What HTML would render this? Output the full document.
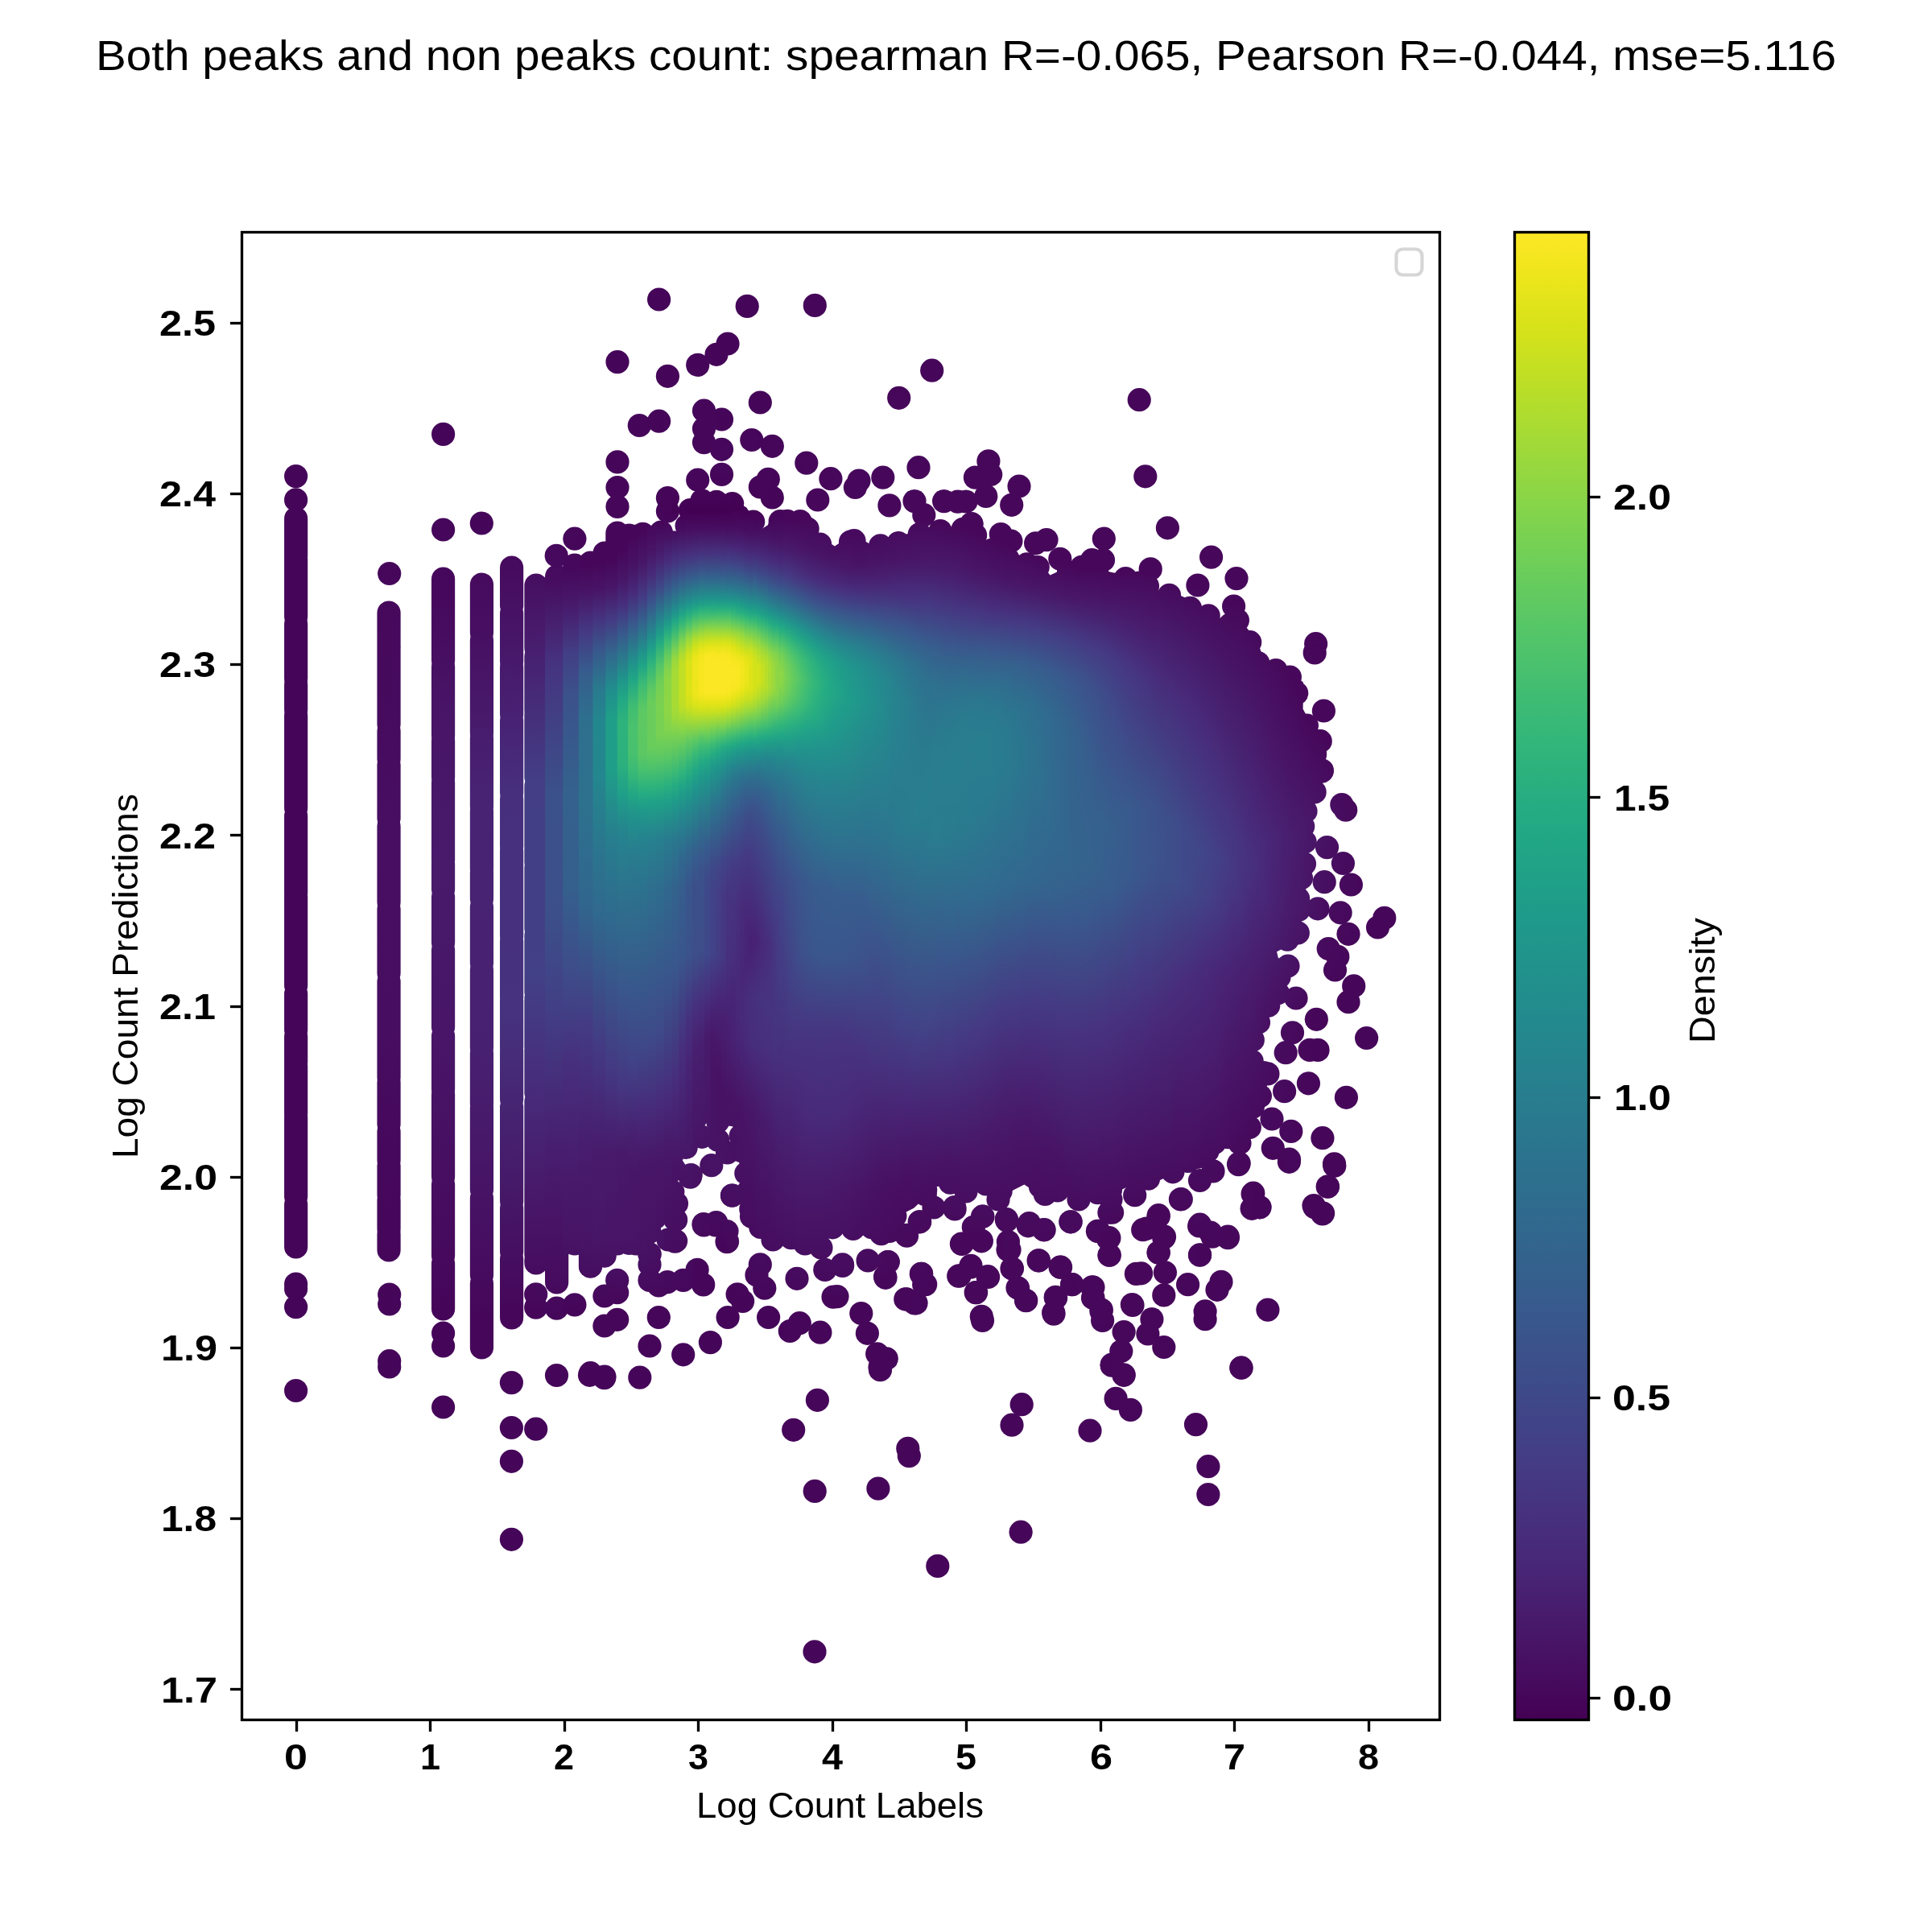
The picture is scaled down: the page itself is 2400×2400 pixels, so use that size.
<!DOCTYPE html>
<html><head><meta charset="utf-8"><title>density scatter</title><style>html,body{margin:0;padding:0;background:#fff;}</style></head><body>
<svg width="2400" height="2400" viewBox="0 0 2400 2400" style="display:block;font-family:'Liberation Sans',sans-serif">
<defs><linearGradient id="g0" gradientUnits="userSpaceOnUse" x1="0" y1="568" x2="0" y2="1752"><stop offset="0.000" stop-color="#450559"/><stop offset="1.000" stop-color="#450559"/></linearGradient>
<linearGradient id="g1" gradientUnits="userSpaceOnUse" x1="0" y1="688" x2="0" y2="1720"><stop offset="0.000" stop-color="#46075a"/><stop offset="0.333" stop-color="#470e61"/><stop offset="0.581" stop-color="#470d60"/><stop offset="0.709" stop-color="#46085c"/><stop offset="1.000" stop-color="#450559"/></linearGradient>
<linearGradient id="g2" gradientUnits="userSpaceOnUse" x1="0" y1="516" x2="0" y2="1772"><stop offset="0.000" stop-color="#450559"/><stop offset="0.178" stop-color="#46085c"/><stop offset="0.290" stop-color="#481467"/><stop offset="0.443" stop-color="#481a6c"/><stop offset="0.640" stop-color="#481467"/><stop offset="0.898" stop-color="#450559"/><stop offset="1.000" stop-color="#450559"/></linearGradient>
<linearGradient id="g3" gradientUnits="userSpaceOnUse" x1="0" y1="628" x2="0" y2="1928"><stop offset="0.000" stop-color="#450559"/><stop offset="0.114" stop-color="#470e61"/><stop offset="0.274" stop-color="#482374"/><stop offset="0.526" stop-color="#482071"/><stop offset="0.775" stop-color="#46075a"/><stop offset="1.000" stop-color="#450559"/></linearGradient>
<linearGradient id="g4" gradientUnits="userSpaceOnUse" x1="0" y1="680" x2="0" y2="1936"><stop offset="0.000" stop-color="#46085c"/><stop offset="0.166" stop-color="#482173"/><stop offset="0.242" stop-color="#472f7d"/><stop offset="0.462" stop-color="#46327e"/><stop offset="0.752" stop-color="#46075a"/><stop offset="1.000" stop-color="#450559"/></linearGradient>
<linearGradient id="g5" gradientUnits="userSpaceOnUse" x1="0" y1="676" x2="0" y2="1800"><stop offset="0.000" stop-color="#46075a"/><stop offset="0.100" stop-color="#481b6d"/><stop offset="0.260" stop-color="#433e85"/><stop offset="0.477" stop-color="#424086"/><stop offset="0.580" stop-color="#472f7d"/><stop offset="0.726" stop-color="#481769"/><stop offset="0.847" stop-color="#46075a"/><stop offset="1.000" stop-color="#450559"/></linearGradient>
<linearGradient id="g6" gradientUnits="userSpaceOnUse" x1="0" y1="656" x2="0" y2="1792"><stop offset="0.000" stop-color="#450559"/><stop offset="0.060" stop-color="#470d60"/><stop offset="0.148" stop-color="#46337f"/><stop offset="0.292" stop-color="#3b518b"/><stop offset="0.426" stop-color="#3c4f8a"/><stop offset="0.525" stop-color="#423f85"/><stop offset="0.683" stop-color="#481d6f"/><stop offset="0.806" stop-color="#470d60"/><stop offset="0.877" stop-color="#450559"/><stop offset="1.000" stop-color="#450559"/></linearGradient>
<linearGradient id="g7" gradientUnits="userSpaceOnUse" x1="0" y1="644" x2="0" y2="1732"><stop offset="0.000" stop-color="#46075a"/><stop offset="0.059" stop-color="#46085c"/><stop offset="0.103" stop-color="#481c6e"/><stop offset="0.154" stop-color="#423f85"/><stop offset="0.202" stop-color="#3b528b"/><stop offset="0.309" stop-color="#34618d"/><stop offset="0.423" stop-color="#355f8d"/><stop offset="0.518" stop-color="#3e4c8a"/><stop offset="0.621" stop-color="#472f7d"/><stop offset="0.743" stop-color="#481b6d"/><stop offset="0.827" stop-color="#471365"/><stop offset="0.908" stop-color="#450559"/><stop offset="1.000" stop-color="#450559"/></linearGradient>
<linearGradient id="g8" gradientUnits="userSpaceOnUse" x1="0" y1="648" x2="0" y2="1732"><stop offset="0.000" stop-color="#46075a"/><stop offset="0.052" stop-color="#46075a"/><stop offset="0.081" stop-color="#481467"/><stop offset="0.129" stop-color="#443b84"/><stop offset="0.173" stop-color="#365d8d"/><stop offset="0.225" stop-color="#2e6f8e"/><stop offset="0.321" stop-color="#2d718e"/><stop offset="0.439" stop-color="#31668e"/><stop offset="0.576" stop-color="#443b84"/><stop offset="0.720" stop-color="#481c6e"/><stop offset="0.834" stop-color="#471365"/><stop offset="0.897" stop-color="#46075a"/><stop offset="1.000" stop-color="#450559"/></linearGradient>
<linearGradient id="g9" gradientUnits="userSpaceOnUse" x1="0" y1="436" x2="0" y2="1736"><stop offset="0.000" stop-color="#450559"/><stop offset="0.203" stop-color="#46075a"/><stop offset="0.228" stop-color="#481467"/><stop offset="0.255" stop-color="#46327e"/><stop offset="0.286" stop-color="#38588c"/><stop offset="0.323" stop-color="#297a8e"/><stop offset="0.357" stop-color="#23888e"/><stop offset="0.409" stop-color="#24868e"/><stop offset="0.477" stop-color="#2b758e"/><stop offset="0.538" stop-color="#30698e"/><stop offset="0.668" stop-color="#443983"/><stop offset="0.769" stop-color="#481a6c"/><stop offset="0.846" stop-color="#481668"/><stop offset="0.911" stop-color="#46075a"/><stop offset="1.000" stop-color="#450559"/></linearGradient>
<linearGradient id="g10" gradientUnits="userSpaceOnUse" x1="0" y1="428" x2="0" y2="1736"><stop offset="0.000" stop-color="#450559"/><stop offset="0.205" stop-color="#46075a"/><stop offset="0.232" stop-color="#481769"/><stop offset="0.263" stop-color="#433d84"/><stop offset="0.294" stop-color="#31688e"/><stop offset="0.327" stop-color="#218e8d"/><stop offset="0.355" stop-color="#1f9f88"/><stop offset="0.404" stop-color="#1f9e89"/><stop offset="0.468" stop-color="#277e8e"/><stop offset="0.557" stop-color="#31668e"/><stop offset="0.685" stop-color="#443a83"/><stop offset="0.768" stop-color="#481a6c"/><stop offset="0.853" stop-color="#481467"/><stop offset="0.911" stop-color="#46075a"/><stop offset="1.000" stop-color="#450559"/></linearGradient>
<linearGradient id="g11" gradientUnits="userSpaceOnUse" x1="0" y1="428" x2="0" y2="1724"><stop offset="0.000" stop-color="#450559"/><stop offset="0.198" stop-color="#46075a"/><stop offset="0.225" stop-color="#481668"/><stop offset="0.250" stop-color="#46307e"/><stop offset="0.278" stop-color="#375b8d"/><stop offset="0.321" stop-color="#1f958b"/><stop offset="0.340" stop-color="#22a884"/><stop offset="0.361" stop-color="#2eb37c"/><stop offset="0.401" stop-color="#2cb17e"/><stop offset="0.432" stop-color="#1f9e89"/><stop offset="0.466" stop-color="#25848e"/><stop offset="0.633" stop-color="#3b528b"/><stop offset="0.710" stop-color="#453781"/><stop offset="0.778" stop-color="#48186a"/><stop offset="0.861" stop-color="#481467"/><stop offset="0.920" stop-color="#46075a"/><stop offset="1.000" stop-color="#450559"/></linearGradient>
<linearGradient id="g12" gradientUnits="userSpaceOnUse" x1="0" y1="436" x2="0" y2="1736"><stop offset="0.000" stop-color="#450559"/><stop offset="0.178" stop-color="#46075a"/><stop offset="0.206" stop-color="#471365"/><stop offset="0.231" stop-color="#472a7a"/><stop offset="0.258" stop-color="#3a548c"/><stop offset="0.298" stop-color="#20928c"/><stop offset="0.314" stop-color="#21a685"/><stop offset="0.342" stop-color="#42be71"/><stop offset="0.360" stop-color="#4ac16d"/><stop offset="0.385" stop-color="#48c16e"/><stop offset="0.403" stop-color="#38b977"/><stop offset="0.425" stop-color="#21a585"/><stop offset="0.446" stop-color="#21918c"/><stop offset="0.483" stop-color="#297b8e"/><stop offset="0.615" stop-color="#39568c"/><stop offset="0.680" stop-color="#414287"/><stop offset="0.751" stop-color="#481f70"/><stop offset="0.785" stop-color="#481668"/><stop offset="0.849" stop-color="#481467"/><stop offset="0.914" stop-color="#46075a"/><stop offset="1.000" stop-color="#450559"/></linearGradient>
<linearGradient id="g13" gradientUnits="userSpaceOnUse" x1="0" y1="504" x2="0" y2="1736"><stop offset="0.000" stop-color="#46075a"/><stop offset="0.127" stop-color="#46075a"/><stop offset="0.159" stop-color="#481769"/><stop offset="0.192" stop-color="#443a83"/><stop offset="0.218" stop-color="#33638d"/><stop offset="0.250" stop-color="#1f958b"/><stop offset="0.263" stop-color="#21a685"/><stop offset="0.282" stop-color="#3dbc74"/><stop offset="0.305" stop-color="#5ac864"/><stop offset="0.318" stop-color="#5ec962"/><stop offset="0.351" stop-color="#5cc863"/><stop offset="0.367" stop-color="#48c16e"/><stop offset="0.390" stop-color="#26ad81"/><stop offset="0.406" stop-color="#1e9b8a"/><stop offset="0.435" stop-color="#25838e"/><stop offset="0.494" stop-color="#2d708e"/><stop offset="0.649" stop-color="#3f4788"/><stop offset="0.714" stop-color="#482979"/><stop offset="0.766" stop-color="#481668"/><stop offset="0.847" stop-color="#471365"/><stop offset="0.909" stop-color="#46075a"/><stop offset="1.000" stop-color="#450559"/></linearGradient>
<linearGradient id="g14" gradientUnits="userSpaceOnUse" x1="0" y1="348" x2="0" y2="1732"><stop offset="0.000" stop-color="#450559"/><stop offset="0.220" stop-color="#46075a"/><stop offset="0.243" stop-color="#481467"/><stop offset="0.266" stop-color="#472d7b"/><stop offset="0.289" stop-color="#3a548c"/><stop offset="0.321" stop-color="#218f8d"/><stop offset="0.332" stop-color="#1fa287"/><stop offset="0.344" stop-color="#2fb47c"/><stop offset="0.367" stop-color="#5cc863"/><stop offset="0.379" stop-color="#69cd5b"/><stop offset="0.419" stop-color="#69cd5b"/><stop offset="0.436" stop-color="#50c46a"/><stop offset="0.457" stop-color="#2ab07f"/><stop offset="0.468" stop-color="#1fa287"/><stop offset="0.500" stop-color="#26828e"/><stop offset="0.543" stop-color="#2e6f8e"/><stop offset="0.679" stop-color="#3e4a89"/><stop offset="0.740" stop-color="#472d7b"/><stop offset="0.792" stop-color="#481668"/><stop offset="0.858" stop-color="#471365"/><stop offset="0.925" stop-color="#46075a"/><stop offset="1.000" stop-color="#450559"/></linearGradient>
<linearGradient id="g15" gradientUnits="userSpaceOnUse" x1="0" y1="348" x2="0" y2="1692"><stop offset="0.000" stop-color="#450559"/><stop offset="0.199" stop-color="#450559"/><stop offset="0.226" stop-color="#46075a"/><stop offset="0.256" stop-color="#482071"/><stop offset="0.283" stop-color="#3f4788"/><stop offset="0.312" stop-color="#26818e"/><stop offset="0.327" stop-color="#1e9d89"/><stop offset="0.336" stop-color="#26ad81"/><stop offset="0.357" stop-color="#56c667"/><stop offset="0.372" stop-color="#70cf57"/><stop offset="0.387" stop-color="#7ad151"/><stop offset="0.420" stop-color="#77d153"/><stop offset="0.440" stop-color="#5ec962"/><stop offset="0.467" stop-color="#2eb37c"/><stop offset="0.482" stop-color="#1fa187"/><stop offset="0.515" stop-color="#27808e"/><stop offset="0.560" stop-color="#2e6d8e"/><stop offset="0.693" stop-color="#3e4a89"/><stop offset="0.756" stop-color="#472d7b"/><stop offset="0.812" stop-color="#481668"/><stop offset="0.887" stop-color="#471164"/><stop offset="0.952" stop-color="#46075a"/><stop offset="1.000" stop-color="#450559"/></linearGradient>
<linearGradient id="g16" gradientUnits="userSpaceOnUse" x1="0" y1="348" x2="0" y2="1696"><stop offset="0.000" stop-color="#450559"/><stop offset="0.181" stop-color="#46075a"/><stop offset="0.217" stop-color="#450457"/><stop offset="0.234" stop-color="#470e61"/><stop offset="0.261" stop-color="#472f7d"/><stop offset="0.285" stop-color="#375a8c"/><stop offset="0.312" stop-color="#21918c"/><stop offset="0.320" stop-color="#20a386"/><stop offset="0.329" stop-color="#31b57b"/><stop offset="0.347" stop-color="#67cc5c"/><stop offset="0.359" stop-color="#81d34d"/><stop offset="0.368" stop-color="#8bd646"/><stop offset="0.398" stop-color="#8ed645"/><stop offset="0.415" stop-color="#7fd34e"/><stop offset="0.442" stop-color="#56c667"/><stop offset="0.466" stop-color="#29af7f"/><stop offset="0.481" stop-color="#1f9e89"/><stop offset="0.513" stop-color="#287c8e"/><stop offset="0.555" stop-color="#30698e"/><stop offset="0.653" stop-color="#3a538b"/><stop offset="0.745" stop-color="#472f7d"/><stop offset="0.798" stop-color="#48186a"/><stop offset="0.840" stop-color="#471365"/><stop offset="0.908" stop-color="#460b5e"/><stop offset="0.973" stop-color="#450559"/><stop offset="1.000" stop-color="#450559"/></linearGradient>
<linearGradient id="g17" gradientUnits="userSpaceOnUse" x1="0" y1="444" x2="0" y2="1704"><stop offset="0.000" stop-color="#450559"/><stop offset="0.121" stop-color="#46075a"/><stop offset="0.152" stop-color="#440256"/><stop offset="0.171" stop-color="#470d60"/><stop offset="0.203" stop-color="#453581"/><stop offset="0.225" stop-color="#355e8d"/><stop offset="0.251" stop-color="#20928c"/><stop offset="0.260" stop-color="#22a785"/><stop offset="0.270" stop-color="#38b977"/><stop offset="0.289" stop-color="#7cd250"/><stop offset="0.298" stop-color="#98d83e"/><stop offset="0.308" stop-color="#a5db36"/><stop offset="0.343" stop-color="#a8db34"/><stop offset="0.356" stop-color="#9bd93c"/><stop offset="0.368" stop-color="#81d34d"/><stop offset="0.406" stop-color="#3fbc73"/><stop offset="0.422" stop-color="#25ac82"/><stop offset="0.438" stop-color="#1f9a8a"/><stop offset="0.476" stop-color="#2a778e"/><stop offset="0.521" stop-color="#33638d"/><stop offset="0.603" stop-color="#39568c"/><stop offset="0.714" stop-color="#472d7b"/><stop offset="0.794" stop-color="#481467"/><stop offset="0.959" stop-color="#450559"/><stop offset="1.000" stop-color="#450559"/></linearGradient>
<linearGradient id="g18" gradientUnits="userSpaceOnUse" x1="0" y1="452" x2="0" y2="1708"><stop offset="0.000" stop-color="#450457"/><stop offset="0.099" stop-color="#46085c"/><stop offset="0.146" stop-color="#440256"/><stop offset="0.162" stop-color="#460b5e"/><stop offset="0.188" stop-color="#472c7a"/><stop offset="0.210" stop-color="#3a538b"/><stop offset="0.239" stop-color="#21918c"/><stop offset="0.248" stop-color="#21a685"/><stop offset="0.258" stop-color="#3aba76"/><stop offset="0.274" stop-color="#7fd34e"/><stop offset="0.287" stop-color="#addc30"/><stop offset="0.296" stop-color="#c0df25"/><stop offset="0.331" stop-color="#c2df23"/><stop offset="0.341" stop-color="#bade28"/><stop offset="0.360" stop-color="#8bd646"/><stop offset="0.376" stop-color="#65cb5e"/><stop offset="0.404" stop-color="#2fb47c"/><stop offset="0.420" stop-color="#1fa287"/><stop offset="0.449" stop-color="#25858e"/><stop offset="0.490" stop-color="#31668e"/><stop offset="0.529" stop-color="#375b8d"/><stop offset="0.586" stop-color="#39568c"/><stop offset="0.675" stop-color="#472f7d"/><stop offset="0.809" stop-color="#471164"/><stop offset="0.952" stop-color="#450559"/><stop offset="1.000" stop-color="#450559"/></linearGradient>
<linearGradient id="g19" gradientUnits="userSpaceOnUse" x1="0" y1="432" x2="0" y2="1708"><stop offset="0.000" stop-color="#450559"/><stop offset="0.056" stop-color="#46075a"/><stop offset="0.129" stop-color="#46075a"/><stop offset="0.160" stop-color="#440154"/><stop offset="0.179" stop-color="#471063"/><stop offset="0.201" stop-color="#472f7d"/><stop offset="0.223" stop-color="#375a8c"/><stop offset="0.248" stop-color="#20928c"/><stop offset="0.254" stop-color="#1fa188"/><stop offset="0.260" stop-color="#2ab07f"/><stop offset="0.270" stop-color="#50c46a"/><stop offset="0.282" stop-color="#90d743"/><stop offset="0.292" stop-color="#b8de29"/><stop offset="0.298" stop-color="#cde11d"/><stop offset="0.307" stop-color="#dae319"/><stop offset="0.335" stop-color="#dde318"/><stop offset="0.348" stop-color="#d0e11c"/><stop offset="0.357" stop-color="#b5de2b"/><stop offset="0.382" stop-color="#63cb5f"/><stop offset="0.404" stop-color="#34b679"/><stop offset="0.420" stop-color="#21a685"/><stop offset="0.439" stop-color="#20928c"/><stop offset="0.489" stop-color="#31668e"/><stop offset="0.524" stop-color="#39558c"/><stop offset="0.592" stop-color="#3b528b"/><stop offset="0.655" stop-color="#46307e"/><stop offset="0.696" stop-color="#482475"/><stop offset="0.856" stop-color="#460b5e"/><stop offset="0.975" stop-color="#450559"/><stop offset="1.000" stop-color="#450559"/></linearGradient>
<linearGradient id="g20" gradientUnits="userSpaceOnUse" x1="0" y1="428" x2="0" y2="1700"><stop offset="0.000" stop-color="#450559"/><stop offset="0.057" stop-color="#46075a"/><stop offset="0.132" stop-color="#46075a"/><stop offset="0.164" stop-color="#440154"/><stop offset="0.182" stop-color="#471063"/><stop offset="0.208" stop-color="#453781"/><stop offset="0.230" stop-color="#32648e"/><stop offset="0.252" stop-color="#1f988b"/><stop offset="0.258" stop-color="#22a884"/><stop offset="0.264" stop-color="#35b779"/><stop offset="0.277" stop-color="#73d056"/><stop offset="0.286" stop-color="#a8db34"/><stop offset="0.292" stop-color="#c5e021"/><stop offset="0.299" stop-color="#dae319"/><stop offset="0.305" stop-color="#eae51a"/><stop offset="0.314" stop-color="#efe51c"/><stop offset="0.343" stop-color="#ece51b"/><stop offset="0.352" stop-color="#dae319"/><stop offset="0.362" stop-color="#bade28"/><stop offset="0.387" stop-color="#5ac864"/><stop offset="0.399" stop-color="#3aba76"/><stop offset="0.415" stop-color="#22a884"/><stop offset="0.434" stop-color="#1f948c"/><stop offset="0.497" stop-color="#355e8d"/><stop offset="0.528" stop-color="#3c4f8a"/><stop offset="0.597" stop-color="#3d4e8a"/><stop offset="0.648" stop-color="#472f7d"/><stop offset="0.689" stop-color="#481f70"/><stop offset="0.821" stop-color="#471063"/><stop offset="0.903" stop-color="#46075a"/><stop offset="1.000" stop-color="#450559"/></linearGradient>
<linearGradient id="g21" gradientUnits="userSpaceOnUse" x1="0" y1="428" x2="0" y2="1688"><stop offset="0.000" stop-color="#450559"/><stop offset="0.057" stop-color="#46075a"/><stop offset="0.133" stop-color="#46075a"/><stop offset="0.165" stop-color="#440154"/><stop offset="0.181" stop-color="#470d60"/><stop offset="0.206" stop-color="#46327e"/><stop offset="0.225" stop-color="#38598c"/><stop offset="0.251" stop-color="#20938c"/><stop offset="0.257" stop-color="#20a386"/><stop offset="0.263" stop-color="#2fb47c"/><stop offset="0.270" stop-color="#4cc26c"/><stop offset="0.286" stop-color="#a5db36"/><stop offset="0.295" stop-color="#d2e21b"/><stop offset="0.302" stop-color="#eae51a"/><stop offset="0.308" stop-color="#f6e620"/><stop offset="0.343" stop-color="#f8e621"/><stop offset="0.352" stop-color="#e7e419"/><stop offset="0.359" stop-color="#d5e21a"/><stop offset="0.378" stop-color="#86d549"/><stop offset="0.387" stop-color="#5cc863"/><stop offset="0.397" stop-color="#3dbc74"/><stop offset="0.410" stop-color="#25ac82"/><stop offset="0.425" stop-color="#1e9b8a"/><stop offset="0.479" stop-color="#306a8e"/><stop offset="0.517" stop-color="#3b528b"/><stop offset="0.549" stop-color="#3c4f8a"/><stop offset="0.597" stop-color="#3d4e8a"/><stop offset="0.648" stop-color="#472f7d"/><stop offset="0.689" stop-color="#481f70"/><stop offset="0.835" stop-color="#470e61"/><stop offset="0.905" stop-color="#46075a"/><stop offset="1.000" stop-color="#450559"/></linearGradient>
<linearGradient id="g22" gradientUnits="userSpaceOnUse" x1="0" y1="420" x2="0" y2="1692"><stop offset="0.000" stop-color="#450559"/><stop offset="0.063" stop-color="#46075a"/><stop offset="0.138" stop-color="#46075a"/><stop offset="0.170" stop-color="#440154"/><stop offset="0.186" stop-color="#470d60"/><stop offset="0.211" stop-color="#46337f"/><stop offset="0.233" stop-color="#34608d"/><stop offset="0.255" stop-color="#1f958b"/><stop offset="0.261" stop-color="#21a585"/><stop offset="0.267" stop-color="#32b67a"/><stop offset="0.274" stop-color="#50c46a"/><stop offset="0.286" stop-color="#9bd93c"/><stop offset="0.296" stop-color="#cde11d"/><stop offset="0.302" stop-color="#e7e419"/><stop offset="0.311" stop-color="#fbe723"/><stop offset="0.346" stop-color="#fbe723"/><stop offset="0.352" stop-color="#f1e51d"/><stop offset="0.358" stop-color="#dfe318"/><stop offset="0.365" stop-color="#c8e020"/><stop offset="0.387" stop-color="#69cd5b"/><stop offset="0.399" stop-color="#3bbb75"/><stop offset="0.412" stop-color="#23a983"/><stop offset="0.428" stop-color="#1f968b"/><stop offset="0.494" stop-color="#365d8d"/><stop offset="0.528" stop-color="#3e4989"/><stop offset="0.601" stop-color="#3f4889"/><stop offset="0.642" stop-color="#472f7d"/><stop offset="0.679" stop-color="#481b6d"/><stop offset="0.736" stop-color="#481769"/><stop offset="0.818" stop-color="#471164"/><stop offset="0.887" stop-color="#46075a"/><stop offset="1.000" stop-color="#450559"/></linearGradient>
<linearGradient id="g23" gradientUnits="userSpaceOnUse" x1="0" y1="416" x2="0" y2="1692"><stop offset="0.000" stop-color="#450559"/><stop offset="0.066" stop-color="#46075a"/><stop offset="0.141" stop-color="#46075a"/><stop offset="0.172" stop-color="#440154"/><stop offset="0.188" stop-color="#470d60"/><stop offset="0.213" stop-color="#46337f"/><stop offset="0.235" stop-color="#34608d"/><stop offset="0.257" stop-color="#1f958b"/><stop offset="0.263" stop-color="#21a585"/><stop offset="0.270" stop-color="#32b67a"/><stop offset="0.282" stop-color="#75d054"/><stop offset="0.292" stop-color="#b0dd2f"/><stop offset="0.298" stop-color="#d0e11c"/><stop offset="0.304" stop-color="#e7e419"/><stop offset="0.310" stop-color="#f8e621"/><stop offset="0.323" stop-color="#fde725"/><stop offset="0.348" stop-color="#fbe723"/><stop offset="0.354" stop-color="#f1e51d"/><stop offset="0.361" stop-color="#dfe318"/><stop offset="0.367" stop-color="#c8e020"/><stop offset="0.382" stop-color="#81d34d"/><stop offset="0.392" stop-color="#56c667"/><stop offset="0.398" stop-color="#3dbc74"/><stop offset="0.408" stop-color="#25ac82"/><stop offset="0.420" stop-color="#1f9a8a"/><stop offset="0.455" stop-color="#2a778e"/><stop offset="0.514" stop-color="#3e4a89"/><stop offset="0.542" stop-color="#414287"/><stop offset="0.602" stop-color="#414287"/><stop offset="0.646" stop-color="#482979"/><stop offset="0.683" stop-color="#481769"/><stop offset="0.715" stop-color="#471365"/><stop offset="0.809" stop-color="#471365"/><stop offset="0.890" stop-color="#450559"/><stop offset="1.000" stop-color="#450559"/></linearGradient>
<linearGradient id="g24" gradientUnits="userSpaceOnUse" x1="0" y1="408" x2="0" y2="1692"><stop offset="0.000" stop-color="#450559"/><stop offset="0.059" stop-color="#450559"/><stop offset="0.137" stop-color="#46085c"/><stop offset="0.178" stop-color="#440154"/><stop offset="0.193" stop-color="#470d60"/><stop offset="0.218" stop-color="#46337f"/><stop offset="0.240" stop-color="#34608d"/><stop offset="0.262" stop-color="#1f958b"/><stop offset="0.268" stop-color="#21a585"/><stop offset="0.274" stop-color="#32b67a"/><stop offset="0.280" stop-color="#50c46a"/><stop offset="0.293" stop-color="#9bd93c"/><stop offset="0.302" stop-color="#cde11d"/><stop offset="0.308" stop-color="#e7e419"/><stop offset="0.318" stop-color="#fbe723"/><stop offset="0.352" stop-color="#fbe723"/><stop offset="0.358" stop-color="#f1e51d"/><stop offset="0.364" stop-color="#dfe318"/><stop offset="0.371" stop-color="#c8e020"/><stop offset="0.389" stop-color="#69cd5b"/><stop offset="0.402" stop-color="#35b779"/><stop offset="0.411" stop-color="#22a785"/><stop offset="0.424" stop-color="#1f958b"/><stop offset="0.461" stop-color="#2d718e"/><stop offset="0.523" stop-color="#414487"/><stop offset="0.548" stop-color="#433e85"/><stop offset="0.607" stop-color="#433d84"/><stop offset="0.651" stop-color="#482576"/><stop offset="0.695" stop-color="#481769"/><stop offset="0.729" stop-color="#471164"/><stop offset="0.807" stop-color="#471365"/><stop offset="0.894" stop-color="#450559"/><stop offset="1.000" stop-color="#450559"/></linearGradient>
<linearGradient id="g25" gradientUnits="userSpaceOnUse" x1="0" y1="404" x2="0" y2="1684"><stop offset="0.000" stop-color="#450559"/><stop offset="0.062" stop-color="#450559"/><stop offset="0.141" stop-color="#46085c"/><stop offset="0.181" stop-color="#440154"/><stop offset="0.197" stop-color="#470d60"/><stop offset="0.222" stop-color="#46327e"/><stop offset="0.241" stop-color="#38598c"/><stop offset="0.263" stop-color="#228d8d"/><stop offset="0.269" stop-color="#1e9d89"/><stop offset="0.275" stop-color="#27ad81"/><stop offset="0.281" stop-color="#40bd72"/><stop offset="0.294" stop-color="#89d548"/><stop offset="0.303" stop-color="#c0df25"/><stop offset="0.309" stop-color="#dde318"/><stop offset="0.319" stop-color="#f8e621"/><stop offset="0.331" stop-color="#fde725"/><stop offset="0.356" stop-color="#fbe723"/><stop offset="0.362" stop-color="#f1e51d"/><stop offset="0.369" stop-color="#dde318"/><stop offset="0.375" stop-color="#c2df23"/><stop offset="0.388" stop-color="#84d44b"/><stop offset="0.400" stop-color="#46c06f"/><stop offset="0.409" stop-color="#27ad81"/><stop offset="0.419" stop-color="#1e9d89"/><stop offset="0.447" stop-color="#297a8e"/><stop offset="0.522" stop-color="#414287"/><stop offset="0.556" stop-color="#453882"/><stop offset="0.613" stop-color="#453781"/><stop offset="0.672" stop-color="#482071"/><stop offset="0.747" stop-color="#471164"/><stop offset="0.822" stop-color="#471164"/><stop offset="0.903" stop-color="#450559"/><stop offset="1.000" stop-color="#450559"/></linearGradient>
<linearGradient id="g26" gradientUnits="userSpaceOnUse" x1="0" y1="404" x2="0" y2="1660"><stop offset="0.000" stop-color="#450559"/><stop offset="0.064" stop-color="#450559"/><stop offset="0.143" stop-color="#46085c"/><stop offset="0.185" stop-color="#440154"/><stop offset="0.204" stop-color="#471063"/><stop offset="0.229" stop-color="#453882"/><stop offset="0.252" stop-color="#31668e"/><stop offset="0.271" stop-color="#20938c"/><stop offset="0.277" stop-color="#20a486"/><stop offset="0.283" stop-color="#31b57b"/><stop offset="0.296" stop-color="#73d056"/><stop offset="0.306" stop-color="#addc30"/><stop offset="0.312" stop-color="#cde11d"/><stop offset="0.318" stop-color="#e5e419"/><stop offset="0.322" stop-color="#efe51c"/><stop offset="0.331" stop-color="#fbe723"/><stop offset="0.360" stop-color="#fbe723"/><stop offset="0.366" stop-color="#f4e61e"/><stop offset="0.373" stop-color="#e2e418"/><stop offset="0.379" stop-color="#cae11f"/><stop offset="0.392" stop-color="#8bd646"/><stop offset="0.404" stop-color="#4cc26c"/><stop offset="0.414" stop-color="#2ab07f"/><stop offset="0.420" stop-color="#20a386"/><stop offset="0.436" stop-color="#238a8d"/><stop offset="0.462" stop-color="#2e6f8e"/><stop offset="0.529" stop-color="#424086"/><stop offset="0.564" stop-color="#463480"/><stop offset="0.631" stop-color="#472f7d"/><stop offset="0.672" stop-color="#482475"/><stop offset="0.726" stop-color="#481a6c"/><stop offset="0.771" stop-color="#471164"/><stop offset="0.847" stop-color="#471063"/><stop offset="0.917" stop-color="#46075a"/><stop offset="1.000" stop-color="#450559"/></linearGradient>
<linearGradient id="g27" gradientUnits="userSpaceOnUse" x1="0" y1="368" x2="0" y2="1660"><stop offset="0.000" stop-color="#450559"/><stop offset="0.090" stop-color="#450559"/><stop offset="0.167" stop-color="#46085c"/><stop offset="0.204" stop-color="#440154"/><stop offset="0.220" stop-color="#460a5d"/><stop offset="0.241" stop-color="#482576"/><stop offset="0.260" stop-color="#3e4989"/><stop offset="0.285" stop-color="#26828e"/><stop offset="0.294" stop-color="#1f9a8a"/><stop offset="0.300" stop-color="#25ab82"/><stop offset="0.307" stop-color="#3bbb75"/><stop offset="0.313" stop-color="#5cc863"/><stop offset="0.328" stop-color="#b5de2b"/><stop offset="0.334" stop-color="#d2e21b"/><stop offset="0.337" stop-color="#dfe318"/><stop offset="0.347" stop-color="#f4e61e"/><stop offset="0.359" stop-color="#fde725"/><stop offset="0.378" stop-color="#f8e621"/><stop offset="0.387" stop-color="#e5e419"/><stop offset="0.393" stop-color="#d0e11c"/><stop offset="0.402" stop-color="#a5db36"/><stop offset="0.418" stop-color="#54c568"/><stop offset="0.427" stop-color="#2eb37c"/><stop offset="0.433" stop-color="#21a685"/><stop offset="0.443" stop-color="#1f948c"/><stop offset="0.461" stop-color="#29798e"/><stop offset="0.495" stop-color="#365c8d"/><stop offset="0.548" stop-color="#443a83"/><stop offset="0.585" stop-color="#46337f"/><stop offset="0.635" stop-color="#472f7d"/><stop offset="0.672" stop-color="#482576"/><stop offset="0.718" stop-color="#482173"/><stop offset="0.771" stop-color="#471365"/><stop offset="0.864" stop-color="#470e61"/><stop offset="0.926" stop-color="#46075a"/><stop offset="1.000" stop-color="#450559"/></linearGradient>
<linearGradient id="g28" gradientUnits="userSpaceOnUse" x1="0" y1="360" x2="0" y2="1656"><stop offset="0.000" stop-color="#450559"/><stop offset="0.096" stop-color="#450559"/><stop offset="0.170" stop-color="#46085c"/><stop offset="0.210" stop-color="#440154"/><stop offset="0.228" stop-color="#470d60"/><stop offset="0.247" stop-color="#482576"/><stop offset="0.265" stop-color="#3f4788"/><stop offset="0.290" stop-color="#277f8e"/><stop offset="0.302" stop-color="#1fa088"/><stop offset="0.309" stop-color="#29af7f"/><stop offset="0.318" stop-color="#54c568"/><stop offset="0.330" stop-color="#9dd93b"/><stop offset="0.340" stop-color="#cae11f"/><stop offset="0.346" stop-color="#dfe318"/><stop offset="0.355" stop-color="#f4e61e"/><stop offset="0.364" stop-color="#fbe723"/><stop offset="0.380" stop-color="#f8e621"/><stop offset="0.389" stop-color="#e5e419"/><stop offset="0.398" stop-color="#c8e020"/><stop offset="0.417" stop-color="#6ccd5a"/><stop offset="0.426" stop-color="#3fbc73"/><stop offset="0.435" stop-color="#23a983"/><stop offset="0.444" stop-color="#1f968b"/><stop offset="0.466" stop-color="#2a768e"/><stop offset="0.506" stop-color="#3a548c"/><stop offset="0.556" stop-color="#453882"/><stop offset="0.590" stop-color="#472f7d"/><stop offset="0.673" stop-color="#482878"/><stop offset="0.719" stop-color="#482576"/><stop offset="0.781" stop-color="#471365"/><stop offset="0.861" stop-color="#471063"/><stop offset="0.935" stop-color="#46075a"/><stop offset="1.000" stop-color="#450559"/></linearGradient>
<linearGradient id="g29" gradientUnits="userSpaceOnUse" x1="0" y1="356" x2="0" y2="1640"><stop offset="0.000" stop-color="#450559"/><stop offset="0.100" stop-color="#450559"/><stop offset="0.174" stop-color="#46085c"/><stop offset="0.218" stop-color="#440256"/><stop offset="0.234" stop-color="#470d60"/><stop offset="0.255" stop-color="#482878"/><stop offset="0.274" stop-color="#3e4c8a"/><stop offset="0.299" stop-color="#25838e"/><stop offset="0.308" stop-color="#1e9c89"/><stop offset="0.315" stop-color="#26ad81"/><stop offset="0.321" stop-color="#3dbc74"/><stop offset="0.336" stop-color="#90d743"/><stop offset="0.343" stop-color="#b0dd2f"/><stop offset="0.352" stop-color="#d5e21a"/><stop offset="0.361" stop-color="#efe51c"/><stop offset="0.368" stop-color="#f4e61e"/><stop offset="0.386" stop-color="#f1e51d"/><stop offset="0.393" stop-color="#e5e419"/><stop offset="0.402" stop-color="#c8e020"/><stop offset="0.411" stop-color="#a2da37"/><stop offset="0.430" stop-color="#46c06f"/><stop offset="0.439" stop-color="#26ad81"/><stop offset="0.445" stop-color="#1fa088"/><stop offset="0.470" stop-color="#2a768e"/><stop offset="0.498" stop-color="#375b8d"/><stop offset="0.555" stop-color="#443983"/><stop offset="0.598" stop-color="#472c7a"/><stop offset="0.664" stop-color="#482677"/><stop offset="0.707" stop-color="#472a7a"/><stop offset="0.741" stop-color="#482475"/><stop offset="0.794" stop-color="#481467"/><stop offset="0.885" stop-color="#470e61"/><stop offset="0.960" stop-color="#46075a"/><stop offset="1.000" stop-color="#450559"/></linearGradient>
<linearGradient id="g30" gradientUnits="userSpaceOnUse" x1="0" y1="356" x2="0" y2="1640"><stop offset="0.000" stop-color="#450559"/><stop offset="0.100" stop-color="#450559"/><stop offset="0.174" stop-color="#46085c"/><stop offset="0.218" stop-color="#440256"/><stop offset="0.237" stop-color="#470e61"/><stop offset="0.262" stop-color="#46307e"/><stop offset="0.280" stop-color="#39558c"/><stop offset="0.305" stop-color="#21908d"/><stop offset="0.312" stop-color="#1fa188"/><stop offset="0.318" stop-color="#2ab07f"/><stop offset="0.324" stop-color="#44bf70"/><stop offset="0.340" stop-color="#95d840"/><stop offset="0.352" stop-color="#cae11f"/><stop offset="0.358" stop-color="#dfe318"/><stop offset="0.368" stop-color="#ece51b"/><stop offset="0.383" stop-color="#eae51a"/><stop offset="0.389" stop-color="#e2e418"/><stop offset="0.399" stop-color="#c8e020"/><stop offset="0.411" stop-color="#98d83e"/><stop offset="0.427" stop-color="#4ec36b"/><stop offset="0.436" stop-color="#2cb17e"/><stop offset="0.442" stop-color="#20a486"/><stop offset="0.455" stop-color="#228c8d"/><stop offset="0.480" stop-color="#30698e"/><stop offset="0.511" stop-color="#3d4e8a"/><stop offset="0.551" stop-color="#443983"/><stop offset="0.617" stop-color="#482576"/><stop offset="0.651" stop-color="#482475"/><stop offset="0.692" stop-color="#472d7b"/><stop offset="0.729" stop-color="#472a7a"/><stop offset="0.794" stop-color="#481668"/><stop offset="0.900" stop-color="#470d60"/><stop offset="0.988" stop-color="#450559"/><stop offset="1.000" stop-color="#450559"/></linearGradient>
<linearGradient id="g31" gradientUnits="userSpaceOnUse" x1="0" y1="356" x2="0" y2="1640"><stop offset="0.000" stop-color="#450559"/><stop offset="0.100" stop-color="#450559"/><stop offset="0.171" stop-color="#46085c"/><stop offset="0.218" stop-color="#440256"/><stop offset="0.240" stop-color="#471164"/><stop offset="0.265" stop-color="#463480"/><stop offset="0.287" stop-color="#34608d"/><stop offset="0.308" stop-color="#1f948c"/><stop offset="0.315" stop-color="#20a486"/><stop offset="0.321" stop-color="#2fb47c"/><stop offset="0.330" stop-color="#5cc863"/><stop offset="0.343" stop-color="#a2da37"/><stop offset="0.352" stop-color="#cae11f"/><stop offset="0.361" stop-color="#dfe318"/><stop offset="0.389" stop-color="#dde318"/><stop offset="0.399" stop-color="#c8e020"/><stop offset="0.408" stop-color="#a2da37"/><stop offset="0.424" stop-color="#54c568"/><stop offset="0.433" stop-color="#31b57b"/><stop offset="0.439" stop-color="#22a884"/><stop offset="0.449" stop-color="#1f958b"/><stop offset="0.474" stop-color="#2e6f8e"/><stop offset="0.508" stop-color="#3c4f8a"/><stop offset="0.548" stop-color="#443b84"/><stop offset="0.636" stop-color="#482071"/><stop offset="0.682" stop-color="#472e7c"/><stop offset="0.729" stop-color="#472d7b"/><stop offset="0.794" stop-color="#481769"/><stop offset="0.919" stop-color="#460b5e"/><stop offset="1.000" stop-color="#450559"/></linearGradient>
<linearGradient id="g32" gradientUnits="userSpaceOnUse" x1="0" y1="360" x2="0" y2="1648"><stop offset="0.000" stop-color="#450559"/><stop offset="0.096" stop-color="#450559"/><stop offset="0.168" stop-color="#46085c"/><stop offset="0.211" stop-color="#440256"/><stop offset="0.230" stop-color="#460b5e"/><stop offset="0.252" stop-color="#482576"/><stop offset="0.273" stop-color="#3d4d8a"/><stop offset="0.301" stop-color="#228c8d"/><stop offset="0.311" stop-color="#20a486"/><stop offset="0.317" stop-color="#2fb47c"/><stop offset="0.329" stop-color="#67cc5c"/><stop offset="0.342" stop-color="#a2da37"/><stop offset="0.348" stop-color="#bddf26"/><stop offset="0.357" stop-color="#d2e21b"/><stop offset="0.382" stop-color="#d5e21a"/><stop offset="0.388" stop-color="#cde11d"/><stop offset="0.401" stop-color="#a5db36"/><stop offset="0.416" stop-color="#63cb5f"/><stop offset="0.429" stop-color="#31b57b"/><stop offset="0.435" stop-color="#22a884"/><stop offset="0.444" stop-color="#1f958b"/><stop offset="0.469" stop-color="#2e6f8e"/><stop offset="0.497" stop-color="#3a548c"/><stop offset="0.534" stop-color="#424186"/><stop offset="0.627" stop-color="#482173"/><stop offset="0.680" stop-color="#46307e"/><stop offset="0.727" stop-color="#472e7c"/><stop offset="0.789" stop-color="#48186a"/><stop offset="0.929" stop-color="#460a5d"/><stop offset="1.000" stop-color="#450559"/></linearGradient>
<linearGradient id="g33" gradientUnits="userSpaceOnUse" x1="0" y1="364" x2="0" y2="1656"><stop offset="0.000" stop-color="#450559"/><stop offset="0.093" stop-color="#450559"/><stop offset="0.170" stop-color="#46075a"/><stop offset="0.214" stop-color="#450457"/><stop offset="0.232" stop-color="#471164"/><stop offset="0.257" stop-color="#46327e"/><stop offset="0.276" stop-color="#39568c"/><stop offset="0.300" stop-color="#21908d"/><stop offset="0.307" stop-color="#1fa088"/><stop offset="0.313" stop-color="#29af7f"/><stop offset="0.319" stop-color="#3fbc73"/><stop offset="0.334" stop-color="#89d548"/><stop offset="0.344" stop-color="#b0dd2f"/><stop offset="0.359" stop-color="#d2e21b"/><stop offset="0.372" stop-color="#d5e21a"/><stop offset="0.378" stop-color="#cde11d"/><stop offset="0.390" stop-color="#b0dd2f"/><stop offset="0.406" stop-color="#75d054"/><stop offset="0.421" stop-color="#37b878"/><stop offset="0.427" stop-color="#25ac82"/><stop offset="0.437" stop-color="#1f9a8a"/><stop offset="0.458" stop-color="#2a768e"/><stop offset="0.492" stop-color="#39568c"/><stop offset="0.529" stop-color="#414487"/><stop offset="0.622" stop-color="#482576"/><stop offset="0.678" stop-color="#46327e"/><stop offset="0.724" stop-color="#472e7c"/><stop offset="0.786" stop-color="#481a6c"/><stop offset="0.981" stop-color="#450559"/><stop offset="1.000" stop-color="#450559"/></linearGradient>
<linearGradient id="g34" gradientUnits="userSpaceOnUse" x1="0" y1="476" x2="0" y2="1660"><stop offset="0.000" stop-color="#450559"/><stop offset="0.098" stop-color="#46075a"/><stop offset="0.135" stop-color="#450457"/><stop offset="0.152" stop-color="#460b5e"/><stop offset="0.179" stop-color="#482677"/><stop offset="0.203" stop-color="#3d4d8a"/><stop offset="0.233" stop-color="#228c8d"/><stop offset="0.243" stop-color="#1fa287"/><stop offset="0.250" stop-color="#2cb17e"/><stop offset="0.264" stop-color="#5ec962"/><stop offset="0.277" stop-color="#95d840"/><stop offset="0.284" stop-color="#aadc32"/><stop offset="0.297" stop-color="#c5e021"/><stop offset="0.311" stop-color="#c8e020"/><stop offset="0.318" stop-color="#c0df25"/><stop offset="0.334" stop-color="#9bd93c"/><stop offset="0.358" stop-color="#48c16e"/><stop offset="0.368" stop-color="#2ab07f"/><stop offset="0.375" stop-color="#20a486"/><stop offset="0.389" stop-color="#228d8d"/><stop offset="0.416" stop-color="#2e6d8e"/><stop offset="0.459" stop-color="#3c4f8a"/><stop offset="0.564" stop-color="#472d7b"/><stop offset="0.591" stop-color="#482979"/><stop offset="0.649" stop-color="#46337f"/><stop offset="0.696" stop-color="#472f7d"/><stop offset="0.767" stop-color="#481b6d"/><stop offset="0.973" stop-color="#450559"/><stop offset="1.000" stop-color="#450559"/></linearGradient>
<linearGradient id="g35" gradientUnits="userSpaceOnUse" x1="0" y1="476" x2="0" y2="1660"><stop offset="0.000" stop-color="#450559"/><stop offset="0.098" stop-color="#46075a"/><stop offset="0.135" stop-color="#450457"/><stop offset="0.155" stop-color="#470d60"/><stop offset="0.186" stop-color="#472e7c"/><stop offset="0.209" stop-color="#39568c"/><stop offset="0.236" stop-color="#218f8d"/><stop offset="0.247" stop-color="#21a585"/><stop offset="0.253" stop-color="#2fb47c"/><stop offset="0.270" stop-color="#6ccd5a"/><stop offset="0.280" stop-color="#95d840"/><stop offset="0.287" stop-color="#aadc32"/><stop offset="0.297" stop-color="#b8de29"/><stop offset="0.318" stop-color="#b5de2b"/><stop offset="0.321" stop-color="#b2dd2d"/><stop offset="0.331" stop-color="#9bd93c"/><stop offset="0.355" stop-color="#4ec36b"/><stop offset="0.365" stop-color="#2fb47c"/><stop offset="0.375" stop-color="#1fa287"/><stop offset="0.392" stop-color="#24878e"/><stop offset="0.429" stop-color="#32648e"/><stop offset="0.476" stop-color="#3e4c8a"/><stop offset="0.588" stop-color="#472c7a"/><stop offset="0.652" stop-color="#463480"/><stop offset="0.699" stop-color="#472f7d"/><stop offset="0.774" stop-color="#481b6d"/><stop offset="0.922" stop-color="#460a5d"/><stop offset="0.990" stop-color="#450559"/><stop offset="1.000" stop-color="#450559"/></linearGradient>
<linearGradient id="g36" gradientUnits="userSpaceOnUse" x1="0" y1="480" x2="0" y2="1660"><stop offset="0.000" stop-color="#450559"/><stop offset="0.095" stop-color="#46075a"/><stop offset="0.139" stop-color="#450559"/><stop offset="0.166" stop-color="#48186a"/><stop offset="0.190" stop-color="#453581"/><stop offset="0.214" stop-color="#34608d"/><stop offset="0.237" stop-color="#20928c"/><stop offset="0.244" stop-color="#1fa188"/><stop offset="0.251" stop-color="#29af7f"/><stop offset="0.264" stop-color="#54c568"/><stop offset="0.281" stop-color="#90d743"/><stop offset="0.288" stop-color="#a2da37"/><stop offset="0.295" stop-color="#aadc32"/><stop offset="0.315" stop-color="#a8db34"/><stop offset="0.322" stop-color="#a0da39"/><stop offset="0.349" stop-color="#52c569"/><stop offset="0.363" stop-color="#2db27d"/><stop offset="0.373" stop-color="#1fa187"/><stop offset="0.393" stop-color="#25848e"/><stop offset="0.431" stop-color="#32648e"/><stop offset="0.488" stop-color="#3e4a89"/><stop offset="0.586" stop-color="#472f7d"/><stop offset="0.654" stop-color="#463480"/><stop offset="0.702" stop-color="#472f7d"/><stop offset="0.776" stop-color="#481c6e"/><stop offset="0.925" stop-color="#460a5d"/><stop offset="0.983" stop-color="#450559"/><stop offset="1.000" stop-color="#450559"/></linearGradient>
<linearGradient id="g37" gradientUnits="userSpaceOnUse" x1="0" y1="488" x2="0" y2="1660"><stop offset="0.000" stop-color="#46075a"/><stop offset="0.106" stop-color="#450559"/><stop offset="0.130" stop-color="#450559"/><stop offset="0.154" stop-color="#471164"/><stop offset="0.181" stop-color="#472e7c"/><stop offset="0.205" stop-color="#39568c"/><stop offset="0.232" stop-color="#218e8d"/><stop offset="0.242" stop-color="#20a386"/><stop offset="0.249" stop-color="#2ab07f"/><stop offset="0.266" stop-color="#60ca60"/><stop offset="0.276" stop-color="#84d44b"/><stop offset="0.287" stop-color="#98d83e"/><stop offset="0.297" stop-color="#9dd93b"/><stop offset="0.311" stop-color="#9bd93c"/><stop offset="0.317" stop-color="#93d741"/><stop offset="0.338" stop-color="#5ec962"/><stop offset="0.358" stop-color="#2ab07f"/><stop offset="0.369" stop-color="#1fa088"/><stop offset="0.389" stop-color="#25848e"/><stop offset="0.430" stop-color="#32658e"/><stop offset="0.498" stop-color="#3e4989"/><stop offset="0.584" stop-color="#463480"/><stop offset="0.686" stop-color="#46337f"/><stop offset="0.792" stop-color="#481b6d"/><stop offset="0.915" stop-color="#460b5e"/><stop offset="0.976" stop-color="#450559"/><stop offset="1.000" stop-color="#450559"/></linearGradient>
<linearGradient id="g38" gradientUnits="userSpaceOnUse" x1="0" y1="532" x2="0" y2="1668"><stop offset="0.000" stop-color="#46075a"/><stop offset="0.095" stop-color="#450559"/><stop offset="0.120" stop-color="#471164"/><stop offset="0.144" stop-color="#482878"/><stop offset="0.169" stop-color="#3d4d8a"/><stop offset="0.201" stop-color="#228b8d"/><stop offset="0.211" stop-color="#1fa188"/><stop offset="0.218" stop-color="#29af7f"/><stop offset="0.232" stop-color="#54c568"/><stop offset="0.246" stop-color="#7fd34e"/><stop offset="0.257" stop-color="#8ed645"/><stop offset="0.289" stop-color="#8bd646"/><stop offset="0.303" stop-color="#70cf57"/><stop offset="0.324" stop-color="#35b779"/><stop offset="0.338" stop-color="#20a486"/><stop offset="0.356" stop-color="#228d8d"/><stop offset="0.391" stop-color="#2d708e"/><stop offset="0.458" stop-color="#3b528b"/><stop offset="0.542" stop-color="#443b84"/><stop offset="0.620" stop-color="#453781"/><stop offset="0.676" stop-color="#46327e"/><stop offset="0.796" stop-color="#481a6c"/><stop offset="0.961" stop-color="#450559"/><stop offset="1.000" stop-color="#450559"/></linearGradient>
<linearGradient id="g39" gradientUnits="userSpaceOnUse" x1="0" y1="532" x2="0" y2="1788"><stop offset="0.000" stop-color="#46075a"/><stop offset="0.086" stop-color="#450559"/><stop offset="0.111" stop-color="#471365"/><stop offset="0.134" stop-color="#472a7a"/><stop offset="0.156" stop-color="#3c508b"/><stop offset="0.185" stop-color="#218e8d"/><stop offset="0.194" stop-color="#20a386"/><stop offset="0.201" stop-color="#2ab07f"/><stop offset="0.217" stop-color="#5ec962"/><stop offset="0.226" stop-color="#77d153"/><stop offset="0.242" stop-color="#8ed645"/><stop offset="0.252" stop-color="#8bd646"/><stop offset="0.271" stop-color="#6ece58"/><stop offset="0.293" stop-color="#32b67a"/><stop offset="0.303" stop-color="#22a884"/><stop offset="0.315" stop-color="#1f958b"/><stop offset="0.344" stop-color="#29798e"/><stop offset="0.395" stop-color="#365d8d"/><stop offset="0.471" stop-color="#414287"/><stop offset="0.561" stop-color="#443983"/><stop offset="0.634" stop-color="#472d7b"/><stop offset="0.745" stop-color="#481769"/><stop offset="0.869" stop-color="#450559"/><stop offset="1.000" stop-color="#450559"/></linearGradient>
<linearGradient id="g40" gradientUnits="userSpaceOnUse" x1="0" y1="288" x2="0" y2="2136"><stop offset="0.000" stop-color="#450559"/><stop offset="0.165" stop-color="#46075a"/><stop offset="0.193" stop-color="#450559"/><stop offset="0.210" stop-color="#481769"/><stop offset="0.225" stop-color="#46337f"/><stop offset="0.240" stop-color="#365d8d"/><stop offset="0.258" stop-color="#1f958b"/><stop offset="0.262" stop-color="#20a386"/><stop offset="0.266" stop-color="#2db27d"/><stop offset="0.277" stop-color="#67cc5c"/><stop offset="0.281" stop-color="#7fd34e"/><stop offset="0.290" stop-color="#98d83e"/><stop offset="0.297" stop-color="#a2da37"/><stop offset="0.307" stop-color="#98d83e"/><stop offset="0.316" stop-color="#7fd34e"/><stop offset="0.333" stop-color="#31b57b"/><stop offset="0.340" stop-color="#21a585"/><stop offset="0.348" stop-color="#21918c"/><stop offset="0.368" stop-color="#2d708e"/><stop offset="0.396" stop-color="#39568c"/><stop offset="0.457" stop-color="#443a83"/><stop offset="0.496" stop-color="#453581"/><stop offset="0.537" stop-color="#463480"/><stop offset="0.602" stop-color="#481c6e"/><stop offset="0.723" stop-color="#450559"/><stop offset="1.000" stop-color="#450559"/></linearGradient>
<linearGradient id="g41" gradientUnits="userSpaceOnUse" x1="0" y1="288" x2="0" y2="2136"><stop offset="0.000" stop-color="#450559"/><stop offset="0.175" stop-color="#450559"/><stop offset="0.190" stop-color="#450559"/><stop offset="0.208" stop-color="#471365"/><stop offset="0.227" stop-color="#453581"/><stop offset="0.245" stop-color="#31668e"/><stop offset="0.260" stop-color="#1f978b"/><stop offset="0.264" stop-color="#21a585"/><stop offset="0.268" stop-color="#2db27d"/><stop offset="0.279" stop-color="#63cb5f"/><stop offset="0.284" stop-color="#75d054"/><stop offset="0.290" stop-color="#89d548"/><stop offset="0.299" stop-color="#93d741"/><stop offset="0.310" stop-color="#84d44b"/><stop offset="0.316" stop-color="#73d056"/><stop offset="0.331" stop-color="#34b679"/><stop offset="0.340" stop-color="#20a386"/><stop offset="0.351" stop-color="#228c8d"/><stop offset="0.370" stop-color="#2d708e"/><stop offset="0.411" stop-color="#3b528b"/><stop offset="0.459" stop-color="#423f85"/><stop offset="0.550" stop-color="#46307e"/><stop offset="0.619" stop-color="#481a6c"/><stop offset="0.723" stop-color="#450559"/><stop offset="1.000" stop-color="#450559"/></linearGradient>
<linearGradient id="g42" gradientUnits="userSpaceOnUse" x1="0" y1="288" x2="0" y2="2136"><stop offset="0.000" stop-color="#450559"/><stop offset="0.175" stop-color="#450559"/><stop offset="0.195" stop-color="#46075a"/><stop offset="0.216" stop-color="#481d6f"/><stop offset="0.232" stop-color="#433d84"/><stop offset="0.249" stop-color="#2e6f8e"/><stop offset="0.262" stop-color="#1f988b"/><stop offset="0.266" stop-color="#21a685"/><stop offset="0.273" stop-color="#37b878"/><stop offset="0.281" stop-color="#5ec962"/><stop offset="0.290" stop-color="#77d153"/><stop offset="0.299" stop-color="#81d34d"/><stop offset="0.310" stop-color="#75d054"/><stop offset="0.318" stop-color="#5ec962"/><stop offset="0.331" stop-color="#2fb47c"/><stop offset="0.340" stop-color="#1fa287"/><stop offset="0.359" stop-color="#27808e"/><stop offset="0.385" stop-color="#31678e"/><stop offset="0.442" stop-color="#3f4889"/><stop offset="0.558" stop-color="#472e7c"/><stop offset="0.639" stop-color="#481769"/><stop offset="0.723" stop-color="#450559"/><stop offset="1.000" stop-color="#450559"/></linearGradient>
<linearGradient id="g43" gradientUnits="userSpaceOnUse" x1="0" y1="288" x2="0" y2="2136"><stop offset="0.000" stop-color="#450559"/><stop offset="0.177" stop-color="#450559"/><stop offset="0.197" stop-color="#46085c"/><stop offset="0.214" stop-color="#481a6c"/><stop offset="0.229" stop-color="#463480"/><stop offset="0.247" stop-color="#33638d"/><stop offset="0.264" stop-color="#1f998a"/><stop offset="0.268" stop-color="#21a685"/><stop offset="0.277" stop-color="#3dbc74"/><stop offset="0.284" stop-color="#56c667"/><stop offset="0.292" stop-color="#6ccd5a"/><stop offset="0.301" stop-color="#70cf57"/><stop offset="0.310" stop-color="#67cc5c"/><stop offset="0.320" stop-color="#4ec36b"/><stop offset="0.331" stop-color="#2cb17e"/><stop offset="0.340" stop-color="#1fa188"/><stop offset="0.357" stop-color="#25848e"/><stop offset="0.379" stop-color="#2d708e"/><stop offset="0.435" stop-color="#3c4f8a"/><stop offset="0.504" stop-color="#423f85"/><stop offset="0.606" stop-color="#482071"/><stop offset="0.721" stop-color="#450559"/><stop offset="1.000" stop-color="#450559"/></linearGradient>
<linearGradient id="g44" gradientUnits="userSpaceOnUse" x1="0" y1="288" x2="0" y2="2136"><stop offset="0.000" stop-color="#450559"/><stop offset="0.195" stop-color="#46075a"/><stop offset="0.216" stop-color="#481a6c"/><stop offset="0.234" stop-color="#443a83"/><stop offset="0.251" stop-color="#2f6c8e"/><stop offset="0.266" stop-color="#1f9a8a"/><stop offset="0.273" stop-color="#25ac82"/><stop offset="0.284" stop-color="#48c16e"/><stop offset="0.292" stop-color="#5cc863"/><stop offset="0.301" stop-color="#63cb5f"/><stop offset="0.314" stop-color="#54c568"/><stop offset="0.329" stop-color="#2db27d"/><stop offset="0.338" stop-color="#20a386"/><stop offset="0.355" stop-color="#23888e"/><stop offset="0.383" stop-color="#2d718e"/><stop offset="0.437" stop-color="#3b518b"/><stop offset="0.491" stop-color="#3f4788"/><stop offset="0.548" stop-color="#46327e"/><stop offset="0.617" stop-color="#481d6f"/><stop offset="0.697" stop-color="#460a5d"/><stop offset="0.729" stop-color="#450559"/><stop offset="1.000" stop-color="#450559"/></linearGradient>
<linearGradient id="g45" gradientUnits="userSpaceOnUse" x1="0" y1="288" x2="0" y2="2136"><stop offset="0.000" stop-color="#450559"/><stop offset="0.195" stop-color="#46075a"/><stop offset="0.216" stop-color="#48186a"/><stop offset="0.234" stop-color="#453781"/><stop offset="0.249" stop-color="#34608d"/><stop offset="0.266" stop-color="#1f948c"/><stop offset="0.273" stop-color="#21a685"/><stop offset="0.286" stop-color="#42be71"/><stop offset="0.297" stop-color="#52c569"/><stop offset="0.301" stop-color="#56c667"/><stop offset="0.312" stop-color="#4cc26c"/><stop offset="0.323" stop-color="#38b977"/><stop offset="0.333" stop-color="#23a983"/><stop offset="0.344" stop-color="#1f978b"/><stop offset="0.366" stop-color="#27808e"/><stop offset="0.437" stop-color="#3a548c"/><stop offset="0.487" stop-color="#3d4d8a"/><stop offset="0.539" stop-color="#463480"/><stop offset="0.597" stop-color="#482576"/><stop offset="0.649" stop-color="#481769"/><stop offset="0.721" stop-color="#450559"/><stop offset="1.000" stop-color="#450559"/></linearGradient>
<linearGradient id="g46" gradientUnits="userSpaceOnUse" x1="0" y1="288" x2="0" y2="2136"><stop offset="0.000" stop-color="#450559"/><stop offset="0.193" stop-color="#46075a"/><stop offset="0.214" stop-color="#481467"/><stop offset="0.232" stop-color="#472f7d"/><stop offset="0.249" stop-color="#365c8d"/><stop offset="0.268" stop-color="#1f948c"/><stop offset="0.275" stop-color="#21a585"/><stop offset="0.288" stop-color="#3bbb75"/><stop offset="0.301" stop-color="#4ac16d"/><stop offset="0.316" stop-color="#3dbc74"/><stop offset="0.333" stop-color="#21a685"/><stop offset="0.348" stop-color="#20928c"/><stop offset="0.374" stop-color="#287c8e"/><stop offset="0.439" stop-color="#39568c"/><stop offset="0.485" stop-color="#3c508b"/><stop offset="0.539" stop-color="#463480"/><stop offset="0.593" stop-color="#482878"/><stop offset="0.649" stop-color="#481769"/><stop offset="0.721" stop-color="#450559"/><stop offset="1.000" stop-color="#450559"/></linearGradient>
<linearGradient id="g47" gradientUnits="userSpaceOnUse" x1="0" y1="288" x2="0" y2="2136"><stop offset="0.000" stop-color="#450559"/><stop offset="0.193" stop-color="#46075a"/><stop offset="0.214" stop-color="#471365"/><stop offset="0.232" stop-color="#472c7a"/><stop offset="0.247" stop-color="#3b518b"/><stop offset="0.268" stop-color="#218f8d"/><stop offset="0.277" stop-color="#20a386"/><stop offset="0.288" stop-color="#31b57b"/><stop offset="0.301" stop-color="#3fbc73"/><stop offset="0.316" stop-color="#35b779"/><stop offset="0.333" stop-color="#20a486"/><stop offset="0.355" stop-color="#228b8d"/><stop offset="0.437" stop-color="#38598c"/><stop offset="0.485" stop-color="#3a538b"/><stop offset="0.543" stop-color="#46337f"/><stop offset="0.593" stop-color="#482979"/><stop offset="0.643" stop-color="#48186a"/><stop offset="0.693" stop-color="#460b5e"/><stop offset="0.725" stop-color="#450559"/><stop offset="1.000" stop-color="#450559"/></linearGradient>
<linearGradient id="g48" gradientUnits="userSpaceOnUse" x1="0" y1="288" x2="0" y2="2136"><stop offset="0.000" stop-color="#450559"/><stop offset="0.193" stop-color="#46075a"/><stop offset="0.214" stop-color="#471164"/><stop offset="0.232" stop-color="#482979"/><stop offset="0.249" stop-color="#3a538b"/><stop offset="0.271" stop-color="#218f8d"/><stop offset="0.279" stop-color="#1fa287"/><stop offset="0.290" stop-color="#2db27d"/><stop offset="0.305" stop-color="#35b779"/><stop offset="0.325" stop-color="#26ad81"/><stop offset="0.340" stop-color="#1e9b8a"/><stop offset="0.364" stop-color="#25858e"/><stop offset="0.413" stop-color="#30698e"/><stop offset="0.444" stop-color="#38598c"/><stop offset="0.483" stop-color="#39558c"/><stop offset="0.519" stop-color="#423f85"/><stop offset="0.543" stop-color="#46337f"/><stop offset="0.593" stop-color="#482979"/><stop offset="0.645" stop-color="#48186a"/><stop offset="0.721" stop-color="#450559"/><stop offset="1.000" stop-color="#450559"/></linearGradient>
<linearGradient id="g49" gradientUnits="userSpaceOnUse" x1="0" y1="288" x2="0" y2="2136"><stop offset="0.000" stop-color="#450559"/><stop offset="0.193" stop-color="#46075a"/><stop offset="0.214" stop-color="#471164"/><stop offset="0.232" stop-color="#482677"/><stop offset="0.247" stop-color="#3e4989"/><stop offset="0.268" stop-color="#25848e"/><stop offset="0.279" stop-color="#1e9d89"/><stop offset="0.292" stop-color="#28ae80"/><stop offset="0.305" stop-color="#2eb37c"/><stop offset="0.325" stop-color="#24aa83"/><stop offset="0.342" stop-color="#1f978b"/><stop offset="0.366" stop-color="#25858e"/><stop offset="0.413" stop-color="#2f6b8e"/><stop offset="0.442" stop-color="#375b8d"/><stop offset="0.487" stop-color="#39558c"/><stop offset="0.539" stop-color="#463480"/><stop offset="0.591" stop-color="#472a7a"/><stop offset="0.639" stop-color="#481a6c"/><stop offset="0.693" stop-color="#460b5e"/><stop offset="0.725" stop-color="#450559"/><stop offset="1.000" stop-color="#450559"/></linearGradient>
<linearGradient id="g50" gradientUnits="userSpaceOnUse" x1="0" y1="288" x2="0" y2="2136"><stop offset="0.000" stop-color="#450559"/><stop offset="0.193" stop-color="#46075a"/><stop offset="0.219" stop-color="#471365"/><stop offset="0.236" stop-color="#472d7b"/><stop offset="0.251" stop-color="#3b528b"/><stop offset="0.275" stop-color="#218f8d"/><stop offset="0.286" stop-color="#20a386"/><stop offset="0.303" stop-color="#28ae80"/><stop offset="0.327" stop-color="#21a585"/><stop offset="0.351" stop-color="#218f8d"/><stop offset="0.411" stop-color="#2e6e8e"/><stop offset="0.439" stop-color="#365c8d"/><stop offset="0.489" stop-color="#39558c"/><stop offset="0.537" stop-color="#453581"/><stop offset="0.595" stop-color="#482979"/><stop offset="0.643" stop-color="#48186a"/><stop offset="0.721" stop-color="#450559"/><stop offset="1.000" stop-color="#450559"/></linearGradient>
<linearGradient id="g51" gradientUnits="userSpaceOnUse" x1="0" y1="288" x2="0" y2="2136"><stop offset="0.000" stop-color="#450559"/><stop offset="0.193" stop-color="#46075a"/><stop offset="0.216" stop-color="#471063"/><stop offset="0.234" stop-color="#482677"/><stop offset="0.249" stop-color="#3e4989"/><stop offset="0.271" stop-color="#26818e"/><stop offset="0.286" stop-color="#1f9f88"/><stop offset="0.299" stop-color="#23a983"/><stop offset="0.316" stop-color="#22a884"/><stop offset="0.340" stop-color="#1f978b"/><stop offset="0.370" stop-color="#25838e"/><stop offset="0.407" stop-color="#2c718e"/><stop offset="0.442" stop-color="#365c8d"/><stop offset="0.487" stop-color="#39568c"/><stop offset="0.541" stop-color="#46337f"/><stop offset="0.591" stop-color="#472a7a"/><stop offset="0.645" stop-color="#481769"/><stop offset="0.721" stop-color="#450559"/><stop offset="1.000" stop-color="#450559"/></linearGradient>
<linearGradient id="g52" gradientUnits="userSpaceOnUse" x1="0" y1="288" x2="0" y2="2136"><stop offset="0.000" stop-color="#450559"/><stop offset="0.193" stop-color="#46075a"/><stop offset="0.219" stop-color="#471164"/><stop offset="0.236" stop-color="#482878"/><stop offset="0.253" stop-color="#3b528b"/><stop offset="0.277" stop-color="#228c8d"/><stop offset="0.290" stop-color="#1fa088"/><stop offset="0.310" stop-color="#22a785"/><stop offset="0.333" stop-color="#1e9b8a"/><stop offset="0.368" stop-color="#25848e"/><stop offset="0.409" stop-color="#2d718e"/><stop offset="0.444" stop-color="#365c8d"/><stop offset="0.489" stop-color="#39558c"/><stop offset="0.539" stop-color="#463480"/><stop offset="0.591" stop-color="#472a7a"/><stop offset="0.641" stop-color="#48186a"/><stop offset="0.721" stop-color="#450559"/><stop offset="1.000" stop-color="#450559"/></linearGradient>
<linearGradient id="g53" gradientUnits="userSpaceOnUse" x1="0" y1="288" x2="0" y2="2136"><stop offset="0.000" stop-color="#450559"/><stop offset="0.190" stop-color="#46075a"/><stop offset="0.216" stop-color="#470e61"/><stop offset="0.236" stop-color="#482677"/><stop offset="0.251" stop-color="#3e4a89"/><stop offset="0.275" stop-color="#25838e"/><stop offset="0.290" stop-color="#1e9c89"/><stop offset="0.310" stop-color="#20a386"/><stop offset="0.335" stop-color="#1f988b"/><stop offset="0.368" stop-color="#25848e"/><stop offset="0.411" stop-color="#2d708e"/><stop offset="0.444" stop-color="#365d8d"/><stop offset="0.489" stop-color="#39558c"/><stop offset="0.539" stop-color="#463480"/><stop offset="0.593" stop-color="#482979"/><stop offset="0.641" stop-color="#481769"/><stop offset="0.723" stop-color="#450559"/><stop offset="1.000" stop-color="#450559"/></linearGradient>
<linearGradient id="g54" gradientUnits="userSpaceOnUse" x1="0" y1="288" x2="0" y2="2136"><stop offset="0.000" stop-color="#450559"/><stop offset="0.203" stop-color="#46085c"/><stop offset="0.225" stop-color="#481668"/><stop offset="0.240" stop-color="#472e7c"/><stop offset="0.255" stop-color="#3a538b"/><stop offset="0.275" stop-color="#26818e"/><stop offset="0.290" stop-color="#1f998a"/><stop offset="0.310" stop-color="#1fa188"/><stop offset="0.335" stop-color="#1f968b"/><stop offset="0.368" stop-color="#25848e"/><stop offset="0.411" stop-color="#2d708e"/><stop offset="0.446" stop-color="#365c8d"/><stop offset="0.491" stop-color="#3a548c"/><stop offset="0.539" stop-color="#463480"/><stop offset="0.591" stop-color="#482979"/><stop offset="0.641" stop-color="#481769"/><stop offset="0.721" stop-color="#450559"/><stop offset="1.000" stop-color="#450559"/></linearGradient>
<linearGradient id="g55" gradientUnits="userSpaceOnUse" x1="0" y1="288" x2="0" y2="2136"><stop offset="0.000" stop-color="#450559"/><stop offset="0.203" stop-color="#46085c"/><stop offset="0.227" stop-color="#481769"/><stop offset="0.245" stop-color="#453581"/><stop offset="0.260" stop-color="#365c8d"/><stop offset="0.279" stop-color="#24868e"/><stop offset="0.294" stop-color="#1f998a"/><stop offset="0.316" stop-color="#1e9d89"/><stop offset="0.411" stop-color="#2d708e"/><stop offset="0.450" stop-color="#375b8d"/><stop offset="0.489" stop-color="#3a548c"/><stop offset="0.541" stop-color="#463480"/><stop offset="0.593" stop-color="#482878"/><stop offset="0.641" stop-color="#481668"/><stop offset="0.723" stop-color="#450559"/><stop offset="1.000" stop-color="#450559"/></linearGradient>
<linearGradient id="g56" gradientUnits="userSpaceOnUse" x1="0" y1="288" x2="0" y2="2136"><stop offset="0.000" stop-color="#450559"/><stop offset="0.203" stop-color="#46085c"/><stop offset="0.225" stop-color="#481467"/><stop offset="0.238" stop-color="#482677"/><stop offset="0.255" stop-color="#3c4f8a"/><stop offset="0.277" stop-color="#27808e"/><stop offset="0.292" stop-color="#1f948c"/><stop offset="0.314" stop-color="#1e9b8a"/><stop offset="0.407" stop-color="#2c728e"/><stop offset="0.444" stop-color="#365d8d"/><stop offset="0.487" stop-color="#3a548c"/><stop offset="0.541" stop-color="#463480"/><stop offset="0.597" stop-color="#482576"/><stop offset="0.643" stop-color="#481467"/><stop offset="0.721" stop-color="#450559"/><stop offset="1.000" stop-color="#450559"/></linearGradient>
<linearGradient id="g57" gradientUnits="userSpaceOnUse" x1="0" y1="288" x2="0" y2="2136"><stop offset="0.000" stop-color="#450559"/><stop offset="0.203" stop-color="#46085c"/><stop offset="0.223" stop-color="#471164"/><stop offset="0.240" stop-color="#472a7a"/><stop offset="0.258" stop-color="#3a538b"/><stop offset="0.279" stop-color="#26818e"/><stop offset="0.294" stop-color="#20938c"/><stop offset="0.316" stop-color="#1f988b"/><stop offset="0.413" stop-color="#2e6f8e"/><stop offset="0.450" stop-color="#375b8d"/><stop offset="0.489" stop-color="#3a538b"/><stop offset="0.548" stop-color="#46337f"/><stop offset="0.597" stop-color="#482475"/><stop offset="0.647" stop-color="#471365"/><stop offset="0.721" stop-color="#450559"/><stop offset="1.000" stop-color="#450559"/></linearGradient>
<linearGradient id="g58" gradientUnits="userSpaceOnUse" x1="0" y1="288" x2="0" y2="2136"><stop offset="0.000" stop-color="#450559"/><stop offset="0.203" stop-color="#46085c"/><stop offset="0.223" stop-color="#471164"/><stop offset="0.240" stop-color="#482979"/><stop offset="0.255" stop-color="#3e4c8a"/><stop offset="0.275" stop-color="#2a778e"/><stop offset="0.292" stop-color="#218f8d"/><stop offset="0.312" stop-color="#1f968b"/><stop offset="0.407" stop-color="#2c728e"/><stop offset="0.448" stop-color="#365c8d"/><stop offset="0.496" stop-color="#3c4f8a"/><stop offset="0.545" stop-color="#463480"/><stop offset="0.602" stop-color="#482173"/><stop offset="0.649" stop-color="#471164"/><stop offset="0.721" stop-color="#450559"/><stop offset="1.000" stop-color="#450559"/></linearGradient>
<linearGradient id="g59" gradientUnits="userSpaceOnUse" x1="0" y1="288" x2="0" y2="2136"><stop offset="0.000" stop-color="#450559"/><stop offset="0.203" stop-color="#46085c"/><stop offset="0.225" stop-color="#481467"/><stop offset="0.242" stop-color="#472d7b"/><stop offset="0.260" stop-color="#39558c"/><stop offset="0.279" stop-color="#287c8e"/><stop offset="0.294" stop-color="#218e8d"/><stop offset="0.316" stop-color="#20928c"/><stop offset="0.409" stop-color="#2c718e"/><stop offset="0.452" stop-color="#375b8d"/><stop offset="0.496" stop-color="#3d4e8a"/><stop offset="0.550" stop-color="#46337f"/><stop offset="0.602" stop-color="#482071"/><stop offset="0.654" stop-color="#471063"/><stop offset="0.721" stop-color="#450559"/><stop offset="1.000" stop-color="#450559"/></linearGradient>
<linearGradient id="g60" gradientUnits="userSpaceOnUse" x1="0" y1="288" x2="0" y2="2136"><stop offset="0.000" stop-color="#450559"/><stop offset="0.203" stop-color="#46085c"/><stop offset="0.229" stop-color="#48186a"/><stop offset="0.249" stop-color="#443a83"/><stop offset="0.266" stop-color="#33628d"/><stop offset="0.286" stop-color="#26828e"/><stop offset="0.301" stop-color="#218f8d"/><stop offset="0.325" stop-color="#218f8d"/><stop offset="0.413" stop-color="#2d708e"/><stop offset="0.461" stop-color="#38598c"/><stop offset="0.506" stop-color="#3f4889"/><stop offset="0.563" stop-color="#472f7d"/><stop offset="0.641" stop-color="#471164"/><stop offset="0.721" stop-color="#450559"/><stop offset="1.000" stop-color="#450559"/></linearGradient>
<linearGradient id="g61" gradientUnits="userSpaceOnUse" x1="0" y1="288" x2="0" y2="2136"><stop offset="0.000" stop-color="#450559"/><stop offset="0.190" stop-color="#46075a"/><stop offset="0.216" stop-color="#470e61"/><stop offset="0.234" stop-color="#481f70"/><stop offset="0.251" stop-color="#423f85"/><stop offset="0.273" stop-color="#2e6d8e"/><stop offset="0.292" stop-color="#24878e"/><stop offset="0.314" stop-color="#218e8d"/><stop offset="0.409" stop-color="#2c728e"/><stop offset="0.463" stop-color="#38598c"/><stop offset="0.522" stop-color="#424186"/><stop offset="0.600" stop-color="#482071"/><stop offset="0.645" stop-color="#471063"/><stop offset="0.723" stop-color="#450559"/><stop offset="1.000" stop-color="#450559"/></linearGradient>
<linearGradient id="g62" gradientUnits="userSpaceOnUse" x1="0" y1="288" x2="0" y2="2136"><stop offset="0.000" stop-color="#450559"/><stop offset="0.190" stop-color="#46075a"/><stop offset="0.221" stop-color="#471164"/><stop offset="0.240" stop-color="#482979"/><stop offset="0.260" stop-color="#3b518b"/><stop offset="0.284" stop-color="#297b8e"/><stop offset="0.301" stop-color="#23898e"/><stop offset="0.325" stop-color="#238a8d"/><stop offset="0.385" stop-color="#297b8e"/><stop offset="0.420" stop-color="#2e6e8e"/><stop offset="0.472" stop-color="#39568c"/><stop offset="0.556" stop-color="#46337f"/><stop offset="0.634" stop-color="#471164"/><stop offset="0.706" stop-color="#46075a"/><stop offset="1.000" stop-color="#450559"/></linearGradient>
<linearGradient id="g63" gradientUnits="userSpaceOnUse" x1="0" y1="288" x2="0" y2="2136"><stop offset="0.000" stop-color="#450559"/><stop offset="0.190" stop-color="#46075a"/><stop offset="0.216" stop-color="#471063"/><stop offset="0.234" stop-color="#481f70"/><stop offset="0.255" stop-color="#404688"/><stop offset="0.281" stop-color="#2b758e"/><stop offset="0.299" stop-color="#25858e"/><stop offset="0.323" stop-color="#23888e"/><stop offset="0.387" stop-color="#297b8e"/><stop offset="0.426" stop-color="#2f6b8e"/><stop offset="0.530" stop-color="#423f85"/><stop offset="0.597" stop-color="#482071"/><stop offset="0.643" stop-color="#470e61"/><stop offset="0.721" stop-color="#450559"/><stop offset="1.000" stop-color="#450559"/></linearGradient>
<linearGradient id="g64" gradientUnits="userSpaceOnUse" x1="0" y1="288" x2="0" y2="2136"><stop offset="0.000" stop-color="#450559"/><stop offset="0.190" stop-color="#46075a"/><stop offset="0.221" stop-color="#471365"/><stop offset="0.242" stop-color="#472d7b"/><stop offset="0.262" stop-color="#3b528b"/><stop offset="0.286" stop-color="#2a788e"/><stop offset="0.303" stop-color="#25848e"/><stop offset="0.333" stop-color="#25838e"/><stop offset="0.409" stop-color="#2b758e"/><stop offset="0.487" stop-color="#3b528b"/><stop offset="0.567" stop-color="#472f7d"/><stop offset="0.636" stop-color="#471063"/><stop offset="0.699" stop-color="#46075a"/><stop offset="1.000" stop-color="#450559"/></linearGradient>
<linearGradient id="g65" gradientUnits="userSpaceOnUse" x1="0" y1="288" x2="0" y2="2136"><stop offset="0.000" stop-color="#450559"/><stop offset="0.193" stop-color="#46075a"/><stop offset="0.219" stop-color="#471164"/><stop offset="0.240" stop-color="#482979"/><stop offset="0.262" stop-color="#3b518b"/><stop offset="0.288" stop-color="#2a788e"/><stop offset="0.312" stop-color="#25838e"/><stop offset="0.403" stop-color="#2a788e"/><stop offset="0.530" stop-color="#424186"/><stop offset="0.591" stop-color="#482374"/><stop offset="0.645" stop-color="#470d60"/><stop offset="0.723" stop-color="#450559"/><stop offset="1.000" stop-color="#450559"/></linearGradient>
<linearGradient id="g66" gradientUnits="userSpaceOnUse" x1="0" y1="288" x2="0" y2="2136"><stop offset="0.000" stop-color="#450559"/><stop offset="0.193" stop-color="#46075a"/><stop offset="0.223" stop-color="#481668"/><stop offset="0.245" stop-color="#46307e"/><stop offset="0.266" stop-color="#39568c"/><stop offset="0.290" stop-color="#2a778e"/><stop offset="0.314" stop-color="#26818e"/><stop offset="0.403" stop-color="#29798e"/><stop offset="0.530" stop-color="#414287"/><stop offset="0.591" stop-color="#482374"/><stop offset="0.639" stop-color="#470e61"/><stop offset="0.695" stop-color="#46075a"/><stop offset="1.000" stop-color="#450559"/></linearGradient>
<linearGradient id="g67" gradientUnits="userSpaceOnUse" x1="0" y1="288" x2="0" y2="2136"><stop offset="0.000" stop-color="#450559"/><stop offset="0.193" stop-color="#46075a"/><stop offset="0.221" stop-color="#481467"/><stop offset="0.247" stop-color="#46337f"/><stop offset="0.268" stop-color="#38598c"/><stop offset="0.292" stop-color="#2a768e"/><stop offset="0.323" stop-color="#277f8e"/><stop offset="0.403" stop-color="#297a8e"/><stop offset="0.530" stop-color="#414287"/><stop offset="0.587" stop-color="#482576"/><stop offset="0.636" stop-color="#470e61"/><stop offset="0.693" stop-color="#46075a"/><stop offset="1.000" stop-color="#450559"/></linearGradient>
<linearGradient id="g68" gradientUnits="userSpaceOnUse" x1="0" y1="288" x2="0" y2="2136"><stop offset="0.000" stop-color="#450559"/><stop offset="0.193" stop-color="#46075a"/><stop offset="0.219" stop-color="#471365"/><stop offset="0.245" stop-color="#472f7d"/><stop offset="0.266" stop-color="#3a538b"/><stop offset="0.290" stop-color="#2c718e"/><stop offset="0.316" stop-color="#287c8e"/><stop offset="0.398" stop-color="#287c8e"/><stop offset="0.530" stop-color="#414487"/><stop offset="0.589" stop-color="#482475"/><stop offset="0.636" stop-color="#470e61"/><stop offset="0.688" stop-color="#46075a"/><stop offset="1.000" stop-color="#450559"/></linearGradient>
<linearGradient id="g69" gradientUnits="userSpaceOnUse" x1="0" y1="288" x2="0" y2="2136"><stop offset="0.000" stop-color="#450559"/><stop offset="0.193" stop-color="#46075a"/><stop offset="0.223" stop-color="#481769"/><stop offset="0.247" stop-color="#46337f"/><stop offset="0.271" stop-color="#38588c"/><stop offset="0.292" stop-color="#2d718e"/><stop offset="0.320" stop-color="#297a8e"/><stop offset="0.396" stop-color="#287d8e"/><stop offset="0.468" stop-color="#355f8d"/><stop offset="0.552" stop-color="#443983"/><stop offset="0.623" stop-color="#471365"/><stop offset="0.669" stop-color="#46085c"/><stop offset="0.879" stop-color="#450559"/><stop offset="1.000" stop-color="#450559"/></linearGradient>
<linearGradient id="g70" gradientUnits="userSpaceOnUse" x1="0" y1="288" x2="0" y2="2136"><stop offset="0.000" stop-color="#450559"/><stop offset="0.193" stop-color="#46075a"/><stop offset="0.223" stop-color="#481769"/><stop offset="0.249" stop-color="#453581"/><stop offset="0.275" stop-color="#365c8d"/><stop offset="0.294" stop-color="#2d708e"/><stop offset="0.325" stop-color="#2a788e"/><stop offset="0.390" stop-color="#277e8e"/><stop offset="0.429" stop-color="#2c718e"/><stop offset="0.541" stop-color="#423f85"/><stop offset="0.608" stop-color="#481a6c"/><stop offset="0.654" stop-color="#460a5d"/><stop offset="0.753" stop-color="#450559"/><stop offset="1.000" stop-color="#450559"/></linearGradient>
<linearGradient id="g71" gradientUnits="userSpaceOnUse" x1="0" y1="288" x2="0" y2="2136"><stop offset="0.000" stop-color="#450559"/><stop offset="0.193" stop-color="#46075a"/><stop offset="0.223" stop-color="#481769"/><stop offset="0.251" stop-color="#453882"/><stop offset="0.277" stop-color="#365d8d"/><stop offset="0.297" stop-color="#2e6f8e"/><stop offset="0.331" stop-color="#2a788e"/><stop offset="0.387" stop-color="#277e8e"/><stop offset="0.426" stop-color="#2c738e"/><stop offset="0.539" stop-color="#424086"/><stop offset="0.606" stop-color="#481b6d"/><stop offset="0.654" stop-color="#460a5d"/><stop offset="0.749" stop-color="#450559"/><stop offset="1.000" stop-color="#450559"/></linearGradient>
<linearGradient id="g72" gradientUnits="userSpaceOnUse" x1="0" y1="288" x2="0" y2="2136"><stop offset="0.000" stop-color="#450559"/><stop offset="0.195" stop-color="#46075a"/><stop offset="0.227" stop-color="#481b6d"/><stop offset="0.255" stop-color="#433e85"/><stop offset="0.281" stop-color="#34608d"/><stop offset="0.305" stop-color="#2c718e"/><stop offset="0.368" stop-color="#277e8e"/><stop offset="0.409" stop-color="#297a8e"/><stop offset="0.530" stop-color="#414487"/><stop offset="0.589" stop-color="#482475"/><stop offset="0.636" stop-color="#470e61"/><stop offset="0.684" stop-color="#46075a"/><stop offset="1.000" stop-color="#450559"/></linearGradient>
<linearGradient id="g73" gradientUnits="userSpaceOnUse" x1="0" y1="288" x2="0" y2="2136"><stop offset="0.000" stop-color="#450559"/><stop offset="0.195" stop-color="#46075a"/><stop offset="0.225" stop-color="#48186a"/><stop offset="0.251" stop-color="#453781"/><stop offset="0.279" stop-color="#365d8d"/><stop offset="0.303" stop-color="#2e6f8e"/><stop offset="0.353" stop-color="#287d8e"/><stop offset="0.407" stop-color="#297b8e"/><stop offset="0.530" stop-color="#414487"/><stop offset="0.597" stop-color="#481f70"/><stop offset="0.647" stop-color="#460b5e"/><stop offset="0.712" stop-color="#450559"/><stop offset="1.000" stop-color="#450559"/></linearGradient>
<linearGradient id="g74" gradientUnits="userSpaceOnUse" x1="0" y1="288" x2="0" y2="2136"><stop offset="0.000" stop-color="#450559"/><stop offset="0.195" stop-color="#46075a"/><stop offset="0.223" stop-color="#481769"/><stop offset="0.249" stop-color="#46337f"/><stop offset="0.277" stop-color="#38598c"/><stop offset="0.303" stop-color="#2e6f8e"/><stop offset="0.348" stop-color="#287d8e"/><stop offset="0.407" stop-color="#297b8e"/><stop offset="0.487" stop-color="#39568c"/><stop offset="0.558" stop-color="#463480"/><stop offset="0.628" stop-color="#471164"/><stop offset="0.675" stop-color="#46075a"/><stop offset="1.000" stop-color="#450559"/></linearGradient>
<linearGradient id="g75" gradientUnits="userSpaceOnUse" x1="0" y1="288" x2="0" y2="2136"><stop offset="0.000" stop-color="#450559"/><stop offset="0.197" stop-color="#46075a"/><stop offset="0.232" stop-color="#481d6f"/><stop offset="0.262" stop-color="#414487"/><stop offset="0.290" stop-color="#32658e"/><stop offset="0.323" stop-color="#2a778e"/><stop offset="0.361" stop-color="#277e8e"/><stop offset="0.409" stop-color="#297a8e"/><stop offset="0.489" stop-color="#39558c"/><stop offset="0.558" stop-color="#46337f"/><stop offset="0.628" stop-color="#471164"/><stop offset="0.677" stop-color="#46075a"/><stop offset="1.000" stop-color="#450559"/></linearGradient>
<linearGradient id="g76" gradientUnits="userSpaceOnUse" x1="0" y1="288" x2="0" y2="2136"><stop offset="0.000" stop-color="#450559"/><stop offset="0.197" stop-color="#46075a"/><stop offset="0.229" stop-color="#481b6d"/><stop offset="0.262" stop-color="#414287"/><stop offset="0.288" stop-color="#33628d"/><stop offset="0.320" stop-color="#2a778e"/><stop offset="0.359" stop-color="#277e8e"/><stop offset="0.407" stop-color="#297a8e"/><stop offset="0.465" stop-color="#33628d"/><stop offset="0.550" stop-color="#453882"/><stop offset="0.623" stop-color="#471365"/><stop offset="0.677" stop-color="#46075a"/><stop offset="1.000" stop-color="#450559"/></linearGradient>
<linearGradient id="g77" gradientUnits="userSpaceOnUse" x1="0" y1="288" x2="0" y2="2136"><stop offset="0.000" stop-color="#450559"/><stop offset="0.197" stop-color="#46075a"/><stop offset="0.225" stop-color="#481769"/><stop offset="0.251" stop-color="#46337f"/><stop offset="0.279" stop-color="#38598c"/><stop offset="0.310" stop-color="#2c728e"/><stop offset="0.344" stop-color="#277e8e"/><stop offset="0.403" stop-color="#297b8e"/><stop offset="0.459" stop-color="#32658e"/><stop offset="0.545" stop-color="#443983"/><stop offset="0.628" stop-color="#471164"/><stop offset="0.677" stop-color="#46075a"/><stop offset="1.000" stop-color="#450559"/></linearGradient>
<linearGradient id="g78" gradientUnits="userSpaceOnUse" x1="0" y1="288" x2="0" y2="2136"><stop offset="0.000" stop-color="#450559"/><stop offset="0.199" stop-color="#46075a"/><stop offset="0.234" stop-color="#481d6f"/><stop offset="0.260" stop-color="#433e85"/><stop offset="0.292" stop-color="#31668e"/><stop offset="0.325" stop-color="#297a8e"/><stop offset="0.368" stop-color="#277e8e"/><stop offset="0.413" stop-color="#2a778e"/><stop offset="0.485" stop-color="#39568c"/><stop offset="0.554" stop-color="#46337f"/><stop offset="0.632" stop-color="#471063"/><stop offset="0.684" stop-color="#46075a"/><stop offset="1.000" stop-color="#450559"/></linearGradient>
<linearGradient id="g79" gradientUnits="userSpaceOnUse" x1="0" y1="288" x2="0" y2="2136"><stop offset="0.000" stop-color="#450559"/><stop offset="0.199" stop-color="#46075a"/><stop offset="0.227" stop-color="#481769"/><stop offset="0.251" stop-color="#46307e"/><stop offset="0.275" stop-color="#3b528b"/><stop offset="0.305" stop-color="#2d718e"/><stop offset="0.338" stop-color="#277e8e"/><stop offset="0.403" stop-color="#297a8e"/><stop offset="0.455" stop-color="#31678e"/><stop offset="0.541" stop-color="#443983"/><stop offset="0.617" stop-color="#481668"/><stop offset="0.675" stop-color="#46075a"/><stop offset="1.000" stop-color="#450559"/></linearGradient>
<linearGradient id="g80" gradientUnits="userSpaceOnUse" x1="0" y1="288" x2="0" y2="2136"><stop offset="0.000" stop-color="#450559"/><stop offset="0.201" stop-color="#46075a"/><stop offset="0.234" stop-color="#481b6d"/><stop offset="0.262" stop-color="#423f85"/><stop offset="0.294" stop-color="#31688e"/><stop offset="0.327" stop-color="#287c8e"/><stop offset="0.390" stop-color="#287c8e"/><stop offset="0.450" stop-color="#30698e"/><stop offset="0.539" stop-color="#443983"/><stop offset="0.613" stop-color="#481769"/><stop offset="0.673" stop-color="#46075a"/><stop offset="1.000" stop-color="#450559"/></linearGradient>
<linearGradient id="g81" gradientUnits="userSpaceOnUse" x1="0" y1="288" x2="0" y2="2136"><stop offset="0.000" stop-color="#450559"/><stop offset="0.201" stop-color="#46075a"/><stop offset="0.227" stop-color="#481467"/><stop offset="0.258" stop-color="#453882"/><stop offset="0.286" stop-color="#355e8d"/><stop offset="0.316" stop-color="#2a778e"/><stop offset="0.346" stop-color="#277e8e"/><stop offset="0.400" stop-color="#29798e"/><stop offset="0.457" stop-color="#32658e"/><stop offset="0.541" stop-color="#453781"/><stop offset="0.619" stop-color="#481467"/><stop offset="0.677" stop-color="#46075a"/><stop offset="1.000" stop-color="#450559"/></linearGradient>
<linearGradient id="g82" gradientUnits="userSpaceOnUse" x1="0" y1="288" x2="0" y2="2136"><stop offset="0.000" stop-color="#450559"/><stop offset="0.203" stop-color="#46075a"/><stop offset="0.232" stop-color="#481769"/><stop offset="0.260" stop-color="#443a83"/><stop offset="0.290" stop-color="#33638d"/><stop offset="0.318" stop-color="#2a788e"/><stop offset="0.348" stop-color="#277e8e"/><stop offset="0.400" stop-color="#2a788e"/><stop offset="0.450" stop-color="#31688e"/><stop offset="0.537" stop-color="#453882"/><stop offset="0.615" stop-color="#481668"/><stop offset="0.675" stop-color="#46075a"/><stop offset="1.000" stop-color="#450559"/></linearGradient>
<linearGradient id="g83" gradientUnits="userSpaceOnUse" x1="0" y1="288" x2="0" y2="2136"><stop offset="0.000" stop-color="#450559"/><stop offset="0.203" stop-color="#46075a"/><stop offset="0.229" stop-color="#481467"/><stop offset="0.255" stop-color="#46337f"/><stop offset="0.281" stop-color="#38598c"/><stop offset="0.314" stop-color="#2a768e"/><stop offset="0.344" stop-color="#277e8e"/><stop offset="0.392" stop-color="#29798e"/><stop offset="0.448" stop-color="#31688e"/><stop offset="0.535" stop-color="#453882"/><stop offset="0.606" stop-color="#48186a"/><stop offset="0.675" stop-color="#46075a"/><stop offset="1.000" stop-color="#450559"/></linearGradient>
<linearGradient id="g84" gradientUnits="userSpaceOnUse" x1="0" y1="288" x2="0" y2="2136"><stop offset="0.000" stop-color="#450559"/><stop offset="0.206" stop-color="#46075a"/><stop offset="0.234" stop-color="#481769"/><stop offset="0.258" stop-color="#453581"/><stop offset="0.284" stop-color="#375b8d"/><stop offset="0.312" stop-color="#2b748e"/><stop offset="0.342" stop-color="#277e8e"/><stop offset="0.387" stop-color="#29798e"/><stop offset="0.444" stop-color="#306a8e"/><stop offset="0.530" stop-color="#443983"/><stop offset="0.608" stop-color="#481769"/><stop offset="0.675" stop-color="#46075a"/><stop offset="1.000" stop-color="#450559"/></linearGradient>
<linearGradient id="g85" gradientUnits="userSpaceOnUse" x1="0" y1="288" x2="0" y2="2136"><stop offset="0.000" stop-color="#450559"/><stop offset="0.206" stop-color="#46075a"/><stop offset="0.229" stop-color="#471365"/><stop offset="0.251" stop-color="#472a7a"/><stop offset="0.273" stop-color="#3e4c8a"/><stop offset="0.297" stop-color="#31688e"/><stop offset="0.325" stop-color="#297a8e"/><stop offset="0.366" stop-color="#287d8e"/><stop offset="0.444" stop-color="#30698e"/><stop offset="0.528" stop-color="#443983"/><stop offset="0.606" stop-color="#481769"/><stop offset="0.677" stop-color="#46075a"/><stop offset="1.000" stop-color="#450559"/></linearGradient>
<linearGradient id="g86" gradientUnits="userSpaceOnUse" x1="0" y1="288" x2="0" y2="2136"><stop offset="0.000" stop-color="#450559"/><stop offset="0.208" stop-color="#46075a"/><stop offset="0.229" stop-color="#471164"/><stop offset="0.258" stop-color="#46337f"/><stop offset="0.279" stop-color="#3a548c"/><stop offset="0.307" stop-color="#2d718e"/><stop offset="0.338" stop-color="#287c8e"/><stop offset="0.379" stop-color="#29798e"/><stop offset="0.444" stop-color="#31688e"/><stop offset="0.524" stop-color="#443a83"/><stop offset="0.600" stop-color="#48186a"/><stop offset="0.675" stop-color="#46075a"/><stop offset="1.000" stop-color="#450559"/></linearGradient>
<linearGradient id="g87" gradientUnits="userSpaceOnUse" x1="0" y1="288" x2="0" y2="2136"><stop offset="0.000" stop-color="#450559"/><stop offset="0.210" stop-color="#46075a"/><stop offset="0.238" stop-color="#48186a"/><stop offset="0.266" stop-color="#424086"/><stop offset="0.292" stop-color="#33638d"/><stop offset="0.320" stop-color="#2a768e"/><stop offset="0.353" stop-color="#287c8e"/><stop offset="0.439" stop-color="#30698e"/><stop offset="0.519" stop-color="#443b84"/><stop offset="0.597" stop-color="#48186a"/><stop offset="0.675" stop-color="#46075a"/><stop offset="1.000" stop-color="#450559"/></linearGradient>
<linearGradient id="g88" gradientUnits="userSpaceOnUse" x1="0" y1="288" x2="0" y2="2136"><stop offset="0.000" stop-color="#450559"/><stop offset="0.210" stop-color="#46075a"/><stop offset="0.232" stop-color="#471164"/><stop offset="0.255" stop-color="#472e7c"/><stop offset="0.277" stop-color="#3c508b"/><stop offset="0.303" stop-color="#2f6c8e"/><stop offset="0.335" stop-color="#297a8e"/><stop offset="0.379" stop-color="#2a778e"/><stop offset="0.446" stop-color="#31668e"/><stop offset="0.513" stop-color="#433e85"/><stop offset="0.578" stop-color="#481f70"/><stop offset="0.656" stop-color="#460a5d"/><stop offset="0.747" stop-color="#450559"/><stop offset="1.000" stop-color="#450559"/></linearGradient>
<linearGradient id="g89" gradientUnits="userSpaceOnUse" x1="0" y1="288" x2="0" y2="2136"><stop offset="0.000" stop-color="#450559"/><stop offset="0.212" stop-color="#46075a"/><stop offset="0.238" stop-color="#481769"/><stop offset="0.264" stop-color="#443b84"/><stop offset="0.292" stop-color="#33628d"/><stop offset="0.325" stop-color="#2a768e"/><stop offset="0.361" stop-color="#29798e"/><stop offset="0.442" stop-color="#31678e"/><stop offset="0.519" stop-color="#443a83"/><stop offset="0.597" stop-color="#481769"/><stop offset="0.677" stop-color="#46075a"/><stop offset="1.000" stop-color="#450559"/></linearGradient>
<linearGradient id="g90" gradientUnits="userSpaceOnUse" x1="0" y1="288" x2="0" y2="2136"><stop offset="0.000" stop-color="#450559"/><stop offset="0.214" stop-color="#46075a"/><stop offset="0.238" stop-color="#481668"/><stop offset="0.264" stop-color="#443a83"/><stop offset="0.290" stop-color="#355f8d"/><stop offset="0.323" stop-color="#2b748e"/><stop offset="0.359" stop-color="#2a778e"/><stop offset="0.439" stop-color="#31678e"/><stop offset="0.524" stop-color="#453882"/><stop offset="0.600" stop-color="#481668"/><stop offset="0.677" stop-color="#46075a"/><stop offset="1.000" stop-color="#450559"/></linearGradient>
<linearGradient id="g91" gradientUnits="userSpaceOnUse" x1="0" y1="288" x2="0" y2="2136"><stop offset="0.000" stop-color="#450559"/><stop offset="0.214" stop-color="#46075a"/><stop offset="0.238" stop-color="#481668"/><stop offset="0.262" stop-color="#453781"/><stop offset="0.288" stop-color="#375b8d"/><stop offset="0.312" stop-color="#2e6e8e"/><stop offset="0.342" stop-color="#2a768e"/><stop offset="0.418" stop-color="#2e6d8e"/><stop offset="0.457" stop-color="#355e8d"/><stop offset="0.504" stop-color="#424086"/><stop offset="0.567" stop-color="#482374"/><stop offset="0.617" stop-color="#471164"/><stop offset="0.684" stop-color="#46075a"/><stop offset="1.000" stop-color="#450559"/></linearGradient>
<linearGradient id="g92" gradientUnits="userSpaceOnUse" x1="0" y1="288" x2="0" y2="2136"><stop offset="0.000" stop-color="#450559"/><stop offset="0.216" stop-color="#46075a"/><stop offset="0.238" stop-color="#481467"/><stop offset="0.266" stop-color="#433d84"/><stop offset="0.292" stop-color="#355f8d"/><stop offset="0.323" stop-color="#2c718e"/><stop offset="0.364" stop-color="#2b748e"/><stop offset="0.439" stop-color="#31668e"/><stop offset="0.519" stop-color="#443983"/><stop offset="0.597" stop-color="#481668"/><stop offset="0.680" stop-color="#46075a"/><stop offset="1.000" stop-color="#450559"/></linearGradient>
<linearGradient id="g93" gradientUnits="userSpaceOnUse" x1="0" y1="288" x2="0" y2="2136"><stop offset="0.000" stop-color="#450559"/><stop offset="0.216" stop-color="#46075a"/><stop offset="0.240" stop-color="#481668"/><stop offset="0.266" stop-color="#443b84"/><stop offset="0.290" stop-color="#375b8d"/><stop offset="0.314" stop-color="#2f6c8e"/><stop offset="0.348" stop-color="#2c738e"/><stop offset="0.437" stop-color="#31668e"/><stop offset="0.485" stop-color="#3e4a89"/><stop offset="0.556" stop-color="#482878"/><stop offset="0.604" stop-color="#481467"/><stop offset="0.680" stop-color="#46075a"/><stop offset="1.000" stop-color="#450559"/></linearGradient>
<linearGradient id="g94" gradientUnits="userSpaceOnUse" x1="0" y1="288" x2="0" y2="2136"><stop offset="0.000" stop-color="#450559"/><stop offset="0.219" stop-color="#46075a"/><stop offset="0.238" stop-color="#471365"/><stop offset="0.266" stop-color="#443a83"/><stop offset="0.290" stop-color="#375a8c"/><stop offset="0.318" stop-color="#2e6d8e"/><stop offset="0.359" stop-color="#2c718e"/><stop offset="0.439" stop-color="#32658e"/><stop offset="0.513" stop-color="#443b84"/><stop offset="0.569" stop-color="#482173"/><stop offset="0.630" stop-color="#470e61"/><stop offset="0.690" stop-color="#46075a"/><stop offset="1.000" stop-color="#450559"/></linearGradient>
<linearGradient id="g95" gradientUnits="userSpaceOnUse" x1="0" y1="288" x2="0" y2="2136"><stop offset="0.000" stop-color="#450559"/><stop offset="0.221" stop-color="#46075a"/><stop offset="0.242" stop-color="#481769"/><stop offset="0.268" stop-color="#433d84"/><stop offset="0.294" stop-color="#365d8d"/><stop offset="0.325" stop-color="#2e6d8e"/><stop offset="0.370" stop-color="#2e6f8e"/><stop offset="0.437" stop-color="#32658e"/><stop offset="0.519" stop-color="#443983"/><stop offset="0.602" stop-color="#481668"/><stop offset="0.669" stop-color="#46085c"/><stop offset="0.879" stop-color="#450559"/><stop offset="1.000" stop-color="#450559"/></linearGradient>
<linearGradient id="g96" gradientUnits="userSpaceOnUse" x1="0" y1="288" x2="0" y2="2136"><stop offset="0.000" stop-color="#450559"/><stop offset="0.221" stop-color="#46075a"/><stop offset="0.245" stop-color="#48186a"/><stop offset="0.271" stop-color="#423f85"/><stop offset="0.294" stop-color="#375b8d"/><stop offset="0.320" stop-color="#306a8e"/><stop offset="0.366" stop-color="#2e6e8e"/><stop offset="0.435" stop-color="#32658e"/><stop offset="0.483" stop-color="#3e4c8a"/><stop offset="0.558" stop-color="#482878"/><stop offset="0.619" stop-color="#471164"/><stop offset="0.684" stop-color="#46075a"/><stop offset="1.000" stop-color="#450559"/></linearGradient>
<linearGradient id="g97" gradientUnits="userSpaceOnUse" x1="0" y1="288" x2="0" y2="2136"><stop offset="0.000" stop-color="#450559"/><stop offset="0.223" stop-color="#46075a"/><stop offset="0.242" stop-color="#481668"/><stop offset="0.271" stop-color="#433e85"/><stop offset="0.297" stop-color="#365c8d"/><stop offset="0.327" stop-color="#306a8e"/><stop offset="0.400" stop-color="#306a8e"/><stop offset="0.446" stop-color="#34618d"/><stop offset="0.519" stop-color="#443983"/><stop offset="0.610" stop-color="#481467"/><stop offset="0.680" stop-color="#46075a"/><stop offset="1.000" stop-color="#450559"/></linearGradient>
<linearGradient id="g98" gradientUnits="userSpaceOnUse" x1="0" y1="288" x2="0" y2="2136"><stop offset="0.000" stop-color="#450559"/><stop offset="0.223" stop-color="#46075a"/><stop offset="0.245" stop-color="#481769"/><stop offset="0.273" stop-color="#423f85"/><stop offset="0.294" stop-color="#38588c"/><stop offset="0.320" stop-color="#31668e"/><stop offset="0.372" stop-color="#306a8e"/><stop offset="0.437" stop-color="#32648e"/><stop offset="0.519" stop-color="#443983"/><stop offset="0.617" stop-color="#471365"/><stop offset="0.680" stop-color="#46075a"/><stop offset="1.000" stop-color="#450559"/></linearGradient>
<linearGradient id="g99" gradientUnits="userSpaceOnUse" x1="0" y1="288" x2="0" y2="2136"><stop offset="0.000" stop-color="#450559"/><stop offset="0.223" stop-color="#46075a"/><stop offset="0.245" stop-color="#481769"/><stop offset="0.273" stop-color="#433e85"/><stop offset="0.299" stop-color="#375a8c"/><stop offset="0.329" stop-color="#31668e"/><stop offset="0.407" stop-color="#31688e"/><stop offset="0.450" stop-color="#355f8d"/><stop offset="0.526" stop-color="#453781"/><stop offset="0.623" stop-color="#471164"/><stop offset="0.684" stop-color="#46075a"/><stop offset="1.000" stop-color="#450559"/></linearGradient>
<linearGradient id="g100" gradientUnits="userSpaceOnUse" x1="0" y1="288" x2="0" y2="2136"><stop offset="0.000" stop-color="#450559"/><stop offset="0.225" stop-color="#46075a"/><stop offset="0.245" stop-color="#481668"/><stop offset="0.273" stop-color="#433d84"/><stop offset="0.303" stop-color="#375b8d"/><stop offset="0.340" stop-color="#31668e"/><stop offset="0.429" stop-color="#32658e"/><stop offset="0.468" stop-color="#3a548c"/><stop offset="0.535" stop-color="#46337f"/><stop offset="0.636" stop-color="#470e61"/><stop offset="0.688" stop-color="#46075a"/><stop offset="1.000" stop-color="#450559"/></linearGradient>
<linearGradient id="g101" gradientUnits="userSpaceOnUse" x1="0" y1="288" x2="0" y2="2136"><stop offset="0.000" stop-color="#450559"/><stop offset="0.225" stop-color="#46075a"/><stop offset="0.247" stop-color="#481769"/><stop offset="0.273" stop-color="#443a83"/><stop offset="0.297" stop-color="#3a548c"/><stop offset="0.329" stop-color="#33628d"/><stop offset="0.426" stop-color="#32658e"/><stop offset="0.463" stop-color="#38588c"/><stop offset="0.526" stop-color="#453781"/><stop offset="0.643" stop-color="#470d60"/><stop offset="0.693" stop-color="#46075a"/><stop offset="1.000" stop-color="#450559"/></linearGradient>
<linearGradient id="g102" gradientUnits="userSpaceOnUse" x1="0" y1="288" x2="0" y2="2136"><stop offset="0.000" stop-color="#450559"/><stop offset="0.225" stop-color="#46075a"/><stop offset="0.247" stop-color="#481769"/><stop offset="0.277" stop-color="#423f85"/><stop offset="0.303" stop-color="#39568c"/><stop offset="0.342" stop-color="#33628d"/><stop offset="0.433" stop-color="#33638d"/><stop offset="0.474" stop-color="#3b518b"/><stop offset="0.535" stop-color="#46337f"/><stop offset="0.649" stop-color="#460b5e"/><stop offset="0.714" stop-color="#450559"/><stop offset="1.000" stop-color="#450559"/></linearGradient>
<linearGradient id="g103" gradientUnits="userSpaceOnUse" x1="0" y1="288" x2="0" y2="2136"><stop offset="0.000" stop-color="#450559"/><stop offset="0.227" stop-color="#46075a"/><stop offset="0.249" stop-color="#48186a"/><stop offset="0.275" stop-color="#443a83"/><stop offset="0.299" stop-color="#3b528b"/><stop offset="0.335" stop-color="#355f8d"/><stop offset="0.424" stop-color="#32648e"/><stop offset="0.461" stop-color="#38588c"/><stop offset="0.535" stop-color="#46337f"/><stop offset="0.656" stop-color="#460a5d"/><stop offset="0.747" stop-color="#450559"/><stop offset="1.000" stop-color="#450559"/></linearGradient>
<linearGradient id="g104" gradientUnits="userSpaceOnUse" x1="0" y1="288" x2="0" y2="2136"><stop offset="0.000" stop-color="#450559"/><stop offset="0.227" stop-color="#46075a"/><stop offset="0.247" stop-color="#481668"/><stop offset="0.277" stop-color="#443a83"/><stop offset="0.299" stop-color="#3c508b"/><stop offset="0.338" stop-color="#365d8d"/><stop offset="0.422" stop-color="#33638d"/><stop offset="0.457" stop-color="#375a8c"/><stop offset="0.535" stop-color="#46337f"/><stop offset="0.626" stop-color="#471365"/><stop offset="0.677" stop-color="#46075a"/><stop offset="1.000" stop-color="#450559"/></linearGradient>
<linearGradient id="g105" gradientUnits="userSpaceOnUse" x1="0" y1="288" x2="0" y2="2136"><stop offset="0.000" stop-color="#450559"/><stop offset="0.227" stop-color="#46075a"/><stop offset="0.249" stop-color="#481769"/><stop offset="0.279" stop-color="#443b84"/><stop offset="0.303" stop-color="#3c508b"/><stop offset="0.351" stop-color="#365d8d"/><stop offset="0.422" stop-color="#33638d"/><stop offset="0.457" stop-color="#38598c"/><stop offset="0.530" stop-color="#463480"/><stop offset="0.613" stop-color="#481769"/><stop offset="0.667" stop-color="#46085c"/><stop offset="0.835" stop-color="#450559"/><stop offset="1.000" stop-color="#450559"/></linearGradient>
<linearGradient id="g106" gradientUnits="userSpaceOnUse" x1="0" y1="288" x2="0" y2="2136"><stop offset="0.000" stop-color="#450559"/><stop offset="0.227" stop-color="#46075a"/><stop offset="0.251" stop-color="#48186a"/><stop offset="0.281" stop-color="#443b84"/><stop offset="0.305" stop-color="#3c4f8a"/><stop offset="0.368" stop-color="#355e8d"/><stop offset="0.426" stop-color="#34618d"/><stop offset="0.461" stop-color="#39568c"/><stop offset="0.535" stop-color="#46327e"/><stop offset="0.613" stop-color="#481769"/><stop offset="0.667" stop-color="#46085c"/><stop offset="0.835" stop-color="#450559"/><stop offset="1.000" stop-color="#450559"/></linearGradient>
<linearGradient id="g107" gradientUnits="userSpaceOnUse" x1="0" y1="288" x2="0" y2="2136"><stop offset="0.000" stop-color="#450559"/><stop offset="0.227" stop-color="#46075a"/><stop offset="0.253" stop-color="#481a6c"/><stop offset="0.284" stop-color="#433d84"/><stop offset="0.314" stop-color="#3c508b"/><stop offset="0.403" stop-color="#34618d"/><stop offset="0.444" stop-color="#365d8d"/><stop offset="0.528" stop-color="#463480"/><stop offset="0.613" stop-color="#481769"/><stop offset="0.665" stop-color="#46085c"/><stop offset="0.833" stop-color="#450559"/><stop offset="1.000" stop-color="#450559"/></linearGradient>
<linearGradient id="g108" gradientUnits="userSpaceOnUse" x1="0" y1="288" x2="0" y2="2136"><stop offset="0.000" stop-color="#450559"/><stop offset="0.227" stop-color="#46075a"/><stop offset="0.247" stop-color="#471365"/><stop offset="0.281" stop-color="#453882"/><stop offset="0.307" stop-color="#3e4a89"/><stop offset="0.390" stop-color="#355f8d"/><stop offset="0.433" stop-color="#355f8d"/><stop offset="0.485" stop-color="#3f4889"/><stop offset="0.543" stop-color="#472e7c"/><stop offset="0.623" stop-color="#471365"/><stop offset="0.673" stop-color="#46075a"/><stop offset="1.000" stop-color="#450559"/></linearGradient>
<linearGradient id="g109" gradientUnits="userSpaceOnUse" x1="0" y1="288" x2="0" y2="2136"><stop offset="0.000" stop-color="#450559"/><stop offset="0.227" stop-color="#46075a"/><stop offset="0.249" stop-color="#481467"/><stop offset="0.284" stop-color="#453882"/><stop offset="0.310" stop-color="#3e4989"/><stop offset="0.398" stop-color="#355f8d"/><stop offset="0.442" stop-color="#365c8d"/><stop offset="0.524" stop-color="#463480"/><stop offset="0.615" stop-color="#481668"/><stop offset="0.662" stop-color="#46085c"/><stop offset="0.803" stop-color="#450559"/><stop offset="1.000" stop-color="#450559"/></linearGradient>
<linearGradient id="g110" gradientUnits="userSpaceOnUse" x1="0" y1="288" x2="0" y2="2136"><stop offset="0.000" stop-color="#450559"/><stop offset="0.229" stop-color="#46075a"/><stop offset="0.255" stop-color="#481a6c"/><stop offset="0.288" stop-color="#443a83"/><stop offset="0.325" stop-color="#3e4c8a"/><stop offset="0.398" stop-color="#355e8d"/><stop offset="0.442" stop-color="#375b8d"/><stop offset="0.528" stop-color="#46327e"/><stop offset="0.615" stop-color="#481668"/><stop offset="0.669" stop-color="#46075a"/><stop offset="1.000" stop-color="#450559"/></linearGradient>
<linearGradient id="g111" gradientUnits="userSpaceOnUse" x1="0" y1="288" x2="0" y2="2136"><stop offset="0.000" stop-color="#450559"/><stop offset="0.229" stop-color="#46075a"/><stop offset="0.258" stop-color="#481b6d"/><stop offset="0.290" stop-color="#443983"/><stop offset="0.325" stop-color="#3e4989"/><stop offset="0.396" stop-color="#365d8d"/><stop offset="0.442" stop-color="#375a8c"/><stop offset="0.526" stop-color="#46327e"/><stop offset="0.608" stop-color="#481769"/><stop offset="0.667" stop-color="#46075a"/><stop offset="1.000" stop-color="#450559"/></linearGradient>
<linearGradient id="g112" gradientUnits="userSpaceOnUse" x1="0" y1="288" x2="0" y2="2136"><stop offset="0.000" stop-color="#450559"/><stop offset="0.229" stop-color="#46075a"/><stop offset="0.262" stop-color="#481d6f"/><stop offset="0.292" stop-color="#453882"/><stop offset="0.340" stop-color="#3e4c8a"/><stop offset="0.396" stop-color="#365c8d"/><stop offset="0.439" stop-color="#38598c"/><stop offset="0.524" stop-color="#46327e"/><stop offset="0.615" stop-color="#481467"/><stop offset="0.669" stop-color="#46075a"/><stop offset="1.000" stop-color="#450559"/></linearGradient>
<linearGradient id="g113" gradientUnits="userSpaceOnUse" x1="0" y1="288" x2="0" y2="2136"><stop offset="0.000" stop-color="#450559"/><stop offset="0.229" stop-color="#46075a"/><stop offset="0.255" stop-color="#481769"/><stop offset="0.290" stop-color="#463480"/><stop offset="0.340" stop-color="#3e4989"/><stop offset="0.390" stop-color="#375a8c"/><stop offset="0.431" stop-color="#375a8c"/><stop offset="0.478" stop-color="#404688"/><stop offset="0.541" stop-color="#472a7a"/><stop offset="0.623" stop-color="#471164"/><stop offset="0.667" stop-color="#46075a"/><stop offset="1.000" stop-color="#450559"/></linearGradient>
<linearGradient id="g114" gradientUnits="userSpaceOnUse" x1="0" y1="288" x2="0" y2="2136"><stop offset="0.000" stop-color="#450559"/><stop offset="0.229" stop-color="#46075a"/><stop offset="0.266" stop-color="#481f70"/><stop offset="0.297" stop-color="#453781"/><stop offset="0.387" stop-color="#38598c"/><stop offset="0.433" stop-color="#38588c"/><stop offset="0.483" stop-color="#414287"/><stop offset="0.543" stop-color="#482979"/><stop offset="0.660" stop-color="#46075a"/><stop offset="1.000" stop-color="#450559"/></linearGradient>
<linearGradient id="g115" gradientUnits="userSpaceOnUse" x1="0" y1="288" x2="0" y2="2136"><stop offset="0.000" stop-color="#450559"/><stop offset="0.229" stop-color="#46075a"/><stop offset="0.266" stop-color="#481d6f"/><stop offset="0.297" stop-color="#463480"/><stop offset="0.385" stop-color="#39568c"/><stop offset="0.433" stop-color="#39568c"/><stop offset="0.489" stop-color="#433e85"/><stop offset="0.552" stop-color="#482576"/><stop offset="0.662" stop-color="#46075a"/><stop offset="1.000" stop-color="#450559"/></linearGradient>
<linearGradient id="g116" gradientUnits="userSpaceOnUse" x1="0" y1="288" x2="0" y2="2136"><stop offset="0.000" stop-color="#450559"/><stop offset="0.229" stop-color="#46075a"/><stop offset="0.258" stop-color="#481769"/><stop offset="0.299" stop-color="#46337f"/><stop offset="0.390" stop-color="#39568c"/><stop offset="0.435" stop-color="#3a548c"/><stop offset="0.511" stop-color="#46337f"/><stop offset="0.658" stop-color="#46075a"/><stop offset="1.000" stop-color="#450559"/></linearGradient>
<linearGradient id="g117" gradientUnits="userSpaceOnUse" x1="0" y1="288" x2="0" y2="2136"><stop offset="0.000" stop-color="#450559"/><stop offset="0.229" stop-color="#46075a"/><stop offset="0.266" stop-color="#481b6d"/><stop offset="0.301" stop-color="#46327e"/><stop offset="0.387" stop-color="#3a548c"/><stop offset="0.431" stop-color="#3a548c"/><stop offset="0.478" stop-color="#424086"/><stop offset="0.548" stop-color="#482576"/><stop offset="0.660" stop-color="#46075a"/><stop offset="1.000" stop-color="#450559"/></linearGradient>
<linearGradient id="g118" gradientUnits="userSpaceOnUse" x1="0" y1="288" x2="0" y2="2136"><stop offset="0.000" stop-color="#450559"/><stop offset="0.229" stop-color="#46075a"/><stop offset="0.262" stop-color="#481769"/><stop offset="0.297" stop-color="#472d7b"/><stop offset="0.385" stop-color="#3b528b"/><stop offset="0.424" stop-color="#3a548c"/><stop offset="0.468" stop-color="#404588"/><stop offset="0.532" stop-color="#482979"/><stop offset="0.658" stop-color="#46075a"/><stop offset="1.000" stop-color="#450559"/></linearGradient>
<linearGradient id="g119" gradientUnits="userSpaceOnUse" x1="0" y1="288" x2="0" y2="2136"><stop offset="0.000" stop-color="#450559"/><stop offset="0.229" stop-color="#46075a"/><stop offset="0.262" stop-color="#481769"/><stop offset="0.301" stop-color="#472d7b"/><stop offset="0.387" stop-color="#3b518b"/><stop offset="0.435" stop-color="#3b518b"/><stop offset="0.530" stop-color="#482979"/><stop offset="0.658" stop-color="#46075a"/><stop offset="1.000" stop-color="#450559"/></linearGradient>
<linearGradient id="g120" gradientUnits="userSpaceOnUse" x1="0" y1="288" x2="0" y2="2136"><stop offset="0.000" stop-color="#450559"/><stop offset="0.232" stop-color="#46075a"/><stop offset="0.288" stop-color="#482576"/><stop offset="0.377" stop-color="#3e4c8a"/><stop offset="0.413" stop-color="#3b528b"/><stop offset="0.452" stop-color="#3e4989"/><stop offset="0.519" stop-color="#472c7a"/><stop offset="0.658" stop-color="#46075a"/><stop offset="1.000" stop-color="#450559"/></linearGradient>
<linearGradient id="g121" gradientUnits="userSpaceOnUse" x1="0" y1="288" x2="0" y2="2136"><stop offset="0.000" stop-color="#450559"/><stop offset="0.232" stop-color="#46075a"/><stop offset="0.277" stop-color="#481d6f"/><stop offset="0.320" stop-color="#46327e"/><stop offset="0.394" stop-color="#3c4f8a"/><stop offset="0.433" stop-color="#3c4f8a"/><stop offset="0.517" stop-color="#472c7a"/><stop offset="0.656" stop-color="#46075a"/><stop offset="1.000" stop-color="#450559"/></linearGradient>
<linearGradient id="g122" gradientUnits="userSpaceOnUse" x1="0" y1="288" x2="0" y2="2136"><stop offset="0.000" stop-color="#450559"/><stop offset="0.234" stop-color="#46075a"/><stop offset="0.307" stop-color="#472c7a"/><stop offset="0.394" stop-color="#3d4d8a"/><stop offset="0.437" stop-color="#3d4d8a"/><stop offset="0.511" stop-color="#472d7b"/><stop offset="0.656" stop-color="#46075a"/><stop offset="1.000" stop-color="#450559"/></linearGradient>
<linearGradient id="g123" gradientUnits="userSpaceOnUse" x1="0" y1="288" x2="0" y2="2136"><stop offset="0.000" stop-color="#450559"/><stop offset="0.234" stop-color="#46075a"/><stop offset="0.312" stop-color="#472c7a"/><stop offset="0.396" stop-color="#3e4c8a"/><stop offset="0.437" stop-color="#3e4c8a"/><stop offset="0.504" stop-color="#472e7c"/><stop offset="0.602" stop-color="#471365"/><stop offset="0.669" stop-color="#450559"/><stop offset="1.000" stop-color="#450559"/></linearGradient>
<linearGradient id="g124" gradientUnits="userSpaceOnUse" x1="0" y1="288" x2="0" y2="2136"><stop offset="0.000" stop-color="#450559"/><stop offset="0.234" stop-color="#46075a"/><stop offset="0.316" stop-color="#472c7a"/><stop offset="0.400" stop-color="#3e4a89"/><stop offset="0.437" stop-color="#3e4a89"/><stop offset="0.504" stop-color="#472d7b"/><stop offset="0.595" stop-color="#481467"/><stop offset="0.660" stop-color="#46075a"/><stop offset="1.000" stop-color="#450559"/></linearGradient>
<linearGradient id="g125" gradientUnits="userSpaceOnUse" x1="0" y1="288" x2="0" y2="2136"><stop offset="0.000" stop-color="#450559"/><stop offset="0.236" stop-color="#46075a"/><stop offset="0.316" stop-color="#472a7a"/><stop offset="0.405" stop-color="#3e4989"/><stop offset="0.442" stop-color="#3f4889"/><stop offset="0.500" stop-color="#472d7b"/><stop offset="0.569" stop-color="#481b6d"/><stop offset="0.656" stop-color="#46075a"/><stop offset="1.000" stop-color="#450559"/></linearGradient>
<linearGradient id="g126" gradientUnits="userSpaceOnUse" x1="0" y1="288" x2="0" y2="2136"><stop offset="0.000" stop-color="#450559"/><stop offset="0.238" stop-color="#46075a"/><stop offset="0.314" stop-color="#482878"/><stop offset="0.405" stop-color="#3f4889"/><stop offset="0.442" stop-color="#3f4788"/><stop offset="0.500" stop-color="#472c7a"/><stop offset="0.569" stop-color="#481b6d"/><stop offset="0.645" stop-color="#46085c"/><stop offset="0.771" stop-color="#450559"/><stop offset="1.000" stop-color="#450559"/></linearGradient>
<linearGradient id="g127" gradientUnits="userSpaceOnUse" x1="0" y1="288" x2="0" y2="2136"><stop offset="0.000" stop-color="#450559"/><stop offset="0.238" stop-color="#46075a"/><stop offset="0.325" stop-color="#472a7a"/><stop offset="0.411" stop-color="#3f4788"/><stop offset="0.444" stop-color="#404588"/><stop offset="0.500" stop-color="#472a7a"/><stop offset="0.563" stop-color="#481c6e"/><stop offset="0.643" stop-color="#46085c"/><stop offset="0.784" stop-color="#450559"/><stop offset="1.000" stop-color="#450559"/></linearGradient>
<linearGradient id="g128" gradientUnits="userSpaceOnUse" x1="0" y1="288" x2="0" y2="2136"><stop offset="0.000" stop-color="#450559"/><stop offset="0.240" stop-color="#46075a"/><stop offset="0.329" stop-color="#472a7a"/><stop offset="0.416" stop-color="#404688"/><stop offset="0.448" stop-color="#424186"/><stop offset="0.498" stop-color="#472a7a"/><stop offset="0.565" stop-color="#481b6d"/><stop offset="0.634" stop-color="#460a5d"/><stop offset="0.701" stop-color="#450559"/><stop offset="1.000" stop-color="#450559"/></linearGradient>
<linearGradient id="g129" gradientUnits="userSpaceOnUse" x1="0" y1="288" x2="0" y2="2136"><stop offset="0.000" stop-color="#450559"/><stop offset="0.240" stop-color="#46075a"/><stop offset="0.338" stop-color="#472c7a"/><stop offset="0.418" stop-color="#404588"/><stop offset="0.450" stop-color="#423f85"/><stop offset="0.496" stop-color="#482979"/><stop offset="0.558" stop-color="#481c6e"/><stop offset="0.623" stop-color="#460b5e"/><stop offset="0.688" stop-color="#450559"/><stop offset="1.000" stop-color="#450559"/></linearGradient>
<linearGradient id="g130" gradientUnits="userSpaceOnUse" x1="0" y1="288" x2="0" y2="2136"><stop offset="0.000" stop-color="#450559"/><stop offset="0.242" stop-color="#46075a"/><stop offset="0.340" stop-color="#472a7a"/><stop offset="0.418" stop-color="#414287"/><stop offset="0.450" stop-color="#433e85"/><stop offset="0.496" stop-color="#482878"/><stop offset="0.554" stop-color="#481c6e"/><stop offset="0.630" stop-color="#460a5d"/><stop offset="0.706" stop-color="#450559"/><stop offset="1.000" stop-color="#450559"/></linearGradient>
<linearGradient id="g131" gradientUnits="userSpaceOnUse" x1="0" y1="288" x2="0" y2="2136"><stop offset="0.000" stop-color="#450559"/><stop offset="0.245" stop-color="#46075a"/><stop offset="0.348" stop-color="#472c7a"/><stop offset="0.418" stop-color="#424086"/><stop offset="0.444" stop-color="#433e85"/><stop offset="0.498" stop-color="#482677"/><stop offset="0.561" stop-color="#481a6c"/><stop offset="0.626" stop-color="#460a5d"/><stop offset="0.712" stop-color="#450559"/><stop offset="1.000" stop-color="#450559"/></linearGradient>
<linearGradient id="g132" gradientUnits="userSpaceOnUse" x1="0" y1="288" x2="0" y2="2136"><stop offset="0.000" stop-color="#450559"/><stop offset="0.245" stop-color="#46075a"/><stop offset="0.355" stop-color="#472c7a"/><stop offset="0.422" stop-color="#423f85"/><stop offset="0.457" stop-color="#453781"/><stop offset="0.500" stop-color="#482475"/><stop offset="0.556" stop-color="#481a6c"/><stop offset="0.632" stop-color="#46085c"/><stop offset="0.829" stop-color="#450559"/><stop offset="1.000" stop-color="#450559"/></linearGradient>
<linearGradient id="g133" gradientUnits="userSpaceOnUse" x1="0" y1="288" x2="0" y2="2136"><stop offset="0.000" stop-color="#450559"/><stop offset="0.247" stop-color="#46075a"/><stop offset="0.366" stop-color="#472d7b"/><stop offset="0.424" stop-color="#433d84"/><stop offset="0.457" stop-color="#453581"/><stop offset="0.496" stop-color="#482475"/><stop offset="0.571" stop-color="#481467"/><stop offset="0.632" stop-color="#46085c"/><stop offset="0.814" stop-color="#450559"/><stop offset="1.000" stop-color="#450559"/></linearGradient>
<linearGradient id="g134" gradientUnits="userSpaceOnUse" x1="0" y1="288" x2="0" y2="2136"><stop offset="0.000" stop-color="#450559"/><stop offset="0.249" stop-color="#46075a"/><stop offset="0.387" stop-color="#46327e"/><stop offset="0.426" stop-color="#443a83"/><stop offset="0.465" stop-color="#472f7d"/><stop offset="0.502" stop-color="#482173"/><stop offset="0.578" stop-color="#471164"/><stop offset="0.641" stop-color="#46075a"/><stop offset="1.000" stop-color="#450559"/></linearGradient>
<linearGradient id="g135" gradientUnits="userSpaceOnUse" x1="0" y1="288" x2="0" y2="2136"><stop offset="0.000" stop-color="#450559"/><stop offset="0.249" stop-color="#46075a"/><stop offset="0.398" stop-color="#46337f"/><stop offset="0.433" stop-color="#453882"/><stop offset="0.483" stop-color="#482576"/><stop offset="0.623" stop-color="#46085c"/><stop offset="0.833" stop-color="#450559"/><stop offset="1.000" stop-color="#450559"/></linearGradient>
<linearGradient id="g136" gradientUnits="userSpaceOnUse" x1="0" y1="288" x2="0" y2="2136"><stop offset="0.000" stop-color="#450559"/><stop offset="0.251" stop-color="#46075a"/><stop offset="0.407" stop-color="#46337f"/><stop offset="0.446" stop-color="#46337f"/><stop offset="0.506" stop-color="#481d6f"/><stop offset="0.628" stop-color="#46075a"/><stop offset="1.000" stop-color="#450559"/></linearGradient>
<linearGradient id="g137" gradientUnits="userSpaceOnUse" x1="0" y1="288" x2="0" y2="2136"><stop offset="0.000" stop-color="#450559"/><stop offset="0.253" stop-color="#46075a"/><stop offset="0.416" stop-color="#46337f"/><stop offset="0.450" stop-color="#472f7d"/><stop offset="0.506" stop-color="#481c6e"/><stop offset="0.626" stop-color="#46075a"/><stop offset="1.000" stop-color="#450559"/></linearGradient>
<linearGradient id="g138" gradientUnits="userSpaceOnUse" x1="0" y1="288" x2="0" y2="2136"><stop offset="0.000" stop-color="#450559"/><stop offset="0.255" stop-color="#46075a"/><stop offset="0.377" stop-color="#482677"/><stop offset="0.426" stop-color="#46327e"/><stop offset="0.472" stop-color="#482576"/><stop offset="0.522" stop-color="#48186a"/><stop offset="0.621" stop-color="#46075a"/><stop offset="1.000" stop-color="#450559"/></linearGradient>
<linearGradient id="g139" gradientUnits="userSpaceOnUse" x1="0" y1="288" x2="0" y2="2136"><stop offset="0.000" stop-color="#450559"/><stop offset="0.260" stop-color="#46075a"/><stop offset="0.370" stop-color="#482374"/><stop offset="0.426" stop-color="#472f7d"/><stop offset="0.481" stop-color="#482071"/><stop offset="0.610" stop-color="#46075a"/><stop offset="1.000" stop-color="#450559"/></linearGradient>
<linearGradient id="g140" gradientUnits="userSpaceOnUse" x1="0" y1="288" x2="0" y2="2136"><stop offset="0.000" stop-color="#450559"/><stop offset="0.262" stop-color="#46075a"/><stop offset="0.364" stop-color="#481f70"/><stop offset="0.424" stop-color="#472d7b"/><stop offset="0.474" stop-color="#482173"/><stop offset="0.526" stop-color="#481467"/><stop offset="0.630" stop-color="#450559"/><stop offset="1.000" stop-color="#450559"/></linearGradient>
<linearGradient id="g141" gradientUnits="userSpaceOnUse" x1="0" y1="288" x2="0" y2="2136"><stop offset="0.000" stop-color="#450559"/><stop offset="0.266" stop-color="#46075a"/><stop offset="0.355" stop-color="#481b6d"/><stop offset="0.413" stop-color="#482979"/><stop offset="0.446" stop-color="#482878"/><stop offset="0.524" stop-color="#471365"/><stop offset="0.630" stop-color="#450559"/><stop offset="1.000" stop-color="#450559"/></linearGradient>
<linearGradient id="g142" gradientUnits="userSpaceOnUse" x1="0" y1="288" x2="0" y2="2136"><stop offset="0.000" stop-color="#450559"/><stop offset="0.268" stop-color="#46075a"/><stop offset="0.342" stop-color="#481668"/><stop offset="0.409" stop-color="#482677"/><stop offset="0.448" stop-color="#482576"/><stop offset="0.530" stop-color="#471063"/><stop offset="0.632" stop-color="#450559"/><stop offset="1.000" stop-color="#450559"/></linearGradient>
<linearGradient id="g143" gradientUnits="userSpaceOnUse" x1="0" y1="288" x2="0" y2="2136"><stop offset="0.000" stop-color="#450559"/><stop offset="0.273" stop-color="#46075a"/><stop offset="0.348" stop-color="#481668"/><stop offset="0.413" stop-color="#482576"/><stop offset="0.455" stop-color="#482173"/><stop offset="0.530" stop-color="#470e61"/><stop offset="0.636" stop-color="#450559"/><stop offset="1.000" stop-color="#450559"/></linearGradient>
<linearGradient id="g144" gradientUnits="userSpaceOnUse" x1="0" y1="288" x2="0" y2="2136"><stop offset="0.000" stop-color="#450559"/><stop offset="0.279" stop-color="#46075a"/><stop offset="0.348" stop-color="#481467"/><stop offset="0.409" stop-color="#482374"/><stop offset="0.452" stop-color="#482071"/><stop offset="0.532" stop-color="#470d60"/><stop offset="0.641" stop-color="#450559"/><stop offset="1.000" stop-color="#450559"/></linearGradient>
<linearGradient id="g145" gradientUnits="userSpaceOnUse" x1="0" y1="288" x2="0" y2="2136"><stop offset="0.000" stop-color="#450559"/><stop offset="0.284" stop-color="#46075a"/><stop offset="0.348" stop-color="#471365"/><stop offset="0.405" stop-color="#482071"/><stop offset="0.448" stop-color="#481f70"/><stop offset="0.535" stop-color="#460b5e"/><stop offset="0.649" stop-color="#450559"/><stop offset="1.000" stop-color="#450559"/></linearGradient>
<linearGradient id="g146" gradientUnits="userSpaceOnUse" x1="0" y1="288" x2="0" y2="2136"><stop offset="0.000" stop-color="#450559"/><stop offset="0.290" stop-color="#46075a"/><stop offset="0.348" stop-color="#471164"/><stop offset="0.405" stop-color="#481f70"/><stop offset="0.457" stop-color="#481b6d"/><stop offset="0.537" stop-color="#460a5d"/><stop offset="0.680" stop-color="#450559"/><stop offset="1.000" stop-color="#450559"/></linearGradient>
<linearGradient id="g147" gradientUnits="userSpaceOnUse" x1="0" y1="288" x2="0" y2="2136"><stop offset="0.000" stop-color="#450559"/><stop offset="0.299" stop-color="#46075a"/><stop offset="0.353" stop-color="#471164"/><stop offset="0.411" stop-color="#481d6f"/><stop offset="0.465" stop-color="#481769"/><stop offset="0.541" stop-color="#46085c"/><stop offset="0.920" stop-color="#450559"/><stop offset="1.000" stop-color="#450559"/></linearGradient>
<linearGradient id="g148" gradientUnits="userSpaceOnUse" x1="0" y1="288" x2="0" y2="2136"><stop offset="0.000" stop-color="#450559"/><stop offset="0.307" stop-color="#46075a"/><stop offset="0.361" stop-color="#471365"/><stop offset="0.409" stop-color="#481b6d"/><stop offset="0.457" stop-color="#481769"/><stop offset="0.537" stop-color="#46085c"/><stop offset="0.931" stop-color="#450559"/><stop offset="1.000" stop-color="#450559"/></linearGradient>
<linearGradient id="g149" gradientUnits="userSpaceOnUse" x1="0" y1="288" x2="0" y2="2136"><stop offset="0.000" stop-color="#450559"/><stop offset="0.318" stop-color="#46075a"/><stop offset="0.403" stop-color="#481a6c"/><stop offset="0.455" stop-color="#481668"/><stop offset="0.537" stop-color="#46075a"/><stop offset="1.000" stop-color="#450559"/></linearGradient>
<linearGradient id="g150" gradientUnits="userSpaceOnUse" x1="0" y1="288" x2="0" y2="2136"><stop offset="0.000" stop-color="#450559"/><stop offset="0.325" stop-color="#46075a"/><stop offset="0.396" stop-color="#481769"/><stop offset="0.444" stop-color="#481668"/><stop offset="0.530" stop-color="#46075a"/><stop offset="1.000" stop-color="#450559"/></linearGradient>
<linearGradient id="g151" gradientUnits="userSpaceOnUse" x1="0" y1="288" x2="0" y2="2136"><stop offset="0.000" stop-color="#450559"/><stop offset="0.331" stop-color="#46075a"/><stop offset="0.394" stop-color="#481668"/><stop offset="0.450" stop-color="#471365"/><stop offset="0.526" stop-color="#46075a"/><stop offset="1.000" stop-color="#450559"/></linearGradient>
<linearGradient id="g152" gradientUnits="userSpaceOnUse" x1="0" y1="288" x2="0" y2="2136"><stop offset="0.000" stop-color="#450559"/><stop offset="0.335" stop-color="#46075a"/><stop offset="0.394" stop-color="#481467"/><stop offset="0.459" stop-color="#471063"/><stop offset="0.532" stop-color="#450559"/><stop offset="1.000" stop-color="#450559"/></linearGradient>
<linearGradient id="g153" gradientUnits="userSpaceOnUse" x1="0" y1="288" x2="0" y2="2136"><stop offset="0.000" stop-color="#450559"/><stop offset="0.338" stop-color="#46075a"/><stop offset="0.394" stop-color="#471365"/><stop offset="0.457" stop-color="#470e61"/><stop offset="0.528" stop-color="#450559"/><stop offset="1.000" stop-color="#450559"/></linearGradient>
<linearGradient id="g154" gradientUnits="userSpaceOnUse" x1="0" y1="288" x2="0" y2="2136"><stop offset="0.000" stop-color="#450559"/><stop offset="0.342" stop-color="#46075a"/><stop offset="0.396" stop-color="#471164"/><stop offset="0.468" stop-color="#460b5e"/><stop offset="0.535" stop-color="#450457"/><stop offset="0.673" stop-color="#450559"/><stop offset="1.000" stop-color="#450559"/></linearGradient>
<linearGradient id="g155" gradientUnits="userSpaceOnUse" x1="0" y1="288" x2="0" y2="2136"><stop offset="0.000" stop-color="#450559"/><stop offset="0.344" stop-color="#46075a"/><stop offset="0.398" stop-color="#471063"/><stop offset="0.470" stop-color="#460a5d"/><stop offset="0.539" stop-color="#450457"/><stop offset="0.665" stop-color="#450559"/><stop offset="1.000" stop-color="#450559"/></linearGradient>
<linearGradient id="g156" gradientUnits="userSpaceOnUse" x1="0" y1="288" x2="0" y2="2136"><stop offset="0.000" stop-color="#450559"/><stop offset="0.348" stop-color="#46075a"/><stop offset="0.398" stop-color="#470e61"/><stop offset="0.524" stop-color="#450559"/><stop offset="1.000" stop-color="#450559"/></linearGradient>
<linearGradient id="g157" gradientUnits="userSpaceOnUse" x1="0" y1="288" x2="0" y2="2136"><stop offset="0.000" stop-color="#450559"/><stop offset="0.351" stop-color="#46075a"/><stop offset="0.400" stop-color="#470d60"/><stop offset="0.524" stop-color="#450559"/><stop offset="1.000" stop-color="#450559"/></linearGradient>
<linearGradient id="g158" gradientUnits="userSpaceOnUse" x1="0" y1="288" x2="0" y2="2136"><stop offset="0.000" stop-color="#450559"/><stop offset="0.355" stop-color="#46075a"/><stop offset="0.405" stop-color="#460b5e"/><stop offset="0.528" stop-color="#450559"/><stop offset="1.000" stop-color="#450559"/></linearGradient>
<linearGradient id="g159" gradientUnits="userSpaceOnUse" x1="0" y1="288" x2="0" y2="2136"><stop offset="0.000" stop-color="#450559"/><stop offset="0.359" stop-color="#46075a"/><stop offset="0.407" stop-color="#460b5e"/><stop offset="0.511" stop-color="#450559"/><stop offset="1.000" stop-color="#450559"/></linearGradient>
<linearGradient id="g160" gradientUnits="userSpaceOnUse" x1="0" y1="288" x2="0" y2="2136"><stop offset="0.000" stop-color="#450559"/><stop offset="0.366" stop-color="#46075a"/><stop offset="0.413" stop-color="#460a5d"/><stop offset="0.524" stop-color="#450559"/><stop offset="1.000" stop-color="#450559"/></linearGradient>
<linearGradient id="g161" gradientUnits="userSpaceOnUse" x1="0" y1="288" x2="0" y2="2136"><stop offset="0.000" stop-color="#450559"/><stop offset="0.377" stop-color="#46075a"/><stop offset="1.000" stop-color="#450559"/></linearGradient>
<linearGradient id="g162" gradientUnits="userSpaceOnUse" x1="0" y1="288" x2="0" y2="2136"><stop offset="0.000" stop-color="#450559"/><stop offset="1.000" stop-color="#450559"/></linearGradient>
<linearGradient id="g163" gradientUnits="userSpaceOnUse" x1="0" y1="288" x2="0" y2="2136"><stop offset="0.000" stop-color="#450559"/><stop offset="1.000" stop-color="#450559"/></linearGradient>
<linearGradient id="g164" gradientUnits="userSpaceOnUse" x1="0" y1="288" x2="0" y2="2136"><stop offset="0.000" stop-color="#450559"/><stop offset="1.000" stop-color="#450559"/></linearGradient>
<linearGradient id="g165" gradientUnits="userSpaceOnUse" x1="0" y1="288" x2="0" y2="2136"><stop offset="0.000" stop-color="#450559"/><stop offset="1.000" stop-color="#450559"/></linearGradient>
<linearGradient id="g166" gradientUnits="userSpaceOnUse" x1="0" y1="288" x2="0" y2="2136"><stop offset="0.000" stop-color="#450559"/><stop offset="1.000" stop-color="#450559"/></linearGradient>
<linearGradient id="g167" gradientUnits="userSpaceOnUse" x1="0" y1="288" x2="0" y2="2136"><stop offset="0.000" stop-color="#450559"/><stop offset="1.000" stop-color="#450559"/></linearGradient>
<linearGradient id="g168" gradientUnits="userSpaceOnUse" x1="0" y1="288" x2="0" y2="2136"><stop offset="0.000" stop-color="#450559"/><stop offset="1.000" stop-color="#450559"/></linearGradient>
<linearGradient id="g169" gradientUnits="userSpaceOnUse" x1="0" y1="288" x2="0" y2="2136"><stop offset="0.000" stop-color="#450559"/><stop offset="1.000" stop-color="#450559"/></linearGradient><clipPath id="sc"><polygon points="778.5,700.5 784.3,656.0 804.7,657.6 842.1,659.8 861.6,624.7 883.2,613.5 904.8,616.2 927.3,630.6 945.7,657.4 971.0,641.2 991.5,641.1 1011.8,662.0 1036.9,678.6 1059.3,663.6 1080.2,675.5 1104.8,669.3 1125.7,663.4 1150.1,657.5 1183.7,654.5 1205.8,651.2 1224.1,671.3 1268.1,692.3 1288.6,694.6 1304.5,714.4 1334.8,700.5 1383.3,711.5 1409.9,711.2 1440.5,734.1 1461.1,737.3 1489.7,750.7 1511.7,765.7 1535.8,777.0 1554.3,803.2 1559.9,816.2 1574.4,826.0 1599.1,831.9 1619.1,847.8 1618.6,880.7 1633.1,906.9 1640.6,924.3 1640.6,944.3 1646.4,957.5 1640.7,978.1 1633.8,997.7 1625.5,1018.8 1625.4,1079.5 1613.7,1168.1 1586.1,1182.2 1595.5,1224.3 1563.7,1287.2 1552.4,1300.8 1579.6,1332.3 1554.3,1405.4 1515.9,1419.2 1466.7,1454.3 1435.1,1468.7 1402.1,1473.7 1370.6,1488.4 1337.6,1478.4 1305.5,1493.5 1272.4,1471.4 1239.0,1488.4 1207.4,1471.6 1163.4,1474.0 1135.2,1500.7 1103.1,1517.1 1071.8,1532.5 1039.6,1529.4 1029.2,1531.7 1008.2,1538.7 988.0,1543.4 968.1,1538.8 948.0,1529.8 929.0,1507.3 910.6,1399.4 878.3,1394.0 849.0,1437.4 835.8,1491.7 824.4,1515.3 805.6,1523.6 776.6,1525.4"/><rect x="353.04" y="629.4" width="29.2" height="75.4" rx="14.6" ry="14.6"/><rect x="353.04" y="679.8" width="29.2" height="100.9" rx="14.6" ry="14.6"/><rect x="353.04" y="760.5" width="29.2" height="97.0" rx="14.6" ry="14.6"/><rect x="353.04" y="835.7" width="29.2" height="60.4" rx="14.6" ry="14.6"/><rect x="353.04" y="874.3" width="29.2" height="144.0" rx="14.6" ry="14.6"/><rect x="353.04" y="999.0" width="29.2" height="124.9" rx="14.6" ry="14.6"/><rect x="353.04" y="1099.5" width="29.2" height="139.7" rx="14.6" ry="14.6"/><rect x="353.04" y="1219.9" width="29.2" height="74.1" rx="14.6" ry="14.6"/><rect x="353.04" y="1273.2" width="29.2" height="61.0" rx="14.6" ry="14.6"/><rect x="353.04" y="1309.9" width="29.2" height="87.7" rx="14.6" ry="14.6"/><rect x="353.04" y="1373.5" width="29.2" height="127.5" rx="14.6" ry="14.6"/><rect x="353.04" y="1481.5" width="29.2" height="82.1" rx="14.6" ry="14.6"/><rect x="468.45" y="746.4" width="29.2" height="69.2" rx="14.6" ry="14.6"/><rect x="468.45" y="791.0" width="29.2" height="123.3" rx="14.6" ry="14.6"/><rect x="468.45" y="893.4" width="29.2" height="64.2" rx="14.6" ry="14.6"/><rect x="468.45" y="935.7" width="29.2" height="95.4" rx="14.6" ry="14.6"/><rect x="468.45" y="1011.8" width="29.2" height="123.8" rx="14.6" ry="14.6"/><rect x="468.45" y="1114.7" width="29.2" height="108.9" rx="14.6" ry="14.6"/><rect x="468.45" y="1205.0" width="29.2" height="148.0" rx="14.6" ry="14.6"/><rect x="468.45" y="1330.2" width="29.2" height="80.8" rx="14.6" ry="14.6"/><rect x="468.45" y="1391.3" width="29.2" height="64.9" rx="14.6" ry="14.6"/><rect x="468.45" y="1433.6" width="29.2" height="65.5" rx="14.6" ry="14.6"/><rect x="468.45" y="1476.2" width="29.2" height="65.5" rx="14.6" ry="14.6"/><rect x="468.45" y="1518.5" width="29.2" height="49.1" rx="14.6" ry="14.6"/><rect x="535.96" y="704.4" width="29.2" height="130.5" rx="14.6" ry="14.6"/><rect x="535.96" y="813.7" width="29.2" height="114.6" rx="14.6" ry="14.6"/><rect x="535.96" y="905.6" width="29.2" height="74.4" rx="14.6" ry="14.6"/><rect x="535.96" y="957.9" width="29.2" height="125.2" rx="14.6" ry="14.6"/><rect x="535.96" y="1058.3" width="29.2" height="61.1" rx="14.6" ry="14.6"/><rect x="535.96" y="1099.5" width="29.2" height="86.2" rx="14.6" ry="14.6"/><rect x="535.96" y="1165.4" width="29.2" height="125.3" rx="14.6" ry="14.6"/><rect x="535.96" y="1272.1" width="29.2" height="95.2" rx="14.6" ry="14.6"/><rect x="535.96" y="1344.6" width="29.2" height="131.8" rx="14.6" ry="14.6"/><rect x="535.96" y="1456.6" width="29.2" height="117.9" rx="14.6" ry="14.6"/><rect x="535.96" y="1555.0" width="29.2" height="85.6" rx="14.6" ry="14.6"/><rect x="583.85" y="711.4" width="29.2" height="89.2" rx="14.6" ry="14.6"/><rect x="583.85" y="780.6" width="29.2" height="144.7" rx="14.6" ry="14.6"/><rect x="583.85" y="902.4" width="29.2" height="114.2" rx="14.6" ry="14.6"/><rect x="583.85" y="994.0" width="29.2" height="100.7" rx="14.6" ry="14.6"/><rect x="583.85" y="1070.1" width="29.2" height="60.9" rx="14.6" ry="14.6"/><rect x="583.85" y="1111.2" width="29.2" height="99.9" rx="14.6" ry="14.6"/><rect x="583.85" y="1190.3" width="29.2" height="125.8" rx="14.6" ry="14.6"/><rect x="583.85" y="1293.8" width="29.2" height="92.3" rx="14.6" ry="14.6"/><rect x="583.85" y="1362.1" width="29.2" height="130.6" rx="14.6" ry="14.6"/><rect x="583.85" y="1473.4" width="29.2" height="125.3" rx="14.6" ry="14.6"/><rect x="583.85" y="1579.6" width="29.2" height="109.0" rx="14.6" ry="14.6"/><rect x="621.01" y="690.4" width="29.2" height="76.6" rx="14.6" ry="14.6"/><rect x="621.01" y="747.1" width="29.2" height="89.3" rx="14.6" ry="14.6"/><rect x="621.01" y="814.3" width="29.2" height="87.9" rx="14.6" ry="14.6"/><rect x="621.01" y="881.0" width="29.2" height="118.5" rx="14.6" ry="14.6"/><rect x="621.01" y="978.3" width="29.2" height="87.8" rx="14.6" ry="14.6"/><rect x="621.01" y="1042.4" width="29.2" height="135.2" rx="14.6" ry="14.6"/><rect x="621.01" y="1154.6" width="29.2" height="98.6" rx="14.6" ry="14.6"/><rect x="621.01" y="1228.7" width="29.2" height="86.3" rx="14.6" ry="14.6"/><rect x="621.01" y="1290.4" width="29.2" height="90.1" rx="14.6" ry="14.6"/><rect x="621.01" y="1360.3" width="29.2" height="146.9" rx="14.6" ry="14.6"/><rect x="621.01" y="1486.3" width="29.2" height="83.4" rx="14.6" ry="14.6"/><rect x="621.01" y="1549.1" width="29.2" height="102.5" rx="14.6" ry="14.6"/><rect x="651.36" y="712.4" width="29.2" height="107.2" rx="14.6" ry="14.6"/><rect x="651.36" y="800.8" width="29.2" height="96.6" rx="14.6" ry="14.6"/><rect x="651.36" y="874.2" width="29.2" height="105.9" rx="14.6" ry="14.6"/><rect x="651.36" y="961.4" width="29.2" height="124.4" rx="14.6" ry="14.6"/><rect x="651.36" y="1064.0" width="29.2" height="104.0" rx="14.6" ry="14.6"/><rect x="651.36" y="1147.3" width="29.2" height="99.5" rx="14.6" ry="14.6"/><rect x="651.36" y="1225.5" width="29.2" height="146.6" rx="14.6" ry="14.6"/><rect x="651.36" y="1353.4" width="29.2" height="134.9" rx="14.6" ry="14.6"/><rect x="651.36" y="1463.9" width="29.2" height="109.3" rx="14.6" ry="14.6"/><rect x="651.36" y="1550.6" width="29.2" height="33.0" rx="14.6" ry="14.6"/><rect x="677.03" y="701.4" width="29.2" height="143.0" rx="14.6" ry="14.6"/><rect x="677.03" y="820.8" width="29.2" height="97.0" rx="14.6" ry="14.6"/><rect x="677.03" y="899.4" width="29.2" height="112.8" rx="14.6" ry="14.6"/><rect x="677.03" y="993.5" width="29.2" height="107.7" rx="14.6" ry="14.6"/><rect x="677.03" y="1077.6" width="29.2" height="123.4" rx="14.6" ry="14.6"/><rect x="677.03" y="1179.4" width="29.2" height="104.7" rx="14.6" ry="14.6"/><rect x="677.03" y="1259.9" width="29.2" height="72.2" rx="14.6" ry="14.6"/><rect x="677.03" y="1313.4" width="29.2" height="145.2" rx="14.6" ry="14.6"/><rect x="677.03" y="1440.2" width="29.2" height="91.4" rx="14.6" ry="14.6"/><rect x="677.03" y="1506.7" width="29.2" height="100.9" rx="14.6" ry="14.6"/><rect x="699.26" y="687.4" width="29.2" height="117.5" rx="14.6" ry="14.6"/><rect x="699.26" y="780.1" width="29.2" height="80.2" rx="14.6" ry="14.6"/><rect x="699.26" y="840.0" width="29.2" height="64.2" rx="14.6" ry="14.6"/><rect x="699.26" y="884.9" width="29.2" height="148.2" rx="14.6" ry="14.6"/><rect x="699.26" y="1009.6" width="29.2" height="64.1" rx="14.6" ry="14.6"/><rect x="699.26" y="1055.4" width="29.2" height="128.2" rx="14.6" ry="14.6"/><rect x="699.26" y="1161.6" width="29.2" height="102.2" rx="14.6" ry="14.6"/><rect x="699.26" y="1245.0" width="29.2" height="91.2" rx="14.6" ry="14.6"/><rect x="699.26" y="1311.4" width="29.2" height="114.5" rx="14.6" ry="14.6"/><rect x="699.26" y="1402.9" width="29.2" height="120.5" rx="14.6" ry="14.6"/><rect x="699.26" y="1504.9" width="29.2" height="54.7" rx="14.6" ry="14.6"/><rect x="718.87" y="684.4" width="29.2" height="64.0" rx="14.6" ry="14.6"/><rect x="718.87" y="729.0" width="29.2" height="66.3" rx="14.6" ry="14.6"/><rect x="718.87" y="776.7" width="29.2" height="122.8" rx="14.6" ry="14.6"/><rect x="718.87" y="880.6" width="29.2" height="132.5" rx="14.6" ry="14.6"/><rect x="718.87" y="989.3" width="29.2" height="75.0" rx="14.6" ry="14.6"/><rect x="718.87" y="1045.8" width="29.2" height="85.4" rx="14.6" ry="14.6"/><rect x="718.87" y="1111.6" width="29.2" height="74.6" rx="14.6" ry="14.6"/><rect x="718.87" y="1163.0" width="29.2" height="119.8" rx="14.6" ry="14.6"/><rect x="718.87" y="1259.4" width="29.2" height="126.9" rx="14.6" ry="14.6"/><rect x="718.87" y="1367.2" width="29.2" height="88.0" rx="14.6" ry="14.6"/><rect x="718.87" y="1432.1" width="29.2" height="61.7" rx="14.6" ry="14.6"/><rect x="718.87" y="1471.6" width="29.2" height="65.1" rx="14.6" ry="14.6"/><rect x="718.87" y="1515.5" width="29.2" height="72.1" rx="14.6" ry="14.6"/><rect x="736.42" y="672.4" width="29.2" height="113.5" rx="14.6" ry="14.6"/><rect x="736.42" y="764.9" width="29.2" height="140.4" rx="14.6" ry="14.6"/><rect x="736.42" y="883.9" width="29.2" height="136.7" rx="14.6" ry="14.6"/><rect x="736.42" y="997.9" width="29.2" height="71.9" rx="14.6" ry="14.6"/><rect x="736.42" y="1046.1" width="29.2" height="130.6" rx="14.6" ry="14.6"/><rect x="736.42" y="1153.1" width="29.2" height="128.7" rx="14.6" ry="14.6"/><rect x="736.42" y="1262.9" width="29.2" height="108.2" rx="14.6" ry="14.6"/><rect x="736.42" y="1346.9" width="29.2" height="115.3" rx="14.6" ry="14.6"/><rect x="736.42" y="1439.7" width="29.2" height="134.9" rx="14.6" ry="14.6"/><rect x="752.29" y="647.4" width="29.2" height="80.3" rx="14.6" ry="14.6"/><rect x="752.29" y="705.9" width="29.2" height="103.6" rx="14.6" ry="14.6"/><rect x="752.29" y="785.6" width="29.2" height="92.9" rx="14.6" ry="14.6"/><rect x="752.29" y="858.0" width="29.2" height="101.5" rx="14.6" ry="14.6"/><rect x="752.29" y="934.7" width="29.2" height="96.6" rx="14.6" ry="14.6"/><rect x="752.29" y="1009.0" width="29.2" height="99.5" rx="14.6" ry="14.6"/><rect x="752.29" y="1083.5" width="29.2" height="83.9" rx="14.6" ry="14.6"/><rect x="752.29" y="1148.8" width="29.2" height="138.7" rx="14.6" ry="14.6"/><rect x="752.29" y="1268.8" width="29.2" height="127.5" rx="14.6" ry="14.6"/><rect x="752.29" y="1374.2" width="29.2" height="143.6" rx="14.6" ry="14.6"/><rect x="752.29" y="1494.7" width="29.2" height="64.9" rx="14.6" ry="14.6"/><rect x="766.77" y="650.4" width="29.2" height="98.9" rx="14.6" ry="14.6"/><rect x="766.77" y="725.8" width="29.2" height="88.9" rx="14.6" ry="14.6"/><rect x="766.77" y="794.1" width="29.2" height="84.8" rx="14.6" ry="14.6"/><rect x="766.77" y="856.0" width="29.2" height="91.1" rx="14.6" ry="14.6"/><rect x="766.77" y="924.2" width="29.2" height="133.8" rx="14.6" ry="14.6"/><rect x="766.77" y="1036.6" width="29.2" height="60.9" rx="14.6" ry="14.6"/><rect x="766.77" y="1077.4" width="29.2" height="104.4" rx="14.6" ry="14.6"/><rect x="766.77" y="1162.1" width="29.2" height="103.7" rx="14.6" ry="14.6"/><rect x="766.77" y="1242.8" width="29.2" height="134.7" rx="14.6" ry="14.6"/><rect x="766.77" y="1353.5" width="29.2" height="84.2" rx="14.6" ry="14.6"/><rect x="766.77" y="1415.9" width="29.2" height="136.6" rx="14.6" ry="14.6"/><rect x="766.77" y="1528.1" width="29.2" height="30.5" rx="14.6" ry="14.6"/><circle cx="367.6" cy="591.6" r="14.6"/><circle cx="367.6" cy="620.9" r="14.6"/><circle cx="367.6" cy="1595.0" r="14.6"/><circle cx="367.6" cy="1601.0" r="14.6"/><circle cx="367.6" cy="1623.6" r="14.6"/><circle cx="367.6" cy="1727.5" r="14.6"/><circle cx="483.7" cy="712.5" r="14.6"/><circle cx="483.7" cy="1608.0" r="14.6"/><circle cx="483.7" cy="1620.0" r="14.6"/><circle cx="483.7" cy="1690.7" r="14.6"/><circle cx="483.7" cy="1698.0" r="14.6"/><circle cx="550.6" cy="539.4" r="14.6"/><circle cx="550.6" cy="658.0" r="14.6"/><circle cx="550.6" cy="1656.0" r="14.6"/><circle cx="550.6" cy="1672.0" r="14.6"/><circle cx="550.6" cy="1748.0" r="14.6"/><circle cx="598.3" cy="650.0" r="14.6"/><circle cx="635.4" cy="1717.6" r="14.6"/><circle cx="635.4" cy="1773.5" r="14.6"/><circle cx="635.4" cy="1815.3" r="14.6"/><circle cx="635.4" cy="1912.3" r="14.6"/><circle cx="818.6" cy="372.0" r="14.6"/><circle cx="928.2" cy="380.4" r="14.6"/><circle cx="1012.3" cy="379.4" r="14.6"/><circle cx="904.0" cy="427.0" r="14.6"/><circle cx="890.0" cy="440.3" r="14.6"/><circle cx="866.7" cy="453.4" r="14.6"/><circle cx="767.0" cy="449.6" r="14.6"/><circle cx="829.4" cy="467.3" r="14.6"/><circle cx="1157.7" cy="460.2" r="14.6"/><circle cx="1116.7" cy="494.3" r="14.6"/><circle cx="944.3" cy="500.0" r="14.6"/><circle cx="874.5" cy="510.2" r="14.6"/><circle cx="896.5" cy="521.0" r="14.6"/><circle cx="818.6" cy="523.2" r="14.6"/><circle cx="794.3" cy="528.5" r="14.6"/><circle cx="874.5" cy="532.5" r="14.6"/><circle cx="874.5" cy="549.6" r="14.6"/><circle cx="896.5" cy="558.3" r="14.6"/><circle cx="933.8" cy="546.5" r="14.6"/><circle cx="959.3" cy="554.3" r="14.6"/><circle cx="767.0" cy="573.9" r="14.6"/><circle cx="767.0" cy="605.5" r="14.6"/><circle cx="767.0" cy="629.4" r="14.6"/><circle cx="866.7" cy="596.2" r="14.6"/><circle cx="896.5" cy="589.4" r="14.6"/><circle cx="954.3" cy="595.3" r="14.6"/><circle cx="944.3" cy="605.0" r="14.6"/><circle cx="959.3" cy="618.0" r="14.6"/><circle cx="1001.8" cy="575.1" r="14.6"/><circle cx="1031.9" cy="594.7" r="14.6"/><circle cx="1067.0" cy="597.1" r="14.6"/><circle cx="1062.4" cy="605.5" r="14.6"/><circle cx="1096.8" cy="593.1" r="14.6"/><circle cx="1141.0" cy="580.7" r="14.6"/><circle cx="1015.8" cy="621.0" r="14.6"/><circle cx="1104.9" cy="627.9" r="14.6"/><circle cx="1136.0" cy="622.6" r="14.6"/><circle cx="1147.8" cy="639.7" r="14.6"/><circle cx="1172.6" cy="622.6" r="14.6"/><circle cx="1189.7" cy="623.2" r="14.6"/><circle cx="1211.4" cy="593.1" r="14.6"/><circle cx="1227.9" cy="572.9" r="14.6"/><circle cx="1224.8" cy="616.4" r="14.6"/><circle cx="1206.8" cy="650.6" r="14.6"/><circle cx="829.4" cy="618.6" r="14.6"/><circle cx="829.4" cy="635.0" r="14.6"/><circle cx="857.4" cy="633.5" r="14.6"/><circle cx="713.9" cy="669.2" r="14.6"/><circle cx="691.2" cy="690.3" r="14.6"/><circle cx="969.2" cy="647.5" r="14.6"/><circle cx="994.0" cy="647.5" r="14.6"/><circle cx="1415.2" cy="496.7" r="14.6"/><circle cx="1422.8" cy="591.8" r="14.6"/><circle cx="1230.7" cy="589.5" r="14.6"/><circle cx="1266.0" cy="604.0" r="14.6"/><circle cx="1256.7" cy="627.3" r="14.6"/><circle cx="1200.0" cy="623.0" r="14.6"/><circle cx="1207.0" cy="651.0" r="14.6"/><circle cx="1243.3" cy="663.6" r="14.6"/><circle cx="1255.9" cy="672.0" r="14.6"/><circle cx="1286.6" cy="674.8" r="14.6"/><circle cx="1300.0" cy="670.6" r="14.6"/><circle cx="1371.3" cy="669.2" r="14.6"/><circle cx="1450.4" cy="655.8" r="14.6"/><circle cx="1316.8" cy="694.3" r="14.6"/><circle cx="1356.5" cy="695.7" r="14.6"/><circle cx="1370.5" cy="695.7" r="14.6"/><circle cx="1429.2" cy="706.9" r="14.6"/><circle cx="1504.6" cy="692.1" r="14.6"/><circle cx="1536.0" cy="718.6" r="14.6"/><circle cx="1487.9" cy="727.0" r="14.6"/><circle cx="1532.6" cy="753.0" r="14.6"/><circle cx="1537.4" cy="770.6" r="14.6"/><circle cx="1552.7" cy="797.7" r="14.6"/><circle cx="1634.6" cy="799.7" r="14.6"/><circle cx="1633.2" cy="810.9" r="14.6"/><circle cx="1644.4" cy="883.0" r="14.6"/><circle cx="1640.2" cy="920.7" r="14.6"/><circle cx="1642.4" cy="957.0" r="14.6"/><circle cx="1641.9" cy="958.2" r="14.6"/><circle cx="1666.8" cy="999.6" r="14.6"/><circle cx="1671.7" cy="1006.2" r="14.6"/><circle cx="1648.5" cy="1052.6" r="14.6"/><circle cx="1668.4" cy="1072.5" r="14.6"/><circle cx="1678.4" cy="1099.0" r="14.6"/><circle cx="1645.2" cy="1095.7" r="14.6"/><circle cx="1665.1" cy="1133.8" r="14.6"/><circle cx="1675.0" cy="1160.3" r="14.6"/><circle cx="1637.0" cy="1128.8" r="14.6"/><circle cx="1719.8" cy="1140.4" r="14.6"/><circle cx="1711.5" cy="1152.0" r="14.6"/><circle cx="1650.2" cy="1178.5" r="14.6"/><circle cx="1661.8" cy="1188.4" r="14.6"/><circle cx="1658.5" cy="1205.0" r="14.6"/><circle cx="1681.7" cy="1224.9" r="14.6"/><circle cx="1675.0" cy="1244.7" r="14.6"/><circle cx="1635.3" cy="1266.3" r="14.6"/><circle cx="1605.5" cy="1282.8" r="14.6"/><circle cx="1597.2" cy="1307.7" r="14.6"/><circle cx="1627.0" cy="1304.4" r="14.6"/><circle cx="1637.0" cy="1304.4" r="14.6"/><circle cx="1697.6" cy="1289.5" r="14.6"/><circle cx="1625.4" cy="1345.8" r="14.6"/><circle cx="1672.4" cy="1363.3" r="14.6"/><circle cx="1595.6" cy="1355.7" r="14.6"/><circle cx="1603.8" cy="1405.4" r="14.6"/><circle cx="1642.9" cy="1413.7" r="14.6"/><circle cx="1581.3" cy="1426.3" r="14.6"/><circle cx="1601.5" cy="1440.2" r="14.6"/><circle cx="1657.5" cy="1445.8" r="14.6"/><circle cx="1649.2" cy="1474.0" r="14.6"/><circle cx="1539.2" cy="1445.1" r="14.6"/><circle cx="1556.8" cy="1482.2" r="14.6"/><circle cx="1564.8" cy="1499.8" r="14.6"/><circle cx="1632.0" cy="1497.5" r="14.6"/><circle cx="1643.6" cy="1507.1" r="14.6"/><circle cx="1466.4" cy="1489.8" r="14.6"/><circle cx="1439.2" cy="1509.7" r="14.6"/><circle cx="1446.5" cy="1536.2" r="14.6"/><circle cx="1439.2" cy="1556.1" r="14.6"/><circle cx="1489.6" cy="1523.0" r="14.6"/><circle cx="1506.1" cy="1536.2" r="14.6"/><circle cx="1525.3" cy="1536.2" r="14.6"/><circle cx="1490.6" cy="1558.8" r="14.6"/><circle cx="1600.0" cy="1200.0" r="14.6"/><circle cx="1610.0" cy="1240.0" r="14.6"/><circle cx="1580.0" cy="1390.0" r="14.6"/><circle cx="1540.0" cy="1420.0" r="14.6"/><circle cx="1500.0" cy="1430.0" r="14.6"/><circle cx="1538.5" cy="1446.6" r="14.6"/><circle cx="1601.4" cy="1443.3" r="14.6"/><circle cx="1657.8" cy="1448.3" r="14.6"/><circle cx="1649.5" cy="1474.1" r="14.6"/><circle cx="1556.1" cy="1483.1" r="14.6"/><circle cx="1565.0" cy="1499.6" r="14.6"/><circle cx="1555.1" cy="1501.3" r="14.6"/><circle cx="1632.9" cy="1499.6" r="14.6"/><circle cx="1642.8" cy="1507.9" r="14.6"/><circle cx="1467.3" cy="1489.7" r="14.6"/><circle cx="1490.5" cy="1466.5" r="14.6"/><circle cx="1507.0" cy="1454.9" r="14.6"/><circle cx="1439.1" cy="1511.2" r="14.6"/><circle cx="1424.2" cy="1526.1" r="14.6"/><circle cx="1445.8" cy="1537.7" r="14.6"/><circle cx="1439.1" cy="1555.9" r="14.6"/><circle cx="1490.5" cy="1521.2" r="14.6"/><circle cx="1503.7" cy="1531.1" r="14.6"/><circle cx="1525.3" cy="1537.7" r="14.6"/><circle cx="1490.5" cy="1559.2" r="14.6"/><circle cx="1447.4" cy="1580.8" r="14.6"/><circle cx="1475.6" cy="1595.7" r="14.6"/><circle cx="1517.0" cy="1592.4" r="14.6"/><circle cx="1512.0" cy="1602.3" r="14.6"/><circle cx="1445.8" cy="1608.9" r="14.6"/><circle cx="1417.6" cy="1581.8" r="14.6"/><circle cx="1407.0" cy="1621.5" r="14.6"/><circle cx="1430.9" cy="1638.7" r="14.6"/><circle cx="1425.9" cy="1657.0" r="14.6"/><circle cx="1445.8" cy="1673.5" r="14.6"/><circle cx="1497.1" cy="1628.8" r="14.6"/><circle cx="1497.1" cy="1638.7" r="14.6"/><circle cx="1574.9" cy="1627.1" r="14.6"/><circle cx="1541.8" cy="1699.0" r="14.6"/><circle cx="1485.5" cy="1769.6" r="14.6"/><circle cx="1396.1" cy="1654.6" r="14.6"/><circle cx="1392.8" cy="1678.5" r="14.6"/><circle cx="1381.2" cy="1695.0" r="14.6"/><circle cx="1396.1" cy="1708.3" r="14.6"/><circle cx="1386.1" cy="1737.4" r="14.6"/><circle cx="1404.4" cy="1751.4" r="14.6"/><circle cx="1354.0" cy="1777.2" r="14.6"/><circle cx="1269.2" cy="1744.7" r="14.6"/><circle cx="1257.0" cy="1770.2" r="14.6"/><circle cx="1369.6" cy="1640.4" r="14.6"/><circle cx="1367.9" cy="1628.8" r="14.6"/><circle cx="1358.0" cy="1612.2" r="14.6"/><circle cx="1358.0" cy="1599.0" r="14.6"/><circle cx="1331.5" cy="1595.7" r="14.6"/><circle cx="1317.6" cy="1574.1" r="14.6"/><circle cx="1290.1" cy="1565.9" r="14.6"/><circle cx="1311.6" cy="1612.2" r="14.6"/><circle cx="1309.0" cy="1632.1" r="14.6"/><circle cx="1274.5" cy="1615.6" r="14.6"/><circle cx="1264.6" cy="1600.0" r="14.6"/><circle cx="1257.0" cy="1575.8" r="14.6"/><circle cx="1252.0" cy="1552.6" r="14.6"/><circle cx="1377.9" cy="1559.2" r="14.6"/><circle cx="1377.9" cy="1537.7" r="14.6"/><circle cx="1364.6" cy="1529.4" r="14.6"/><circle cx="1377.9" cy="1506.2" r="14.6"/><circle cx="1329.8" cy="1517.8" r="14.6"/><circle cx="1296.7" cy="1527.8" r="14.6"/><circle cx="1278.5" cy="1519.5" r="14.6"/><circle cx="1250.3" cy="1514.5" r="14.6"/><circle cx="1220.5" cy="1511.2" r="14.6"/><circle cx="1185.7" cy="1499.6" r="14.6"/><circle cx="1218.9" cy="1541.0" r="14.6"/><circle cx="1195.0" cy="1545.3" r="14.6"/><circle cx="1205.6" cy="1574.1" r="14.6"/><circle cx="1227.1" cy="1585.7" r="14.6"/><circle cx="1190.7" cy="1585.1" r="14.6"/><circle cx="1212.2" cy="1605.6" r="14.6"/><circle cx="1220.5" cy="1640.4" r="14.6"/><circle cx="1144.3" cy="1582.4" r="14.6"/><circle cx="1147.7" cy="1595.7" r="14.6"/><circle cx="1126.1" cy="1613.9" r="14.6"/><circle cx="1136.1" cy="1618.9" r="14.6"/><circle cx="1099.6" cy="1585.7" r="14.6"/><circle cx="1102.9" cy="1567.5" r="14.6"/><circle cx="1078.1" cy="1565.9" r="14.6"/><circle cx="1046.6" cy="1572.5" r="14.6"/><circle cx="1040.0" cy="1610.6" r="14.6"/><circle cx="1069.8" cy="1631.5" r="14.6"/><circle cx="1077.4" cy="1656.3" r="14.6"/><circle cx="1089.7" cy="1681.8" r="14.6"/><circle cx="1101.3" cy="1687.8" r="14.6"/><circle cx="1093.0" cy="1698.4" r="14.6"/><circle cx="1126.1" cy="1534.4" r="14.6"/><circle cx="1094.7" cy="1532.7" r="14.6"/><circle cx="1142.7" cy="1517.8" r="14.6"/><circle cx="1147.7" cy="1479.7" r="14.6"/><circle cx="1127.8" cy="1799.4" r="14.6"/><circle cx="1300.0" cy="1480.0" r="14.6"/><circle cx="1340.0" cy="1490.0" r="14.6"/><circle cx="1380.0" cy="1490.0" r="14.6"/><circle cx="1240.0" cy="1490.0" r="14.6"/><circle cx="1200.0" cy="1480.0" r="14.6"/><circle cx="1160.0" cy="1500.0" r="14.6"/><circle cx="665.7" cy="1607.8" r="14.6"/><circle cx="665.7" cy="1624.1" r="14.6"/><circle cx="691.5" cy="1625.2" r="14.6"/><circle cx="691.5" cy="1708.5" r="14.6"/><circle cx="713.9" cy="1620.9" r="14.6"/><circle cx="733.5" cy="1573.0" r="14.6"/><circle cx="750.9" cy="1560.0" r="14.6"/><circle cx="750.9" cy="1610.0" r="14.6"/><circle cx="750.9" cy="1647.0" r="14.6"/><circle cx="733.5" cy="1705.7" r="14.6"/><circle cx="750.9" cy="1710.0" r="14.6"/><circle cx="766.7" cy="1590.4" r="14.6"/><circle cx="766.7" cy="1605.7" r="14.6"/><circle cx="766.7" cy="1639.3" r="14.6"/><circle cx="781.3" cy="1543.7" r="14.6"/><circle cx="794.8" cy="1711.1" r="14.6"/><circle cx="807.0" cy="1557.8" r="14.6"/><circle cx="807.0" cy="1570.9" r="14.6"/><circle cx="807.0" cy="1590.4" r="14.6"/><circle cx="807.0" cy="1672.0" r="14.6"/><circle cx="818.3" cy="1597.0" r="14.6"/><circle cx="818.3" cy="1636.5" r="14.6"/><circle cx="829.1" cy="1592.6" r="14.6"/><circle cx="839.6" cy="1541.5" r="14.6"/><circle cx="839.6" cy="1515.4" r="14.6"/><circle cx="848.7" cy="1590.4" r="14.6"/><circle cx="848.7" cy="1682.8" r="14.6"/><circle cx="866.1" cy="1577.4" r="14.6"/><circle cx="873.7" cy="1595.9" r="14.6"/><circle cx="874.3" cy="1522.0" r="14.6"/><circle cx="888.9" cy="1522.0" r="14.6"/><circle cx="903.0" cy="1542.6" r="14.6"/><circle cx="903.0" cy="1529.6" r="14.6"/><circle cx="882.4" cy="1667.6" r="14.6"/><circle cx="904.1" cy="1636.5" r="14.6"/><circle cx="916.1" cy="1607.8" r="14.6"/><circle cx="922.6" cy="1616.5" r="14.6"/><circle cx="940.0" cy="1583.9" r="14.6"/><circle cx="944.3" cy="1570.9" r="14.6"/><circle cx="949.8" cy="1600.2" r="14.6"/><circle cx="954.6" cy="1636.5" r="14.6"/><circle cx="933.5" cy="1511.1" r="14.6"/><circle cx="909.6" cy="1485.0" r="14.6"/><circle cx="981.3" cy="1653.5" r="14.6"/><circle cx="993.3" cy="1643.7" r="14.6"/><circle cx="1018.9" cy="1655.2" r="14.6"/><circle cx="1035.0" cy="1611.1" r="14.6"/><circle cx="990.0" cy="1588.3" r="14.6"/><circle cx="1024.8" cy="1577.4" r="14.6"/><circle cx="1046.5" cy="1570.9" r="14.6"/><circle cx="1015.4" cy="1739.3" r="14.6"/><circle cx="985.7" cy="1776.3" r="14.6"/><circle cx="1012.2" cy="1852.4" r="14.6"/><circle cx="665.7" cy="1775.2" r="14.6"/><circle cx="857.4" cy="1462.2" r="14.6"/><circle cx="700.0" cy="1545.0" r="14.6"/><circle cx="740.0" cy="1548.0" r="14.6"/><circle cx="790.0" cy="1545.0" r="14.6"/><circle cx="830.0" cy="1540.0" r="14.6"/><circle cx="960.0" cy="1540.0" r="14.6"/><circle cx="1000.0" cy="1545.0" r="14.6"/><circle cx="1020.0" cy="1550.0" r="14.6"/><circle cx="732.5" cy="1708.3" r="14.6"/><circle cx="750.7" cy="1711.6" r="14.6"/><circle cx="1129.3" cy="1808.6" r="14.6"/><circle cx="1090.9" cy="1849.1" r="14.6"/><circle cx="1164.8" cy="1945.4" r="14.6"/><circle cx="1012.0" cy="2051.8" r="14.6"/><circle cx="1093.5" cy="1701.7" r="14.6"/><circle cx="1381.1" cy="1696.2" r="14.6"/><circle cx="1396.0" cy="1707.9" r="14.6"/><circle cx="1542.1" cy="1699.2" r="14.6"/><circle cx="1500.9" cy="1821.7" r="14.6"/><circle cx="1500.9" cy="1856.5" r="14.6"/><circle cx="1268.1" cy="1903.2" r="14.6"/><circle cx="1149.7" cy="1478.0" r="14.6"/><circle cx="1186.1" cy="1502.0" r="14.6"/><circle cx="1126.5" cy="1535.2" r="14.6"/><circle cx="1142.2" cy="1517.8" r="14.6"/><circle cx="1105.0" cy="1529.4" r="14.6"/><circle cx="1194.4" cy="1545.1" r="14.6"/><circle cx="1219.3" cy="1541.8" r="14.6"/><circle cx="1209.3" cy="1524.4" r="14.6"/><circle cx="1220.9" cy="1511.2" r="14.6"/><circle cx="1250.7" cy="1516.1" r="14.6"/><circle cx="1252.4" cy="1542.6" r="14.6"/><circle cx="1254.0" cy="1552.6" r="14.6"/><circle cx="1257.4" cy="1575.8" r="14.6"/><circle cx="1264.0" cy="1599.8" r="14.6"/><circle cx="1274.7" cy="1615.5" r="14.6"/><circle cx="1277.2" cy="1522.8" r="14.6"/><circle cx="1297.1" cy="1527.7" r="14.6"/><circle cx="1330.2" cy="1517.8" r="14.6"/><circle cx="1381.6" cy="1506.2" r="14.6"/><circle cx="1363.4" cy="1529.4" r="14.6"/><circle cx="1376.6" cy="1539.3" r="14.6"/><circle cx="1378.3" cy="1559.2" r="14.6"/><circle cx="1409.7" cy="1484.7" r="14.6"/><circle cx="1419.7" cy="1527.7" r="14.6"/><circle cx="1411.4" cy="1582.4" r="14.6"/><circle cx="1406.4" cy="1620.5" r="14.6"/><circle cx="1290.5" cy="1565.8" r="14.6"/><circle cx="1317.0" cy="1574.1" r="14.6"/><circle cx="1331.9" cy="1595.6" r="14.6"/><circle cx="1356.7" cy="1598.9" r="14.6"/><circle cx="1357.5" cy="1612.2" r="14.6"/><circle cx="1368.3" cy="1627.1" r="14.6"/><circle cx="1311.2" cy="1611.4" r="14.6"/><circle cx="1308.7" cy="1630.4" r="14.6"/><circle cx="1219.3" cy="1635.4" r="14.6"/><circle cx="1212.6" cy="1605.6" r="14.6"/><circle cx="1191.9" cy="1584.9" r="14.6"/><circle cx="1206.0" cy="1572.4" r="14.6"/><circle cx="1227.5" cy="1586.5" r="14.6"/><circle cx="1144.7" cy="1582.4" r="14.6"/><circle cx="1149.7" cy="1595.6" r="14.6"/><circle cx="1124.8" cy="1613.9" r="14.6"/><circle cx="1138.1" cy="1618.8" r="14.6"/><circle cx="1103.3" cy="1567.5" r="14.6"/><circle cx="1100.0" cy="1587.3" r="14.6"/><circle cx="858.2" cy="1459.5" r="14.6"/><circle cx="883.8" cy="1447.7" r="14.6"/><circle cx="903.5" cy="1432.0" r="14.6"/><circle cx="909.4" cy="1485.1" r="14.6"/><circle cx="935.0" cy="1475.3" r="14.6"/><circle cx="840.5" cy="1495.0" r="14.6"/><circle cx="838.5" cy="1514.6" r="14.6"/><circle cx="807.0" cy="1530.4" r="14.6"/><circle cx="838.5" cy="1542.2" r="14.6"/><circle cx="781.4" cy="1544.2" r="14.6"/><circle cx="807.0" cy="1558.0" r="14.6"/><circle cx="874.0" cy="1520.6" r="14.6"/><circle cx="889.7" cy="1518.6" r="14.6"/><circle cx="903.5" cy="1542.2" r="14.6"/><circle cx="935.0" cy="1510.7" r="14.6"/><circle cx="944.8" cy="1524.5" r="14.6"/><circle cx="872.0" cy="1412.3" r="14.6"/><circle cx="891.7" cy="1416.2" r="14.6"/><circle cx="862.1" cy="1386.7" r="14.6"/><circle cx="787.3" cy="695.2" r="14.6"/><circle cx="791.5" cy="666.2" r="14.6"/><circle cx="798.5" cy="663.4" r="14.6"/><circle cx="821.3" cy="661.1" r="14.6"/><circle cx="853.1" cy="653.1" r="14.6"/><circle cx="866.1" cy="633.8" r="14.6"/><circle cx="872.0" cy="621.9" r="14.6"/><circle cx="890.0" cy="623.4" r="14.6"/><circle cx="909.6" cy="625.5" r="14.6"/><circle cx="935.7" cy="648.1" r="14.6"/><circle cx="968.3" cy="654.9" r="14.6"/><circle cx="978.1" cy="647.4" r="14.6"/><circle cx="1003.1" cy="656.9" r="14.6"/><circle cx="1018.6" cy="676.1" r="14.6"/><circle cx="1056.5" cy="673.0" r="14.6"/><circle cx="1061.0" cy="671.7" r="14.6"/><circle cx="1093.7" cy="677.8" r="14.6"/><circle cx="1116.1" cy="674.6" r="14.6"/><circle cx="1142.3" cy="663.5" r="14.6"/><circle cx="1168.1" cy="659.6" r="14.6"/><circle cx="1196.2" cy="657.4" r="14.6"/><circle cx="1211.6" cy="664.7" r="14.6"/><circle cx="1232.1" cy="683.3" r="14.6"/><circle cx="1252.0" cy="694.4" r="14.6"/><circle cx="1275.6" cy="700.9" r="14.6"/><circle cx="1289.2" cy="704.6" r="14.6"/><circle cx="1327.4" cy="711.0" r="14.6"/><circle cx="1343.7" cy="704.4" r="14.6"/><circle cx="1363.5" cy="714.5" r="14.6"/><circle cx="1398.3" cy="718.6" r="14.6"/><circle cx="1415.2" cy="724.2" r="14.6"/><circle cx="1425.5" cy="728.1" r="14.6"/><circle cx="1452.5" cy="739.4" r="14.6"/><circle cx="1478.4" cy="755.4" r="14.6"/><circle cx="1501.2" cy="764.9" r="14.6"/><circle cx="1527.8" cy="776.2" r="14.6"/><circle cx="1538.5" cy="790.2" r="14.6"/><circle cx="1552.1" cy="812.0" r="14.6"/><circle cx="1562.8" cy="823.5" r="14.6"/><circle cx="1584.9" cy="832.6" r="14.6"/><circle cx="1602.4" cy="841.1" r="14.6"/><circle cx="1610.7" cy="861.1" r="14.6"/><circle cx="1623.4" cy="901.2" r="14.6"/><circle cx="1629.7" cy="918.7" r="14.6"/><circle cx="1633.6" cy="936.9" r="14.6"/><circle cx="1636.6" cy="958.2" r="14.6"/><circle cx="1636.8" cy="959.4" r="14.6"/><circle cx="1633.1" cy="983.9" r="14.6"/><circle cx="1622.0" cy="1007.8" r="14.6"/><circle cx="1618.7" cy="1026.5" r="14.6"/><circle cx="1621.1" cy="1045.7" r="14.6"/><circle cx="1620.5" cy="1073.1" r="14.6"/><circle cx="1616.5" cy="1090.7" r="14.6"/><circle cx="1612.6" cy="1116.2" r="14.6"/><circle cx="1613.4" cy="1130.2" r="14.6"/><circle cx="1612.3" cy="1158.9" r="14.6"/><circle cx="1599.3" cy="1167.1" r="14.6"/><circle cx="1580.2" cy="1202.1" r="14.6"/><circle cx="1589.0" cy="1213.7" r="14.6"/><circle cx="1587.5" cy="1233.7" r="14.6"/><circle cx="1575.7" cy="1249.3" r="14.6"/><circle cx="1563.5" cy="1270.0" r="14.6"/><circle cx="1556.3" cy="1291.9" r="14.6"/><circle cx="1555.2" cy="1318.4" r="14.6"/><circle cx="1574.9" cy="1333.9" r="14.6"/><circle cx="1569.5" cy="1332.7" r="14.6"/><circle cx="1565.4" cy="1361.6" r="14.6"/><circle cx="1556.3" cy="1375.3" r="14.6"/><circle cx="1552.3" cy="1400.5" r="14.6"/><circle cx="1542.3" cy="1400.8" r="14.6"/><circle cx="1525.2" cy="1412.7" r="14.6"/><circle cx="1508.6" cy="1419.8" r="14.6"/><circle cx="1487.1" cy="1437.5" r="14.6"/><circle cx="1475.8" cy="1442.4" r="14.6"/><circle cx="1456.9" cy="1455.8" r="14.6"/><circle cx="1426.5" cy="1464.2" r="14.6"/><circle cx="1379.5" cy="1478.5" r="14.6"/><circle cx="1363.6" cy="1481.6" r="14.6"/><circle cx="1313.6" cy="1479.0" r="14.6"/><circle cx="1298.2" cy="1483.5" r="14.6"/><circle cx="1292.4" cy="1474.0" r="14.6"/><circle cx="1243.1" cy="1479.7" r="14.6"/><circle cx="1224.9" cy="1470.9" r="14.6"/><circle cx="1194.2" cy="1463.5" r="14.6"/><circle cx="1180.3" cy="1469.1" r="14.6"/><circle cx="1149.3" cy="1483.6" r="14.6"/><circle cx="1111.9" cy="1510.6" r="14.6"/><circle cx="1082.9" cy="1524.6" r="14.6"/><circle cx="1059.8" cy="1526.4" r="14.6"/><circle cx="1034.3" cy="1524.8" r="14.6"/><circle cx="1016.8" cy="1531.6" r="14.6"/><circle cx="994.3" cy="1539.0" r="14.6"/><circle cx="982.8" cy="1537.7" r="14.6"/><circle cx="960.3" cy="1531.8" r="14.6"/><circle cx="940.3" cy="1507.8" r="14.6"/><circle cx="932.8" cy="1501.8" r="14.6"/><circle cx="929.9" cy="1479.2" r="14.6"/><circle cx="926.8" cy="1457.5" r="14.6"/><circle cx="921.3" cy="1429.6" r="14.6"/><circle cx="920.1" cy="1411.0" r="14.6"/><circle cx="891.7" cy="1393.1" r="14.6"/><circle cx="859.8" cy="1403.9" r="14.6"/><circle cx="852.2" cy="1425.4" r="14.6"/><circle cx="837.8" cy="1452.6" r="14.6"/><circle cx="835.8" cy="1480.5" r="14.6"/><circle cx="818.4" cy="1506.1" r="14.6"/><circle cx="813.5" cy="1513.0" r="14.6"/><circle cx="797.6" cy="1514.0" r="14.6"/><circle cx="785.1" cy="1517.3" r="14.6"/><circle cx="781.5" cy="1498.5" r="14.6"/><circle cx="782.0" cy="1483.6" r="14.6"/><circle cx="780.8" cy="1461.5" r="14.6"/><circle cx="783.7" cy="1439.3" r="14.6"/><circle cx="780.9" cy="1424.4" r="14.6"/><circle cx="786.6" cy="1402.8" r="14.6"/><circle cx="782.0" cy="1384.0" r="14.6"/><circle cx="781.2" cy="1363.2" r="14.6"/><circle cx="784.7" cy="1343.5" r="14.6"/><circle cx="784.2" cy="1329.4" r="14.6"/><circle cx="782.1" cy="1306.8" r="14.6"/><circle cx="783.4" cy="1285.4" r="14.6"/><circle cx="786.7" cy="1265.6" r="14.6"/><circle cx="785.2" cy="1254.0" r="14.6"/><circle cx="786.1" cy="1232.6" r="14.6"/><circle cx="783.7" cy="1211.1" r="14.6"/><circle cx="780.5" cy="1188.4" r="14.6"/><circle cx="782.7" cy="1172.4" r="14.6"/><circle cx="786.1" cy="1158.1" r="14.6"/><circle cx="787.2" cy="1133.7" r="14.6"/><circle cx="782.7" cy="1114.1" r="14.6"/><circle cx="781.0" cy="1091.0" r="14.6"/><circle cx="785.9" cy="1080.7" r="14.6"/><circle cx="782.9" cy="1058.3" r="14.6"/><circle cx="782.7" cy="1034.2" r="14.6"/><circle cx="785.2" cy="1014.7" r="14.6"/><circle cx="780.5" cy="1000.8" r="14.6"/><circle cx="787.8" cy="982.3" r="14.6"/><circle cx="781.3" cy="961.5" r="14.6"/><circle cx="787.3" cy="943.2" r="14.6"/><circle cx="786.3" cy="925.2" r="14.6"/><circle cx="787.7" cy="906.2" r="14.6"/><circle cx="780.4" cy="883.1" r="14.6"/><circle cx="782.9" cy="859.9" r="14.6"/><circle cx="784.2" cy="842.5" r="14.6"/><circle cx="780.9" cy="829.4" r="14.6"/><circle cx="781.3" cy="809.5" r="14.6"/><circle cx="780.4" cy="791.2" r="14.6"/><circle cx="780.8" cy="763.2" r="14.6"/><circle cx="781.0" cy="748.2" r="14.6"/><circle cx="786.2" cy="731.7" r="14.6"/><circle cx="783.8" cy="705.4" r="14.6"/></clipPath></defs>
<rect width="2400" height="2400" fill="#fff"/>
<filter id="hb" x="-2%" y="0" width="104%" height="100%" color-interpolation-filters="sRGB"><feGaussianBlur stdDeviation="3 0"/></filter>
<g clip-path="url(#sc)"><g filter="url(#hb)"><rect x="959.35" y="288" width="6.60" height="1848" fill="url(#g40)"/>
<rect x="965.35" y="288" width="6.60" height="1848" fill="url(#g41)"/>
<rect x="971.35" y="288" width="6.60" height="1848" fill="url(#g42)"/>
<rect x="977.35" y="288" width="6.60" height="1848" fill="url(#g43)"/>
<rect x="983.35" y="288" width="6.60" height="1848" fill="url(#g44)"/>
<rect x="989.35" y="288" width="6.60" height="1848" fill="url(#g45)"/>
<rect x="995.35" y="288" width="6.60" height="1848" fill="url(#g46)"/>
<rect x="1001.35" y="288" width="6.60" height="1848" fill="url(#g47)"/>
<rect x="1007.35" y="288" width="6.60" height="1848" fill="url(#g48)"/>
<rect x="1013.35" y="288" width="6.60" height="1848" fill="url(#g49)"/>
<rect x="1019.35" y="288" width="6.60" height="1848" fill="url(#g50)"/>
<rect x="1025.35" y="288" width="6.60" height="1848" fill="url(#g51)"/>
<rect x="1031.35" y="288" width="6.60" height="1848" fill="url(#g52)"/>
<rect x="1037.35" y="288" width="6.60" height="1848" fill="url(#g53)"/>
<rect x="1043.35" y="288" width="6.60" height="1848" fill="url(#g54)"/>
<rect x="1049.35" y="288" width="6.60" height="1848" fill="url(#g55)"/>
<rect x="1055.35" y="288" width="6.60" height="1848" fill="url(#g56)"/>
<rect x="1061.35" y="288" width="6.60" height="1848" fill="url(#g57)"/>
<rect x="1067.35" y="288" width="6.60" height="1848" fill="url(#g58)"/>
<rect x="1073.35" y="288" width="6.60" height="1848" fill="url(#g59)"/>
<rect x="1079.35" y="288" width="6.60" height="1848" fill="url(#g60)"/>
<rect x="1085.35" y="288" width="6.60" height="1848" fill="url(#g61)"/>
<rect x="1091.35" y="288" width="6.60" height="1848" fill="url(#g62)"/>
<rect x="1097.35" y="288" width="6.60" height="1848" fill="url(#g63)"/>
<rect x="1103.35" y="288" width="6.60" height="1848" fill="url(#g64)"/>
<rect x="1109.35" y="288" width="6.60" height="1848" fill="url(#g65)"/>
<rect x="1115.35" y="288" width="6.60" height="1848" fill="url(#g66)"/>
<rect x="1121.35" y="288" width="6.60" height="1848" fill="url(#g67)"/>
<rect x="1127.35" y="288" width="6.60" height="1848" fill="url(#g68)"/>
<rect x="1133.35" y="288" width="6.60" height="1848" fill="url(#g69)"/>
<rect x="1139.35" y="288" width="6.60" height="1848" fill="url(#g70)"/>
<rect x="1145.35" y="288" width="6.60" height="1848" fill="url(#g71)"/>
<rect x="1151.35" y="288" width="6.60" height="1848" fill="url(#g72)"/>
<rect x="1157.35" y="288" width="6.60" height="1848" fill="url(#g73)"/>
<rect x="1163.35" y="288" width="6.60" height="1848" fill="url(#g74)"/>
<rect x="1169.35" y="288" width="6.60" height="1848" fill="url(#g75)"/>
<rect x="1175.35" y="288" width="6.60" height="1848" fill="url(#g76)"/>
<rect x="1181.35" y="288" width="6.60" height="1848" fill="url(#g77)"/>
<rect x="1187.35" y="288" width="6.60" height="1848" fill="url(#g78)"/>
<rect x="1193.35" y="288" width="6.60" height="1848" fill="url(#g79)"/>
<rect x="1199.35" y="288" width="6.60" height="1848" fill="url(#g80)"/>
<rect x="1205.35" y="288" width="6.60" height="1848" fill="url(#g81)"/>
<rect x="1211.35" y="288" width="6.60" height="1848" fill="url(#g82)"/>
<rect x="1217.35" y="288" width="6.60" height="1848" fill="url(#g83)"/>
<rect x="1223.35" y="288" width="6.60" height="1848" fill="url(#g84)"/>
<rect x="1229.35" y="288" width="6.60" height="1848" fill="url(#g85)"/>
<rect x="1235.35" y="288" width="6.60" height="1848" fill="url(#g86)"/>
<rect x="1241.35" y="288" width="6.60" height="1848" fill="url(#g87)"/>
<rect x="1247.35" y="288" width="6.60" height="1848" fill="url(#g88)"/>
<rect x="1253.35" y="288" width="6.60" height="1848" fill="url(#g89)"/>
<rect x="1259.35" y="288" width="6.60" height="1848" fill="url(#g90)"/>
<rect x="1265.35" y="288" width="6.60" height="1848" fill="url(#g91)"/>
<rect x="1271.35" y="288" width="6.60" height="1848" fill="url(#g92)"/>
<rect x="1277.35" y="288" width="6.60" height="1848" fill="url(#g93)"/>
<rect x="1283.35" y="288" width="6.60" height="1848" fill="url(#g94)"/>
<rect x="1289.35" y="288" width="6.60" height="1848" fill="url(#g95)"/>
<rect x="1295.35" y="288" width="6.60" height="1848" fill="url(#g96)"/>
<rect x="1301.35" y="288" width="6.60" height="1848" fill="url(#g97)"/>
<rect x="1307.35" y="288" width="6.60" height="1848" fill="url(#g98)"/>
<rect x="1313.35" y="288" width="6.60" height="1848" fill="url(#g99)"/>
<rect x="1319.35" y="288" width="6.60" height="1848" fill="url(#g100)"/>
<rect x="1325.35" y="288" width="6.60" height="1848" fill="url(#g101)"/>
<rect x="1331.35" y="288" width="6.60" height="1848" fill="url(#g102)"/>
<rect x="1337.35" y="288" width="6.60" height="1848" fill="url(#g103)"/>
<rect x="1343.35" y="288" width="6.60" height="1848" fill="url(#g104)"/>
<rect x="1349.35" y="288" width="6.60" height="1848" fill="url(#g105)"/>
<rect x="1355.35" y="288" width="6.60" height="1848" fill="url(#g106)"/>
<rect x="1361.35" y="288" width="6.60" height="1848" fill="url(#g107)"/>
<rect x="1367.35" y="288" width="6.60" height="1848" fill="url(#g108)"/>
<rect x="1373.35" y="288" width="6.60" height="1848" fill="url(#g109)"/>
<rect x="1379.35" y="288" width="6.60" height="1848" fill="url(#g110)"/>
<rect x="1385.35" y="288" width="6.60" height="1848" fill="url(#g111)"/>
<rect x="1391.35" y="288" width="6.60" height="1848" fill="url(#g112)"/>
<rect x="1397.35" y="288" width="6.60" height="1848" fill="url(#g113)"/>
<rect x="1403.35" y="288" width="6.60" height="1848" fill="url(#g114)"/>
<rect x="1409.35" y="288" width="6.60" height="1848" fill="url(#g115)"/>
<rect x="1415.35" y="288" width="6.60" height="1848" fill="url(#g116)"/>
<rect x="1421.35" y="288" width="6.60" height="1848" fill="url(#g117)"/>
<rect x="1427.35" y="288" width="6.60" height="1848" fill="url(#g118)"/>
<rect x="1433.35" y="288" width="6.60" height="1848" fill="url(#g119)"/>
<rect x="1439.35" y="288" width="6.60" height="1848" fill="url(#g120)"/>
<rect x="1445.35" y="288" width="6.60" height="1848" fill="url(#g121)"/>
<rect x="1451.35" y="288" width="6.60" height="1848" fill="url(#g122)"/>
<rect x="1457.35" y="288" width="6.60" height="1848" fill="url(#g123)"/>
<rect x="1463.35" y="288" width="6.60" height="1848" fill="url(#g124)"/>
<rect x="1469.35" y="288" width="6.60" height="1848" fill="url(#g125)"/>
<rect x="1475.35" y="288" width="6.60" height="1848" fill="url(#g126)"/>
<rect x="1481.35" y="288" width="6.60" height="1848" fill="url(#g127)"/>
<rect x="1487.35" y="288" width="6.60" height="1848" fill="url(#g128)"/>
<rect x="1493.35" y="288" width="6.60" height="1848" fill="url(#g129)"/>
<rect x="1499.35" y="288" width="6.60" height="1848" fill="url(#g130)"/>
<rect x="1505.35" y="288" width="6.60" height="1848" fill="url(#g131)"/>
<rect x="1511.35" y="288" width="6.60" height="1848" fill="url(#g132)"/>
<rect x="1517.35" y="288" width="6.60" height="1848" fill="url(#g133)"/>
<rect x="1523.35" y="288" width="6.60" height="1848" fill="url(#g134)"/>
<rect x="1529.35" y="288" width="6.60" height="1848" fill="url(#g135)"/>
<rect x="1535.35" y="288" width="6.60" height="1848" fill="url(#g136)"/>
<rect x="1541.35" y="288" width="6.60" height="1848" fill="url(#g137)"/>
<rect x="1547.35" y="288" width="6.60" height="1848" fill="url(#g138)"/>
<rect x="1553.35" y="288" width="6.60" height="1848" fill="url(#g139)"/>
<rect x="1559.35" y="288" width="6.60" height="1848" fill="url(#g140)"/>
<rect x="1565.35" y="288" width="6.60" height="1848" fill="url(#g141)"/>
<rect x="1571.35" y="288" width="6.60" height="1848" fill="url(#g142)"/>
<rect x="1577.35" y="288" width="6.60" height="1848" fill="url(#g143)"/>
<rect x="1583.35" y="288" width="6.60" height="1848" fill="url(#g144)"/>
<rect x="1589.35" y="288" width="6.60" height="1848" fill="url(#g145)"/>
<rect x="1595.35" y="288" width="6.60" height="1848" fill="url(#g146)"/>
<rect x="1601.35" y="288" width="6.60" height="1848" fill="url(#g147)"/>
<rect x="1607.35" y="288" width="6.60" height="1848" fill="url(#g148)"/>
<rect x="1613.35" y="288" width="6.60" height="1848" fill="url(#g149)"/>
<rect x="1619.35" y="288" width="6.60" height="1848" fill="url(#g150)"/>
<rect x="1625.35" y="288" width="6.60" height="1848" fill="url(#g151)"/>
<rect x="1631.35" y="288" width="6.60" height="1848" fill="url(#g152)"/>
<rect x="1637.35" y="288" width="6.60" height="1848" fill="url(#g153)"/>
<rect x="1643.35" y="288" width="6.60" height="1848" fill="url(#g154)"/>
<rect x="1649.35" y="288" width="6.60" height="1848" fill="url(#g155)"/>
<rect x="1655.35" y="288" width="6.60" height="1848" fill="url(#g156)"/>
<rect x="1661.35" y="288" width="6.60" height="1848" fill="url(#g157)"/>
<rect x="1667.35" y="288" width="6.60" height="1848" fill="url(#g158)"/>
<rect x="1673.35" y="288" width="6.60" height="1848" fill="url(#g159)"/>
<rect x="1679.35" y="288" width="6.60" height="1848" fill="url(#g160)"/>
<rect x="1685.35" y="288" width="6.60" height="1848" fill="url(#g161)"/>
<rect x="1691.35" y="288" width="6.60" height="1848" fill="url(#g162)"/>
<rect x="1697.35" y="288" width="6.60" height="1848" fill="url(#g163)"/>
<rect x="1703.35" y="288" width="6.60" height="1848" fill="url(#g164)"/>
<rect x="1709.35" y="288" width="6.60" height="1848" fill="url(#g165)"/>
<rect x="1715.35" y="288" width="6.60" height="1848" fill="url(#g166)"/>
<rect x="1721.35" y="288" width="6.60" height="1848" fill="url(#g167)"/>
<rect x="1727.35" y="288" width="6.60" height="1848" fill="url(#g168)"/>
<rect x="1733.35" y="288" width="6.60" height="1848" fill="url(#g169)"/></g><rect x="353.04" y="575" width="116.91" height="1170" fill="url(#g0)"/>
<rect x="468.45" y="695" width="69.01" height="1020" fill="url(#g1)"/>
<rect x="535.96" y="522" width="49.40" height="1243" fill="url(#g2)"/>
<rect x="583.85" y="633" width="38.65" height="1287" fill="url(#g3)"/>
<rect x="621.01" y="688" width="31.86" height="1241" fill="url(#g4)"/>
<rect x="651.36" y="682" width="27.17" height="1110" fill="url(#g5)"/>
<rect x="677.03" y="663" width="23.73" height="1123" fill="url(#g6)"/>
<rect x="699.26" y="652" width="21.11" height="1072" fill="url(#g7)"/>
<rect x="718.87" y="653" width="19.04" height="1072" fill="url(#g8)"/>
<rect x="736.42" y="444" width="17.37" height="1285" fill="url(#g9)"/>
<rect x="752.29" y="433" width="15.99" height="1296" fill="url(#g10)"/>
<rect x="766.77" y="433" width="14.83" height="1284" fill="url(#g11)"/>
<rect x="780.10" y="442" width="13.84" height="1286" fill="url(#g12)"/>
<rect x="792.44" y="511" width="12.99" height="1217" fill="url(#g13)"/>
<rect x="803.93" y="356" width="12.25" height="1369" fill="url(#g14)"/>
<rect x="814.67" y="355" width="11.59" height="1332" fill="url(#g15)"/>
<rect x="824.77" y="356" width="11.02" height="1333" fill="url(#g16)"/>
<rect x="834.28" y="451" width="10.50" height="1248" fill="url(#g17)"/>
<rect x="843.29" y="459" width="10.04" height="1241" fill="url(#g18)"/>
<rect x="851.83" y="438" width="9.62" height="1262" fill="url(#g19)"/>
<rect x="859.95" y="436" width="9.25" height="1259" fill="url(#g20)"/>
<rect x="867.70" y="434" width="8.90" height="1249" fill="url(#g21)"/>
<rect x="875.10" y="425" width="8.59" height="1260" fill="url(#g22)"/>
<rect x="882.18" y="423" width="8.30" height="1262" fill="url(#g23)"/>
<rect x="888.98" y="413" width="8.03" height="1271" fill="url(#g24)"/>
<rect x="895.51" y="410" width="7.78" height="1268" fill="url(#g25)"/>
<rect x="901.79" y="410" width="7.56" height="1244" fill="url(#g26)"/>
<rect x="907.85" y="375" width="7.34" height="1279" fill="url(#g27)"/>
<rect x="913.69" y="366" width="7.14" height="1284" fill="url(#g28)"/>
<rect x="919.34" y="363" width="6.96" height="1271" fill="url(#g29)"/>
<rect x="924.80" y="363" width="6.79" height="1271" fill="url(#g30)"/>
<rect x="930.08" y="363" width="6.62" height="1269" fill="url(#g31)"/>
<rect x="935.20" y="365" width="6.47" height="1277" fill="url(#g32)"/>
<rect x="940.18" y="370" width="6.33" height="1280" fill="url(#g33)"/>
<rect x="945.00" y="483" width="6.19" height="1170" fill="url(#g34)"/>
<rect x="949.69" y="484" width="6.06" height="1170" fill="url(#g35)"/>
<rect x="954.25" y="488" width="5.94" height="1166" fill="url(#g36)"/>
<rect x="958.69" y="494" width="5.82" height="1160" fill="url(#g37)"/>
<rect x="963.02" y="538" width="5.72" height="1124" fill="url(#g38)"/>
<rect x="967.23" y="540" width="5.61" height="1242" fill="url(#g39)"/></g>
<rect x="1734.5" y="309.5" width="32" height="32" rx="8" ry="8" fill="#fff" stroke="#d6d6d6" stroke-width="4.17"/>
<linearGradient id="cbg" x1="0" y1="1" x2="0" y2="0"><stop offset="0.0000" stop-color="#440154"/><stop offset="0.0312" stop-color="#470d60"/><stop offset="0.0625" stop-color="#48186a"/><stop offset="0.0938" stop-color="#482374"/><stop offset="0.1250" stop-color="#472d7b"/><stop offset="0.1562" stop-color="#453781"/><stop offset="0.1875" stop-color="#424086"/><stop offset="0.2188" stop-color="#3e4989"/><stop offset="0.2500" stop-color="#3b528b"/><stop offset="0.2812" stop-color="#375b8d"/><stop offset="0.3125" stop-color="#33638d"/><stop offset="0.3438" stop-color="#2f6b8e"/><stop offset="0.3750" stop-color="#2c728e"/><stop offset="0.4062" stop-color="#297a8e"/><stop offset="0.4375" stop-color="#26828e"/><stop offset="0.4688" stop-color="#23898e"/><stop offset="0.5000" stop-color="#21918c"/><stop offset="0.5312" stop-color="#1f988b"/><stop offset="0.5625" stop-color="#1fa088"/><stop offset="0.5938" stop-color="#22a785"/><stop offset="0.6250" stop-color="#28ae80"/><stop offset="0.6562" stop-color="#32b67a"/><stop offset="0.6875" stop-color="#3fbc73"/><stop offset="0.7188" stop-color="#4ec36b"/><stop offset="0.7500" stop-color="#5ec962"/><stop offset="0.7812" stop-color="#70cf57"/><stop offset="0.8125" stop-color="#84d44b"/><stop offset="0.8438" stop-color="#98d83e"/><stop offset="0.8750" stop-color="#addc30"/><stop offset="0.9062" stop-color="#c2df23"/><stop offset="0.9375" stop-color="#d8e219"/><stop offset="0.9688" stop-color="#ece51b"/><stop offset="1.0000" stop-color="#fde725"/></linearGradient>
<rect x="1881.5" y="288.5" width="92" height="1848" fill="url(#cbg)"/>
<rect x="1881.5" y="288.5" width="92" height="1848" fill="none" stroke="#000" stroke-width="3.333"/>
<rect x="300.5" y="288.5" width="1488" height="1848" fill="none" stroke="#000" stroke-width="3.333"/>
<line x1="368.5" y1="2136.5" x2="368.5" y2="2151.08" stroke="#000" stroke-width="3.333"/>
<line x1="534.5" y1="2136.5" x2="534.5" y2="2151.08" stroke="#000" stroke-width="3.333"/>
<line x1="701.5" y1="2136.5" x2="701.5" y2="2151.08" stroke="#000" stroke-width="3.333"/>
<line x1="867.5" y1="2136.5" x2="867.5" y2="2151.08" stroke="#000" stroke-width="3.333"/>
<line x1="1034.5" y1="2136.5" x2="1034.5" y2="2151.08" stroke="#000" stroke-width="3.333"/>
<line x1="1200.5" y1="2136.5" x2="1200.5" y2="2151.08" stroke="#000" stroke-width="3.333"/>
<line x1="1367.5" y1="2136.5" x2="1367.5" y2="2151.08" stroke="#000" stroke-width="3.333"/>
<line x1="1533.5" y1="2136.5" x2="1533.5" y2="2151.08" stroke="#000" stroke-width="3.333"/>
<line x1="1700.5" y1="2136.5" x2="1700.5" y2="2151.08" stroke="#000" stroke-width="3.333"/>
<line x1="300.5" y1="401.5" x2="285.92" y2="401.5" stroke="#000" stroke-width="3.333"/>
<line x1="300.5" y1="613.5" x2="285.92" y2="613.5" stroke="#000" stroke-width="3.333"/>
<line x1="300.5" y1="825.5" x2="285.92" y2="825.5" stroke="#000" stroke-width="3.333"/>
<line x1="300.5" y1="1037.5" x2="285.92" y2="1037.5" stroke="#000" stroke-width="3.333"/>
<line x1="300.5" y1="1250.5" x2="285.92" y2="1250.5" stroke="#000" stroke-width="3.333"/>
<line x1="300.5" y1="1462.5" x2="285.92" y2="1462.5" stroke="#000" stroke-width="3.333"/>
<line x1="300.5" y1="1674.5" x2="285.92" y2="1674.5" stroke="#000" stroke-width="3.333"/>
<line x1="300.5" y1="1886.5" x2="285.92" y2="1886.5" stroke="#000" stroke-width="3.333"/>
<line x1="300.5" y1="2098.5" x2="285.92" y2="2098.5" stroke="#000" stroke-width="3.333"/>
<line x1="1973.5" y1="617.5" x2="1988.08" y2="617.5" stroke="#000" stroke-width="3.333"/>
<line x1="1973.5" y1="990.5" x2="1988.08" y2="990.5" stroke="#000" stroke-width="3.333"/>
<line x1="1973.5" y1="1363.5" x2="1988.08" y2="1363.5" stroke="#000" stroke-width="3.333"/>
<line x1="1973.5" y1="1736.5" x2="1988.08" y2="1736.5" stroke="#000" stroke-width="3.333"/>
<line x1="1973.5" y1="2109.5" x2="1988.08" y2="2109.5" stroke="#000" stroke-width="3.333"/>
<text x="119.00" y="87.00" font-size="51.68" font-weight="normal" textLength="2162.00" lengthAdjust="spacingAndGlyphs">Both peaks and non peaks count: spearman R=-0.065, Pearson R=-0.044, mse=5.116</text>
<text x="865.00" y="2258.00" font-size="44.69" font-weight="normal" textLength="357.00" lengthAdjust="spacingAndGlyphs">Log Count Labels</text>
<text transform="translate(171.00,1439.00) rotate(-90)" x="0" y="0" font-size="44.69" font-weight="normal" textLength="453.00" lengthAdjust="spacingAndGlyphs">Log Count Predictions</text>
<text transform="translate(2130.00,1296.00) rotate(-90)" x="0" y="0" font-size="44.69" font-weight="normal" textLength="156.00" lengthAdjust="spacingAndGlyphs">Density</text>
<text x="353.00" y="2198.00" font-size="44.84" font-weight="bold" textLength="29.00" lengthAdjust="spacingAndGlyphs">0</text>
<text x="522.00" y="2198.00" font-size="44.84" font-weight="bold" textLength="25.00" lengthAdjust="spacingAndGlyphs">1</text>
<text x="688.00" y="2198.00" font-size="44.84" font-weight="bold" textLength="25.00" lengthAdjust="spacingAndGlyphs">2</text>
<text x="855.00" y="2198.00" font-size="44.84" font-weight="bold" textLength="25.00" lengthAdjust="spacingAndGlyphs">3</text>
<text x="1021.00" y="2198.00" font-size="44.84" font-weight="bold" textLength="26.00" lengthAdjust="spacingAndGlyphs">4</text>
<text x="1187.00" y="2198.00" font-size="44.84" font-weight="bold" textLength="26.00" lengthAdjust="spacingAndGlyphs">5</text>
<text x="1354.00" y="2198.00" font-size="44.84" font-weight="bold" textLength="28.00" lengthAdjust="spacingAndGlyphs">6</text>
<text x="1520.00" y="2198.00" font-size="44.84" font-weight="bold" textLength="27.00" lengthAdjust="spacingAndGlyphs">7</text>
<text x="1687.00" y="2198.00" font-size="44.84" font-weight="bold" textLength="26.00" lengthAdjust="spacingAndGlyphs">8</text>
<text x="200.00" y="2115.00" font-size="44.84" font-weight="bold" textLength="70.00" lengthAdjust="spacingAndGlyphs">1.7</text>
<text x="200.00" y="1902.00" font-size="44.84" font-weight="bold" textLength="69.00" lengthAdjust="spacingAndGlyphs">1.8</text>
<text x="200.00" y="1690.00" font-size="44.84" font-weight="bold" textLength="70.00" lengthAdjust="spacingAndGlyphs">1.9</text>
<text x="198.00" y="1478.00" font-size="44.84" font-weight="bold" textLength="72.00" lengthAdjust="spacingAndGlyphs">2.0</text>
<text x="198.00" y="1266.00" font-size="44.84" font-weight="bold" textLength="70.00" lengthAdjust="spacingAndGlyphs">2.1</text>
<text x="198.00" y="1054.00" font-size="44.84" font-weight="bold" textLength="70.00" lengthAdjust="spacingAndGlyphs">2.2</text>
<text x="198.00" y="841.00" font-size="44.84" font-weight="bold" textLength="70.00" lengthAdjust="spacingAndGlyphs">2.3</text>
<text x="198.00" y="629.00" font-size="44.84" font-weight="bold" textLength="70.00" lengthAdjust="spacingAndGlyphs">2.4</text>
<text x="198.00" y="417.00" font-size="44.84" font-weight="bold" textLength="70.00" lengthAdjust="spacingAndGlyphs">2.5</text>
<text x="2003.00" y="2125.00" font-size="44.84" font-weight="bold" textLength="74.00" lengthAdjust="spacingAndGlyphs">0.0</text>
<text x="2003.00" y="1752.00" font-size="44.84" font-weight="bold" textLength="72.00" lengthAdjust="spacingAndGlyphs">0.5</text>
<text x="2005.00" y="1379.00" font-size="44.84" font-weight="bold" textLength="71.00" lengthAdjust="spacingAndGlyphs">1.0</text>
<text x="2005.00" y="1007.00" font-size="44.84" font-weight="bold" textLength="69.00" lengthAdjust="spacingAndGlyphs">1.5</text>
<text x="2004.00" y="633.00" font-size="44.84" font-weight="bold" textLength="72.00" lengthAdjust="spacingAndGlyphs">2.0</text>
</svg>
</body></html>
